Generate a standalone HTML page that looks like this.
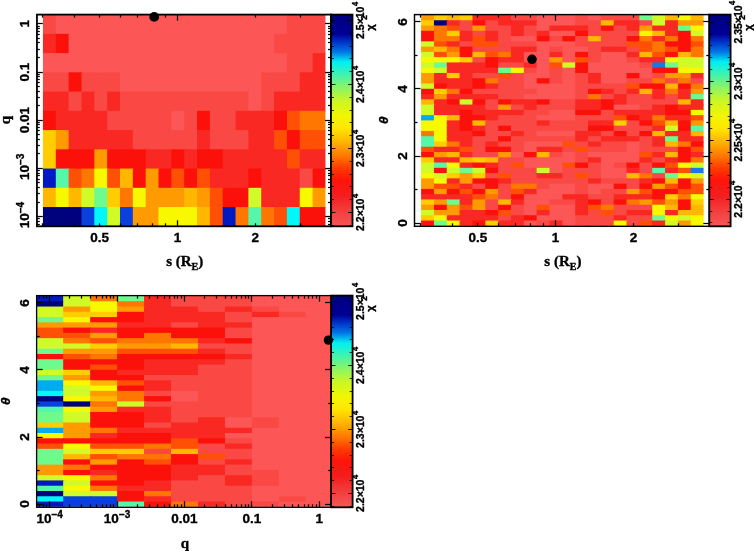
<!DOCTYPE html>
<html><head><meta charset="utf-8"><style>
html,body{margin:0;padding:0;background:#fff;}
svg{display:block;filter:blur(0.45px);}
</style></head><body>
<svg width="754" height="551" viewBox="0 0 754 551">
<rect x="0" y="0" width="754" height="551" fill="#fff"/>
<defs><linearGradient id="cbg" x1="0" y1="0" x2="0" y2="1">
<stop offset="0.0" stop-color="rgb(0, 0, 125)"/>
<stop offset="0.092" stop-color="rgb(0, 0, 150)"/>
<stop offset="0.129" stop-color="rgb(0, 50, 200)"/>
<stop offset="0.177" stop-color="rgb(0, 120, 230)"/>
<stop offset="0.224" stop-color="rgb(0, 240, 242)"/>
<stop offset="0.271" stop-color="rgb(50, 242, 190)"/>
<stop offset="0.328" stop-color="rgb(120, 244, 120)"/>
<stop offset="0.403" stop-color="rgb(200, 246, 40)"/>
<stop offset="0.479" stop-color="rgb(242, 246, 0)"/>
<stop offset="0.536" stop-color="rgb(255, 230, 0)"/>
<stop offset="0.602" stop-color="rgb(255, 180, 0)"/>
<stop offset="0.668" stop-color="rgb(255, 120, 0)"/>
<stop offset="0.724" stop-color="rgb(255, 60, 0)"/>
<stop offset="0.781" stop-color="rgb(255, 20, 10)"/>
<stop offset="0.857" stop-color="rgb(244, 30, 30)"/>
<stop offset="0.923" stop-color="rgb(244, 60, 60)"/>
<stop offset="1.0" stop-color="rgb(246, 86, 86)"/>
</linearGradient></defs>
<rect x="42.95" y="14.60" width="14.04" height="20.45" fill="#fa4944"/>
<rect x="55.79" y="14.60" width="14.04" height="20.45" fill="#fc5656"/>
<rect x="68.63" y="14.60" width="14.04" height="20.45" fill="#fc5656"/>
<rect x="81.47" y="14.60" width="14.04" height="20.45" fill="#fc5656"/>
<rect x="94.31" y="14.60" width="14.04" height="20.45" fill="#fc5656"/>
<rect x="107.15" y="14.60" width="14.04" height="20.45" fill="#fc5656"/>
<rect x="119.99" y="14.60" width="14.04" height="20.45" fill="#fc5656"/>
<rect x="132.83" y="14.60" width="14.04" height="20.45" fill="#fc5656"/>
<rect x="145.67" y="14.60" width="14.04" height="20.45" fill="#fc5656"/>
<rect x="158.51" y="14.60" width="14.04" height="20.45" fill="#fc5656"/>
<rect x="171.35" y="14.60" width="14.04" height="20.45" fill="#fc5656"/>
<rect x="184.19" y="14.60" width="14.04" height="20.45" fill="#fc5656"/>
<rect x="197.03" y="14.60" width="14.04" height="20.45" fill="#fc5656"/>
<rect x="209.87" y="14.60" width="14.04" height="20.45" fill="#fc5656"/>
<rect x="222.71" y="14.60" width="14.04" height="20.45" fill="#fc5656"/>
<rect x="235.55" y="14.60" width="14.04" height="20.45" fill="#fc5656"/>
<rect x="248.39" y="14.60" width="14.04" height="20.45" fill="#fc5656"/>
<rect x="261.23" y="14.60" width="14.04" height="20.45" fill="#fc5656"/>
<rect x="274.07" y="14.60" width="14.04" height="20.45" fill="#fc5656"/>
<rect x="286.91" y="14.60" width="14.04" height="20.45" fill="#fa4944"/>
<rect x="299.75" y="14.60" width="14.04" height="20.45" fill="#fa4944"/>
<rect x="312.59" y="14.60" width="12.84" height="20.45" fill="#fa4944"/>
<rect x="42.95" y="33.85" width="14.04" height="20.45" fill="#fa2822"/>
<rect x="55.79" y="33.85" width="14.04" height="20.45" fill="#fc100a"/>
<rect x="68.63" y="33.85" width="14.04" height="20.45" fill="#fc5656"/>
<rect x="81.47" y="33.85" width="14.04" height="20.45" fill="#fc5656"/>
<rect x="94.31" y="33.85" width="14.04" height="20.45" fill="#fc5656"/>
<rect x="107.15" y="33.85" width="14.04" height="20.45" fill="#fc5656"/>
<rect x="119.99" y="33.85" width="14.04" height="20.45" fill="#fc5656"/>
<rect x="132.83" y="33.85" width="14.04" height="20.45" fill="#fc5656"/>
<rect x="145.67" y="33.85" width="14.04" height="20.45" fill="#fc5656"/>
<rect x="158.51" y="33.85" width="14.04" height="20.45" fill="#fc5656"/>
<rect x="171.35" y="33.85" width="14.04" height="20.45" fill="#fc5656"/>
<rect x="184.19" y="33.85" width="14.04" height="20.45" fill="#fc5656"/>
<rect x="197.03" y="33.85" width="14.04" height="20.45" fill="#fc5656"/>
<rect x="209.87" y="33.85" width="14.04" height="20.45" fill="#fc5656"/>
<rect x="222.71" y="33.85" width="14.04" height="20.45" fill="#fc5656"/>
<rect x="235.55" y="33.85" width="14.04" height="20.45" fill="#fc5656"/>
<rect x="248.39" y="33.85" width="14.04" height="20.45" fill="#fc5656"/>
<rect x="261.23" y="33.85" width="14.04" height="20.45" fill="#fc5656"/>
<rect x="274.07" y="33.85" width="14.04" height="20.45" fill="#fa4944"/>
<rect x="286.91" y="33.85" width="14.04" height="20.45" fill="#fa4944"/>
<rect x="299.75" y="33.85" width="14.04" height="20.45" fill="#fa4944"/>
<rect x="312.59" y="33.85" width="12.84" height="20.45" fill="#fa4944"/>
<rect x="42.95" y="53.09" width="14.04" height="20.45" fill="#fc5656"/>
<rect x="55.79" y="53.09" width="14.04" height="20.45" fill="#fc5656"/>
<rect x="68.63" y="53.09" width="14.04" height="20.45" fill="#fc5656"/>
<rect x="81.47" y="53.09" width="14.04" height="20.45" fill="#fc5656"/>
<rect x="94.31" y="53.09" width="14.04" height="20.45" fill="#fc5656"/>
<rect x="107.15" y="53.09" width="14.04" height="20.45" fill="#fc5656"/>
<rect x="119.99" y="53.09" width="14.04" height="20.45" fill="#fc5656"/>
<rect x="132.83" y="53.09" width="14.04" height="20.45" fill="#fc5656"/>
<rect x="145.67" y="53.09" width="14.04" height="20.45" fill="#fc5656"/>
<rect x="158.51" y="53.09" width="14.04" height="20.45" fill="#fc5656"/>
<rect x="171.35" y="53.09" width="14.04" height="20.45" fill="#fc5656"/>
<rect x="184.19" y="53.09" width="14.04" height="20.45" fill="#fc5656"/>
<rect x="197.03" y="53.09" width="14.04" height="20.45" fill="#fc5656"/>
<rect x="209.87" y="53.09" width="14.04" height="20.45" fill="#fc5656"/>
<rect x="222.71" y="53.09" width="14.04" height="20.45" fill="#fc5656"/>
<rect x="235.55" y="53.09" width="14.04" height="20.45" fill="#fc5656"/>
<rect x="248.39" y="53.09" width="14.04" height="20.45" fill="#fc5656"/>
<rect x="261.23" y="53.09" width="14.04" height="20.45" fill="#fc5656"/>
<rect x="274.07" y="53.09" width="14.04" height="20.45" fill="#fc5656"/>
<rect x="286.91" y="53.09" width="14.04" height="20.45" fill="#fa4944"/>
<rect x="299.75" y="53.09" width="14.04" height="20.45" fill="#fa4944"/>
<rect x="312.59" y="53.09" width="12.84" height="20.45" fill="#fa2822"/>
<rect x="42.95" y="72.34" width="14.04" height="20.45" fill="#fa4944"/>
<rect x="55.79" y="72.34" width="14.04" height="20.45" fill="#fa4944"/>
<rect x="68.63" y="72.34" width="14.04" height="20.45" fill="#fc100a"/>
<rect x="81.47" y="72.34" width="14.04" height="20.45" fill="#fa4944"/>
<rect x="94.31" y="72.34" width="14.04" height="20.45" fill="#fa4944"/>
<rect x="107.15" y="72.34" width="14.04" height="20.45" fill="#fa4944"/>
<rect x="119.99" y="72.34" width="14.04" height="20.45" fill="#fc5656"/>
<rect x="132.83" y="72.34" width="14.04" height="20.45" fill="#fc5656"/>
<rect x="145.67" y="72.34" width="14.04" height="20.45" fill="#fc5656"/>
<rect x="158.51" y="72.34" width="14.04" height="20.45" fill="#fc5656"/>
<rect x="171.35" y="72.34" width="14.04" height="20.45" fill="#fc5656"/>
<rect x="184.19" y="72.34" width="14.04" height="20.45" fill="#fc5656"/>
<rect x="197.03" y="72.34" width="14.04" height="20.45" fill="#fc5656"/>
<rect x="209.87" y="72.34" width="14.04" height="20.45" fill="#fc5656"/>
<rect x="222.71" y="72.34" width="14.04" height="20.45" fill="#fc5656"/>
<rect x="235.55" y="72.34" width="14.04" height="20.45" fill="#fc5656"/>
<rect x="248.39" y="72.34" width="14.04" height="20.45" fill="#fc5656"/>
<rect x="261.23" y="72.34" width="14.04" height="20.45" fill="#fa4944"/>
<rect x="274.07" y="72.34" width="14.04" height="20.45" fill="#fa4944"/>
<rect x="286.91" y="72.34" width="14.04" height="20.45" fill="#fa4944"/>
<rect x="299.75" y="72.34" width="14.04" height="20.45" fill="#fa2822"/>
<rect x="312.59" y="72.34" width="12.84" height="20.45" fill="#fa2822"/>
<rect x="42.95" y="91.58" width="14.04" height="20.45" fill="#fa2822"/>
<rect x="55.79" y="91.58" width="14.04" height="20.45" fill="#fa2822"/>
<rect x="68.63" y="91.58" width="14.04" height="20.45" fill="#fa4944"/>
<rect x="81.47" y="91.58" width="14.04" height="20.45" fill="#fa2822"/>
<rect x="94.31" y="91.58" width="14.04" height="20.45" fill="#fa4944"/>
<rect x="107.15" y="91.58" width="14.04" height="20.45" fill="#fa2822"/>
<rect x="119.99" y="91.58" width="14.04" height="20.45" fill="#fa4944"/>
<rect x="132.83" y="91.58" width="14.04" height="20.45" fill="#fa4944"/>
<rect x="145.67" y="91.58" width="14.04" height="20.45" fill="#fa4944"/>
<rect x="158.51" y="91.58" width="14.04" height="20.45" fill="#fa4944"/>
<rect x="171.35" y="91.58" width="14.04" height="20.45" fill="#fa4944"/>
<rect x="184.19" y="91.58" width="14.04" height="20.45" fill="#fa4944"/>
<rect x="197.03" y="91.58" width="14.04" height="20.45" fill="#fa4944"/>
<rect x="209.87" y="91.58" width="14.04" height="20.45" fill="#fa4944"/>
<rect x="222.71" y="91.58" width="14.04" height="20.45" fill="#fa4944"/>
<rect x="235.55" y="91.58" width="14.04" height="20.45" fill="#fa4944"/>
<rect x="248.39" y="91.58" width="14.04" height="20.45" fill="#fc5656"/>
<rect x="261.23" y="91.58" width="14.04" height="20.45" fill="#fa4944"/>
<rect x="274.07" y="91.58" width="14.04" height="20.45" fill="#fa2822"/>
<rect x="286.91" y="91.58" width="14.04" height="20.45" fill="#fa2822"/>
<rect x="299.75" y="91.58" width="14.04" height="20.45" fill="#fa2822"/>
<rect x="312.59" y="91.58" width="12.84" height="20.45" fill="#fa2822"/>
<rect x="42.95" y="110.83" width="14.04" height="20.45" fill="#fc100a"/>
<rect x="55.79" y="110.83" width="14.04" height="20.45" fill="#fa2822"/>
<rect x="68.63" y="110.83" width="14.04" height="20.45" fill="#fa2822"/>
<rect x="81.47" y="110.83" width="14.04" height="20.45" fill="#fa2822"/>
<rect x="94.31" y="110.83" width="14.04" height="20.45" fill="#fa2822"/>
<rect x="107.15" y="110.83" width="14.04" height="20.45" fill="#fa4944"/>
<rect x="119.99" y="110.83" width="14.04" height="20.45" fill="#fa4944"/>
<rect x="132.83" y="110.83" width="14.04" height="20.45" fill="#fa4944"/>
<rect x="145.67" y="110.83" width="14.04" height="20.45" fill="#fa4944"/>
<rect x="158.51" y="110.83" width="14.04" height="20.45" fill="#fa4944"/>
<rect x="171.35" y="110.83" width="14.04" height="20.45" fill="#fc5656"/>
<rect x="184.19" y="110.83" width="14.04" height="20.45" fill="#fa4944"/>
<rect x="197.03" y="110.83" width="14.04" height="20.45" fill="#fc100a"/>
<rect x="209.87" y="110.83" width="14.04" height="20.45" fill="#fa4944"/>
<rect x="222.71" y="110.83" width="14.04" height="20.45" fill="#fa4944"/>
<rect x="235.55" y="110.83" width="14.04" height="20.45" fill="#fa2822"/>
<rect x="248.39" y="110.83" width="14.04" height="20.45" fill="#fa2822"/>
<rect x="261.23" y="110.83" width="14.04" height="20.45" fill="#fa2822"/>
<rect x="274.07" y="110.83" width="14.04" height="20.45" fill="#fc100a"/>
<rect x="286.91" y="110.83" width="14.04" height="20.45" fill="#ff5005"/>
<rect x="299.75" y="110.83" width="14.04" height="20.45" fill="#ff7600"/>
<rect x="312.59" y="110.83" width="12.84" height="20.45" fill="#ff7600"/>
<rect x="42.95" y="130.07" width="14.04" height="20.45" fill="#ffcd00"/>
<rect x="55.79" y="130.07" width="14.04" height="20.45" fill="#ff9b00"/>
<rect x="68.63" y="130.07" width="14.04" height="20.45" fill="#fa2822"/>
<rect x="81.47" y="130.07" width="14.04" height="20.45" fill="#fa2822"/>
<rect x="94.31" y="130.07" width="14.04" height="20.45" fill="#fa2822"/>
<rect x="107.15" y="130.07" width="14.04" height="20.45" fill="#fa2822"/>
<rect x="119.99" y="130.07" width="14.04" height="20.45" fill="#fa2822"/>
<rect x="132.83" y="130.07" width="14.04" height="20.45" fill="#fa4944"/>
<rect x="145.67" y="130.07" width="14.04" height="20.45" fill="#fa4944"/>
<rect x="158.51" y="130.07" width="14.04" height="20.45" fill="#fa4944"/>
<rect x="171.35" y="130.07" width="14.04" height="20.45" fill="#fa4944"/>
<rect x="184.19" y="130.07" width="14.04" height="20.45" fill="#fa4944"/>
<rect x="197.03" y="130.07" width="14.04" height="20.45" fill="#fa2822"/>
<rect x="209.87" y="130.07" width="14.04" height="20.45" fill="#fa4944"/>
<rect x="222.71" y="130.07" width="14.04" height="20.45" fill="#fa4944"/>
<rect x="235.55" y="130.07" width="14.04" height="20.45" fill="#fa4944"/>
<rect x="248.39" y="130.07" width="14.04" height="20.45" fill="#fa2822"/>
<rect x="261.23" y="130.07" width="14.04" height="20.45" fill="#fa2822"/>
<rect x="274.07" y="130.07" width="14.04" height="20.45" fill="#ff5005"/>
<rect x="286.91" y="130.07" width="14.04" height="20.45" fill="#fc100a"/>
<rect x="299.75" y="130.07" width="14.04" height="20.45" fill="#ff5005"/>
<rect x="312.59" y="130.07" width="12.84" height="20.45" fill="#ff5005"/>
<rect x="42.95" y="149.32" width="14.04" height="20.45" fill="#ffcd00"/>
<rect x="55.79" y="149.32" width="14.04" height="20.45" fill="#fc100a"/>
<rect x="68.63" y="149.32" width="14.04" height="20.45" fill="#fc100a"/>
<rect x="81.47" y="149.32" width="14.04" height="20.45" fill="#fc100a"/>
<rect x="94.31" y="149.32" width="14.04" height="20.45" fill="#ff9b00"/>
<rect x="107.15" y="149.32" width="14.04" height="20.45" fill="#fc100a"/>
<rect x="119.99" y="149.32" width="14.04" height="20.45" fill="#fc100a"/>
<rect x="132.83" y="149.32" width="14.04" height="20.45" fill="#fc100a"/>
<rect x="145.67" y="149.32" width="14.04" height="20.45" fill="#fa2822"/>
<rect x="158.51" y="149.32" width="14.04" height="20.45" fill="#fa2822"/>
<rect x="171.35" y="149.32" width="14.04" height="20.45" fill="#fc100a"/>
<rect x="184.19" y="149.32" width="14.04" height="20.45" fill="#fa2822"/>
<rect x="197.03" y="149.32" width="14.04" height="20.45" fill="#fc100a"/>
<rect x="209.87" y="149.32" width="14.04" height="20.45" fill="#fc100a"/>
<rect x="222.71" y="149.32" width="14.04" height="20.45" fill="#fa2822"/>
<rect x="235.55" y="149.32" width="14.04" height="20.45" fill="#fa2822"/>
<rect x="248.39" y="149.32" width="14.04" height="20.45" fill="#fa2822"/>
<rect x="261.23" y="149.32" width="14.04" height="20.45" fill="#fa2822"/>
<rect x="274.07" y="149.32" width="14.04" height="20.45" fill="#fa2822"/>
<rect x="286.91" y="149.32" width="14.04" height="20.45" fill="#ff5005"/>
<rect x="299.75" y="149.32" width="14.04" height="20.45" fill="#fa2822"/>
<rect x="312.59" y="149.32" width="12.84" height="20.45" fill="#fa2822"/>
<rect x="42.95" y="168.56" width="14.04" height="20.45" fill="#0019c3"/>
<rect x="55.79" y="168.56" width="14.04" height="20.45" fill="#55f8aa"/>
<rect x="68.63" y="168.56" width="14.04" height="20.45" fill="#ff5005"/>
<rect x="81.47" y="168.56" width="14.04" height="20.45" fill="#ff7600"/>
<rect x="94.31" y="168.56" width="14.04" height="20.45" fill="#f8f800"/>
<rect x="107.15" y="168.56" width="14.04" height="20.45" fill="#ff5005"/>
<rect x="119.99" y="168.56" width="14.04" height="20.45" fill="#ffb700"/>
<rect x="132.83" y="168.56" width="14.04" height="20.45" fill="#fc100a"/>
<rect x="145.67" y="168.56" width="14.04" height="20.45" fill="#ff9b00"/>
<rect x="158.51" y="168.56" width="14.04" height="20.45" fill="#fc100a"/>
<rect x="171.35" y="168.56" width="14.04" height="20.45" fill="#ff5005"/>
<rect x="184.19" y="168.56" width="14.04" height="20.45" fill="#fc100a"/>
<rect x="197.03" y="168.56" width="14.04" height="20.45" fill="#ff5005"/>
<rect x="209.87" y="168.56" width="14.04" height="20.45" fill="#fa2822"/>
<rect x="222.71" y="168.56" width="14.04" height="20.45" fill="#fa2822"/>
<rect x="235.55" y="168.56" width="14.04" height="20.45" fill="#fa2822"/>
<rect x="248.39" y="168.56" width="14.04" height="20.45" fill="#fc100a"/>
<rect x="261.23" y="168.56" width="14.04" height="20.45" fill="#fa2822"/>
<rect x="274.07" y="168.56" width="14.04" height="20.45" fill="#fa2822"/>
<rect x="286.91" y="168.56" width="14.04" height="20.45" fill="#fa2822"/>
<rect x="299.75" y="168.56" width="14.04" height="20.45" fill="#fa4944"/>
<rect x="312.59" y="168.56" width="12.84" height="20.45" fill="#fc100a"/>
<rect x="42.95" y="187.81" width="14.04" height="20.45" fill="#ffb700"/>
<rect x="55.79" y="187.81" width="14.04" height="20.45" fill="#f8f800"/>
<rect x="68.63" y="187.81" width="14.04" height="20.45" fill="#ffb700"/>
<rect x="81.47" y="187.81" width="14.04" height="20.45" fill="#d0fa28"/>
<rect x="94.31" y="187.81" width="14.04" height="20.45" fill="#6efa8c"/>
<rect x="107.15" y="187.81" width="14.04" height="20.45" fill="#ffcd00"/>
<rect x="119.99" y="187.81" width="14.04" height="20.45" fill="#ff7600"/>
<rect x="132.83" y="187.81" width="14.04" height="20.45" fill="#f8f800"/>
<rect x="145.67" y="187.81" width="14.04" height="20.45" fill="#ff9b00"/>
<rect x="158.51" y="187.81" width="14.04" height="20.45" fill="#ff9b00"/>
<rect x="171.35" y="187.81" width="14.04" height="20.45" fill="#ff9b00"/>
<rect x="184.19" y="187.81" width="14.04" height="20.45" fill="#ffb700"/>
<rect x="197.03" y="187.81" width="14.04" height="20.45" fill="#ff9b00"/>
<rect x="209.87" y="187.81" width="14.04" height="20.45" fill="#ff5005"/>
<rect x="222.71" y="187.81" width="14.04" height="20.45" fill="#fc100a"/>
<rect x="235.55" y="187.81" width="14.04" height="20.45" fill="#fc100a"/>
<rect x="248.39" y="187.81" width="14.04" height="20.45" fill="#d0fa28"/>
<rect x="261.23" y="187.81" width="14.04" height="20.45" fill="#fa2822"/>
<rect x="274.07" y="187.81" width="14.04" height="20.45" fill="#fa2822"/>
<rect x="286.91" y="187.81" width="14.04" height="20.45" fill="#fa2822"/>
<rect x="299.75" y="187.81" width="14.04" height="20.45" fill="#f8f800"/>
<rect x="312.59" y="187.81" width="12.84" height="20.45" fill="#ff9b00"/>
<rect x="42.95" y="207.05" width="14.04" height="19.25" fill="#00027d"/>
<rect x="55.79" y="207.05" width="14.04" height="19.25" fill="#00027d"/>
<rect x="68.63" y="207.05" width="14.04" height="19.25" fill="#00027d"/>
<rect x="81.47" y="207.05" width="14.04" height="19.25" fill="#0a41de"/>
<rect x="94.31" y="207.05" width="14.04" height="19.25" fill="#00f8fa"/>
<rect x="107.15" y="207.05" width="14.04" height="19.25" fill="#d0fa28"/>
<rect x="119.99" y="207.05" width="14.04" height="19.25" fill="#0a41de"/>
<rect x="132.83" y="207.05" width="14.04" height="19.25" fill="#ff9b00"/>
<rect x="145.67" y="207.05" width="14.04" height="19.25" fill="#ff9b00"/>
<rect x="158.51" y="207.05" width="14.04" height="19.25" fill="#f8f800"/>
<rect x="171.35" y="207.05" width="14.04" height="19.25" fill="#f8f800"/>
<rect x="184.19" y="207.05" width="14.04" height="19.25" fill="#f8f800"/>
<rect x="197.03" y="207.05" width="14.04" height="19.25" fill="#ffb700"/>
<rect x="209.87" y="207.05" width="14.04" height="19.25" fill="#ff5005"/>
<rect x="222.71" y="207.05" width="14.04" height="19.25" fill="#0019c3"/>
<rect x="235.55" y="207.05" width="14.04" height="19.25" fill="#ff7600"/>
<rect x="248.39" y="207.05" width="14.04" height="19.25" fill="#55f8aa"/>
<rect x="261.23" y="207.05" width="14.04" height="19.25" fill="#ff7600"/>
<rect x="274.07" y="207.05" width="14.04" height="19.25" fill="#ff5005"/>
<rect x="286.91" y="207.05" width="14.04" height="19.25" fill="#00f8fa"/>
<rect x="299.75" y="207.05" width="14.04" height="19.25" fill="#fc100a"/>
<rect x="312.59" y="207.05" width="12.84" height="19.25" fill="#fc100a"/>
<line x1="36.80" y1="224.50" x2="39.80" y2="224.50" stroke="#000" stroke-width="1.25"/>
<line x1="331.00" y1="224.50" x2="328.00" y2="224.50" stroke="#000" stroke-width="1.25"/>
<line x1="36.80" y1="221.50" x2="39.80" y2="221.50" stroke="#000" stroke-width="1.25"/>
<line x1="331.00" y1="221.50" x2="328.00" y2="221.50" stroke="#000" stroke-width="1.25"/>
<line x1="36.80" y1="218.50" x2="39.80" y2="218.50" stroke="#000" stroke-width="1.25"/>
<line x1="331.00" y1="218.50" x2="328.00" y2="218.50" stroke="#000" stroke-width="1.25"/>
<line x1="36.80" y1="216.50" x2="42.80" y2="216.50" stroke="#000" stroke-width="1.25"/>
<line x1="331.00" y1="216.50" x2="325.00" y2="216.50" stroke="#000" stroke-width="1.25"/>
<line x1="36.80" y1="202.50" x2="39.80" y2="202.50" stroke="#000" stroke-width="1.25"/>
<line x1="331.00" y1="202.50" x2="328.00" y2="202.50" stroke="#000" stroke-width="1.25"/>
<line x1="36.80" y1="193.50" x2="39.80" y2="193.50" stroke="#000" stroke-width="1.25"/>
<line x1="331.00" y1="193.50" x2="328.00" y2="193.50" stroke="#000" stroke-width="1.25"/>
<line x1="36.80" y1="187.50" x2="39.80" y2="187.50" stroke="#000" stroke-width="1.25"/>
<line x1="331.00" y1="187.50" x2="328.00" y2="187.50" stroke="#000" stroke-width="1.25"/>
<line x1="36.80" y1="182.50" x2="39.80" y2="182.50" stroke="#000" stroke-width="1.25"/>
<line x1="331.00" y1="182.50" x2="328.00" y2="182.50" stroke="#000" stroke-width="1.25"/>
<line x1="36.80" y1="179.50" x2="39.80" y2="179.50" stroke="#000" stroke-width="1.25"/>
<line x1="331.00" y1="179.50" x2="328.00" y2="179.50" stroke="#000" stroke-width="1.25"/>
<line x1="36.80" y1="175.50" x2="39.80" y2="175.50" stroke="#000" stroke-width="1.25"/>
<line x1="331.00" y1="175.50" x2="328.00" y2="175.50" stroke="#000" stroke-width="1.25"/>
<line x1="36.80" y1="173.50" x2="39.80" y2="173.50" stroke="#000" stroke-width="1.25"/>
<line x1="331.00" y1="173.50" x2="328.00" y2="173.50" stroke="#000" stroke-width="1.25"/>
<line x1="36.80" y1="170.50" x2="39.80" y2="170.50" stroke="#000" stroke-width="1.25"/>
<line x1="331.00" y1="170.50" x2="328.00" y2="170.50" stroke="#000" stroke-width="1.25"/>
<line x1="36.80" y1="168.50" x2="42.80" y2="168.50" stroke="#000" stroke-width="1.25"/>
<line x1="331.00" y1="168.50" x2="325.00" y2="168.50" stroke="#000" stroke-width="1.25"/>
<line x1="36.80" y1="153.50" x2="39.80" y2="153.50" stroke="#000" stroke-width="1.25"/>
<line x1="331.00" y1="153.50" x2="328.00" y2="153.50" stroke="#000" stroke-width="1.25"/>
<line x1="36.80" y1="145.50" x2="39.80" y2="145.50" stroke="#000" stroke-width="1.25"/>
<line x1="331.00" y1="145.50" x2="328.00" y2="145.50" stroke="#000" stroke-width="1.25"/>
<line x1="36.80" y1="139.50" x2="39.80" y2="139.50" stroke="#000" stroke-width="1.25"/>
<line x1="331.00" y1="139.50" x2="328.00" y2="139.50" stroke="#000" stroke-width="1.25"/>
<line x1="36.80" y1="134.50" x2="39.80" y2="134.50" stroke="#000" stroke-width="1.25"/>
<line x1="331.00" y1="134.50" x2="328.00" y2="134.50" stroke="#000" stroke-width="1.25"/>
<line x1="36.80" y1="130.50" x2="39.80" y2="130.50" stroke="#000" stroke-width="1.25"/>
<line x1="331.00" y1="130.50" x2="328.00" y2="130.50" stroke="#000" stroke-width="1.25"/>
<line x1="36.80" y1="127.50" x2="39.80" y2="127.50" stroke="#000" stroke-width="1.25"/>
<line x1="331.00" y1="127.50" x2="328.00" y2="127.50" stroke="#000" stroke-width="1.25"/>
<line x1="36.80" y1="124.50" x2="39.80" y2="124.50" stroke="#000" stroke-width="1.25"/>
<line x1="331.00" y1="124.50" x2="328.00" y2="124.50" stroke="#000" stroke-width="1.25"/>
<line x1="36.80" y1="122.50" x2="39.80" y2="122.50" stroke="#000" stroke-width="1.25"/>
<line x1="331.00" y1="122.50" x2="328.00" y2="122.50" stroke="#000" stroke-width="1.25"/>
<line x1="36.80" y1="120.50" x2="42.80" y2="120.50" stroke="#000" stroke-width="1.25"/>
<line x1="331.00" y1="120.50" x2="325.00" y2="120.50" stroke="#000" stroke-width="1.25"/>
<line x1="36.80" y1="105.50" x2="39.80" y2="105.50" stroke="#000" stroke-width="1.25"/>
<line x1="331.00" y1="105.50" x2="328.00" y2="105.50" stroke="#000" stroke-width="1.25"/>
<line x1="36.80" y1="97.50" x2="39.80" y2="97.50" stroke="#000" stroke-width="1.25"/>
<line x1="331.00" y1="97.50" x2="328.00" y2="97.50" stroke="#000" stroke-width="1.25"/>
<line x1="36.80" y1="91.50" x2="39.80" y2="91.50" stroke="#000" stroke-width="1.25"/>
<line x1="331.00" y1="91.50" x2="328.00" y2="91.50" stroke="#000" stroke-width="1.25"/>
<line x1="36.80" y1="86.50" x2="39.80" y2="86.50" stroke="#000" stroke-width="1.25"/>
<line x1="331.00" y1="86.50" x2="328.00" y2="86.50" stroke="#000" stroke-width="1.25"/>
<line x1="36.80" y1="82.50" x2="39.80" y2="82.50" stroke="#000" stroke-width="1.25"/>
<line x1="331.00" y1="82.50" x2="328.00" y2="82.50" stroke="#000" stroke-width="1.25"/>
<line x1="36.80" y1="79.50" x2="39.80" y2="79.50" stroke="#000" stroke-width="1.25"/>
<line x1="331.00" y1="79.50" x2="328.00" y2="79.50" stroke="#000" stroke-width="1.25"/>
<line x1="36.80" y1="76.50" x2="39.80" y2="76.50" stroke="#000" stroke-width="1.25"/>
<line x1="331.00" y1="76.50" x2="328.00" y2="76.50" stroke="#000" stroke-width="1.25"/>
<line x1="36.80" y1="74.50" x2="39.80" y2="74.50" stroke="#000" stroke-width="1.25"/>
<line x1="331.00" y1="74.50" x2="328.00" y2="74.50" stroke="#000" stroke-width="1.25"/>
<line x1="36.80" y1="72.50" x2="42.80" y2="72.50" stroke="#000" stroke-width="1.25"/>
<line x1="331.00" y1="72.50" x2="325.00" y2="72.50" stroke="#000" stroke-width="1.25"/>
<line x1="36.80" y1="57.50" x2="39.80" y2="57.50" stroke="#000" stroke-width="1.25"/>
<line x1="331.00" y1="57.50" x2="328.00" y2="57.50" stroke="#000" stroke-width="1.25"/>
<line x1="36.80" y1="49.50" x2="39.80" y2="49.50" stroke="#000" stroke-width="1.25"/>
<line x1="331.00" y1="49.50" x2="328.00" y2="49.50" stroke="#000" stroke-width="1.25"/>
<line x1="36.80" y1="42.50" x2="39.80" y2="42.50" stroke="#000" stroke-width="1.25"/>
<line x1="331.00" y1="42.50" x2="328.00" y2="42.50" stroke="#000" stroke-width="1.25"/>
<line x1="36.80" y1="38.50" x2="39.80" y2="38.50" stroke="#000" stroke-width="1.25"/>
<line x1="331.00" y1="38.50" x2="328.00" y2="38.50" stroke="#000" stroke-width="1.25"/>
<line x1="36.80" y1="34.50" x2="39.80" y2="34.50" stroke="#000" stroke-width="1.25"/>
<line x1="331.00" y1="34.50" x2="328.00" y2="34.50" stroke="#000" stroke-width="1.25"/>
<line x1="36.80" y1="31.50" x2="39.80" y2="31.50" stroke="#000" stroke-width="1.25"/>
<line x1="331.00" y1="31.50" x2="328.00" y2="31.50" stroke="#000" stroke-width="1.25"/>
<line x1="36.80" y1="28.50" x2="39.80" y2="28.50" stroke="#000" stroke-width="1.25"/>
<line x1="331.00" y1="28.50" x2="328.00" y2="28.50" stroke="#000" stroke-width="1.25"/>
<line x1="36.80" y1="26.50" x2="39.80" y2="26.50" stroke="#000" stroke-width="1.25"/>
<line x1="331.00" y1="26.50" x2="328.00" y2="26.50" stroke="#000" stroke-width="1.25"/>
<line x1="36.80" y1="23.50" x2="42.80" y2="23.50" stroke="#000" stroke-width="1.25"/>
<line x1="331.00" y1="23.50" x2="325.00" y2="23.50" stroke="#000" stroke-width="1.25"/>
<line x1="42.50" y1="226.30" x2="42.50" y2="223.30" stroke="#000" stroke-width="1.25"/>
<line x1="42.50" y1="14.60" x2="42.50" y2="17.60" stroke="#000" stroke-width="1.25"/>
<line x1="74.50" y1="226.30" x2="74.50" y2="223.30" stroke="#000" stroke-width="1.25"/>
<line x1="74.50" y1="14.60" x2="74.50" y2="17.60" stroke="#000" stroke-width="1.25"/>
<line x1="99.50" y1="226.30" x2="99.50" y2="223.30" stroke="#000" stroke-width="1.25"/>
<line x1="99.50" y1="14.60" x2="99.50" y2="17.60" stroke="#000" stroke-width="1.25"/>
<line x1="120.50" y1="226.30" x2="120.50" y2="223.30" stroke="#000" stroke-width="1.25"/>
<line x1="120.50" y1="14.60" x2="120.50" y2="17.60" stroke="#000" stroke-width="1.25"/>
<line x1="137.50" y1="226.30" x2="137.50" y2="223.30" stroke="#000" stroke-width="1.25"/>
<line x1="137.50" y1="14.60" x2="137.50" y2="17.60" stroke="#000" stroke-width="1.25"/>
<line x1="152.50" y1="226.30" x2="152.50" y2="223.30" stroke="#000" stroke-width="1.25"/>
<line x1="152.50" y1="14.60" x2="152.50" y2="17.60" stroke="#000" stroke-width="1.25"/>
<line x1="165.50" y1="226.30" x2="165.50" y2="223.30" stroke="#000" stroke-width="1.25"/>
<line x1="165.50" y1="14.60" x2="165.50" y2="17.60" stroke="#000" stroke-width="1.25"/>
<line x1="177.50" y1="226.30" x2="177.50" y2="220.30" stroke="#000" stroke-width="1.25"/>
<line x1="177.50" y1="14.60" x2="177.50" y2="20.60" stroke="#000" stroke-width="1.25"/>
<line x1="255.50" y1="226.30" x2="255.50" y2="223.30" stroke="#000" stroke-width="1.25"/>
<line x1="255.50" y1="14.60" x2="255.50" y2="17.60" stroke="#000" stroke-width="1.25"/>
<line x1="300.50" y1="226.30" x2="300.50" y2="223.30" stroke="#000" stroke-width="1.25"/>
<line x1="300.50" y1="14.60" x2="300.50" y2="17.60" stroke="#000" stroke-width="1.25"/>
<rect x="36.95" y="14.6" width="294.05" height="211.70" fill="none" stroke="#000" stroke-width="1.8"/>
<rect x="331.00" y="14.60" width="21.50" height="211.70" fill="url(#cbg)"/>
<line x1="331.00" y1="20.50" x2="334.00" y2="20.50" stroke="#000" stroke-width="0.8"/>
<line x1="352.50" y1="20.50" x2="349.50" y2="20.50" stroke="#000" stroke-width="0.8"/>
<line x1="331.00" y1="33.50" x2="334.00" y2="33.50" stroke="#000" stroke-width="0.8"/>
<line x1="352.50" y1="33.50" x2="349.50" y2="33.50" stroke="#000" stroke-width="0.8"/>
<line x1="331.00" y1="46.50" x2="334.00" y2="46.50" stroke="#000" stroke-width="0.8"/>
<line x1="352.50" y1="46.50" x2="349.50" y2="46.50" stroke="#000" stroke-width="0.8"/>
<line x1="331.00" y1="58.50" x2="334.00" y2="58.50" stroke="#000" stroke-width="0.8"/>
<line x1="352.50" y1="58.50" x2="349.50" y2="58.50" stroke="#000" stroke-width="0.8"/>
<line x1="331.00" y1="71.50" x2="334.00" y2="71.50" stroke="#000" stroke-width="0.8"/>
<line x1="352.50" y1="71.50" x2="349.50" y2="71.50" stroke="#000" stroke-width="0.8"/>
<line x1="331.00" y1="84.50" x2="334.00" y2="84.50" stroke="#000" stroke-width="0.8"/>
<line x1="352.50" y1="84.50" x2="349.50" y2="84.50" stroke="#000" stroke-width="0.8"/>
<line x1="331.00" y1="97.50" x2="334.00" y2="97.50" stroke="#000" stroke-width="0.8"/>
<line x1="352.50" y1="97.50" x2="349.50" y2="97.50" stroke="#000" stroke-width="0.8"/>
<line x1="331.00" y1="110.50" x2="334.00" y2="110.50" stroke="#000" stroke-width="0.8"/>
<line x1="352.50" y1="110.50" x2="349.50" y2="110.50" stroke="#000" stroke-width="0.8"/>
<line x1="331.00" y1="122.50" x2="334.00" y2="122.50" stroke="#000" stroke-width="0.8"/>
<line x1="352.50" y1="122.50" x2="349.50" y2="122.50" stroke="#000" stroke-width="0.8"/>
<line x1="331.00" y1="135.50" x2="334.00" y2="135.50" stroke="#000" stroke-width="0.8"/>
<line x1="352.50" y1="135.50" x2="349.50" y2="135.50" stroke="#000" stroke-width="0.8"/>
<line x1="331.00" y1="148.50" x2="334.00" y2="148.50" stroke="#000" stroke-width="0.8"/>
<line x1="352.50" y1="148.50" x2="349.50" y2="148.50" stroke="#000" stroke-width="0.8"/>
<line x1="331.00" y1="161.50" x2="334.00" y2="161.50" stroke="#000" stroke-width="0.8"/>
<line x1="352.50" y1="161.50" x2="349.50" y2="161.50" stroke="#000" stroke-width="0.8"/>
<line x1="331.00" y1="174.50" x2="334.00" y2="174.50" stroke="#000" stroke-width="0.8"/>
<line x1="352.50" y1="174.50" x2="349.50" y2="174.50" stroke="#000" stroke-width="0.8"/>
<line x1="331.00" y1="186.50" x2="334.00" y2="186.50" stroke="#000" stroke-width="0.8"/>
<line x1="352.50" y1="186.50" x2="349.50" y2="186.50" stroke="#000" stroke-width="0.8"/>
<line x1="331.00" y1="199.50" x2="334.00" y2="199.50" stroke="#000" stroke-width="0.8"/>
<line x1="352.50" y1="199.50" x2="349.50" y2="199.50" stroke="#000" stroke-width="0.8"/>
<line x1="331.00" y1="212.50" x2="334.00" y2="212.50" stroke="#000" stroke-width="0.8"/>
<line x1="352.50" y1="212.50" x2="349.50" y2="212.50" stroke="#000" stroke-width="0.8"/>
<line x1="331.00" y1="225.50" x2="334.00" y2="225.50" stroke="#000" stroke-width="0.8"/>
<line x1="352.50" y1="225.50" x2="349.50" y2="225.50" stroke="#000" stroke-width="0.8"/>
<line x1="331.00" y1="20.50" x2="335.50" y2="20.50" stroke="#000" stroke-width="0.8"/>
<line x1="352.50" y1="20.50" x2="348.00" y2="20.50" stroke="#000" stroke-width="0.8"/>
<line x1="331.00" y1="84.50" x2="335.50" y2="84.50" stroke="#000" stroke-width="0.8"/>
<line x1="352.50" y1="84.50" x2="348.00" y2="84.50" stroke="#000" stroke-width="0.8"/>
<line x1="331.00" y1="148.50" x2="335.50" y2="148.50" stroke="#000" stroke-width="0.8"/>
<line x1="352.50" y1="148.50" x2="348.00" y2="148.50" stroke="#000" stroke-width="0.8"/>
<line x1="331.00" y1="212.50" x2="335.50" y2="212.50" stroke="#000" stroke-width="0.8"/>
<line x1="352.50" y1="212.50" x2="348.00" y2="212.50" stroke="#000" stroke-width="0.8"/>
<rect x="331.00" y="14.60" width="21.50" height="211.70" fill="none" stroke="#000" stroke-width="1.8"/>
<text transform="translate(29.20,23.80) rotate(-90)" font-family="Liberation Sans" font-weight="bold" font-size="13.5" text-anchor="middle" stroke="#000" stroke-width="0.35">1</text>
<text transform="translate(29.20,72.00) rotate(-90)" font-family="Liberation Sans" font-weight="bold" font-size="13.5" text-anchor="middle" stroke="#000" stroke-width="0.35">0.1</text>
<text transform="translate(29.20,120.20) rotate(-90)" font-family="Liberation Sans" font-weight="bold" font-size="13.5" text-anchor="middle" stroke="#000" stroke-width="0.35">0.01</text>
<text transform="translate(29.20,166.90) rotate(-90)" font-family="Liberation Sans" font-weight="bold" font-size="13.5" text-anchor="middle" stroke="#000" stroke-width="0.35">10<tspan dy="-5" font-size="10">−3</tspan></text>
<text transform="translate(29.20,215.10) rotate(-90)" font-family="Liberation Sans" font-weight="bold" font-size="13.5" text-anchor="middle" stroke="#000" stroke-width="0.35">10<tspan dy="-5" font-size="10">−4</tspan></text>
<text transform="translate(9.60,120.00) rotate(-90)" font-family="Liberation Serif" font-weight="bold" font-size="15" text-anchor="middle" stroke="#000" stroke-width="0.35">q</text>
<text transform="translate(99.58,241.70)" font-family="Liberation Sans" font-weight="bold" font-size="13.5" text-anchor="middle" stroke="#000" stroke-width="0.35">0.5</text>
<text transform="translate(177.40,241.70)" font-family="Liberation Sans" font-weight="bold" font-size="13.5" text-anchor="middle" stroke="#000" stroke-width="0.35">1</text>
<text transform="translate(255.22,241.70)" font-family="Liberation Sans" font-weight="bold" font-size="13.5" text-anchor="middle" stroke="#000" stroke-width="0.35">2</text>
<text transform="translate(184.70,266.30)" font-family="Liberation Serif" font-weight="bold" font-size="15" text-anchor="middle" stroke="#000" stroke-width="0.35">s (R<tspan dy="4" font-size="10">E</tspan><tspan dy="-4">)</tspan></text>
<text transform="translate(364.20,212.40) rotate(-90) scale(0.92,1)" font-family="Liberation Sans" font-weight="bold" font-size="11.4" text-anchor="middle" stroke="#000" stroke-width="0.35">2.2×10<tspan dx="0.5" dy="-6.5" font-size="8.2">4</tspan></text>
<text transform="translate(364.20,148.40) rotate(-90) scale(0.92,1)" font-family="Liberation Sans" font-weight="bold" font-size="11.4" text-anchor="middle" stroke="#000" stroke-width="0.35">2.3×10<tspan dx="0.5" dy="-6.5" font-size="8.2">4</tspan></text>
<text transform="translate(364.20,84.40) rotate(-90) scale(0.92,1)" font-family="Liberation Sans" font-weight="bold" font-size="11.4" text-anchor="middle" stroke="#000" stroke-width="0.35">2.4×10<tspan dx="0.5" dy="-6.5" font-size="8.2">4</tspan></text>
<text transform="translate(364.20,20.40) rotate(-90) scale(0.92,1)" font-family="Liberation Sans" font-weight="bold" font-size="11.4" text-anchor="middle" stroke="#000" stroke-width="0.35">2.5×10<tspan dx="0.5" dy="-6.5" font-size="8.2">4</tspan></text>
<text transform="translate(373.60,23.00) rotate(-90)" font-family="Liberation Sans" font-weight="bold" font-size="11.4" text-anchor="middle" stroke="#000" stroke-width="0.35">χ<tspan dx="4.5" dy="-7" font-size="8.2">2</tspan></text>
<circle cx="154.2" cy="16.9" r="4.9" fill="#000"/>
<rect x="421.10" y="15.00" width="14.04" height="6.47" fill="#ff9b00"/>
<rect x="433.94" y="15.00" width="14.04" height="6.47" fill="#ffcd00"/>
<rect x="446.78" y="15.00" width="14.04" height="6.47" fill="#ffb700"/>
<rect x="459.62" y="15.00" width="14.04" height="6.47" fill="#ffcd00"/>
<rect x="472.46" y="15.00" width="14.04" height="6.47" fill="#fa2822"/>
<rect x="485.30" y="15.00" width="14.04" height="6.47" fill="#fa2822"/>
<rect x="498.14" y="15.00" width="14.04" height="6.47" fill="#fa2822"/>
<rect x="510.98" y="15.00" width="14.04" height="6.47" fill="#fa4944"/>
<rect x="523.82" y="15.00" width="14.04" height="6.47" fill="#fa4944"/>
<rect x="536.66" y="15.00" width="14.04" height="6.47" fill="#fc5656"/>
<rect x="549.50" y="15.00" width="14.04" height="6.47" fill="#fc5656"/>
<rect x="562.34" y="15.00" width="14.04" height="6.47" fill="#fc5656"/>
<rect x="575.18" y="15.00" width="14.04" height="6.47" fill="#fa4944"/>
<rect x="588.02" y="15.00" width="14.04" height="6.47" fill="#fc5656"/>
<rect x="600.86" y="15.00" width="14.04" height="6.47" fill="#fa4944"/>
<rect x="613.70" y="15.00" width="14.04" height="6.47" fill="#fa4944"/>
<rect x="626.54" y="15.00" width="14.04" height="6.47" fill="#fa4944"/>
<rect x="639.38" y="15.00" width="14.04" height="6.47" fill="#6efa8c"/>
<rect x="652.22" y="15.00" width="14.04" height="6.47" fill="#d0fa28"/>
<rect x="665.06" y="15.00" width="14.04" height="6.47" fill="#ffb700"/>
<rect x="677.90" y="15.00" width="14.04" height="6.47" fill="#f8f800"/>
<rect x="690.74" y="15.00" width="12.84" height="6.47" fill="#ffb700"/>
<rect x="421.10" y="20.27" width="14.04" height="6.47" fill="#ffcd00"/>
<rect x="433.94" y="20.27" width="14.04" height="6.47" fill="#00027d"/>
<rect x="446.78" y="20.27" width="14.04" height="6.47" fill="#fa2822"/>
<rect x="459.62" y="20.27" width="14.04" height="6.47" fill="#fa4944"/>
<rect x="472.46" y="20.27" width="14.04" height="6.47" fill="#fc100a"/>
<rect x="485.30" y="20.27" width="14.04" height="6.47" fill="#fa4944"/>
<rect x="498.14" y="20.27" width="14.04" height="6.47" fill="#fa2822"/>
<rect x="510.98" y="20.27" width="14.04" height="6.47" fill="#fa2822"/>
<rect x="523.82" y="20.27" width="14.04" height="6.47" fill="#fa2822"/>
<rect x="536.66" y="20.27" width="14.04" height="6.47" fill="#fc5656"/>
<rect x="549.50" y="20.27" width="14.04" height="6.47" fill="#fc5656"/>
<rect x="562.34" y="20.27" width="14.04" height="6.47" fill="#fc5656"/>
<rect x="575.18" y="20.27" width="14.04" height="6.47" fill="#fa4944"/>
<rect x="588.02" y="20.27" width="14.04" height="6.47" fill="#fa4944"/>
<rect x="600.86" y="20.27" width="14.04" height="6.47" fill="#ffb700"/>
<rect x="613.70" y="20.27" width="14.04" height="6.47" fill="#fa2822"/>
<rect x="626.54" y="20.27" width="14.04" height="6.47" fill="#fa2822"/>
<rect x="639.38" y="20.27" width="14.04" height="6.47" fill="#fa4944"/>
<rect x="652.22" y="20.27" width="14.04" height="6.47" fill="#d0fa28"/>
<rect x="665.06" y="20.27" width="14.04" height="6.47" fill="#fa2822"/>
<rect x="677.90" y="20.27" width="14.04" height="6.47" fill="#ff9b00"/>
<rect x="690.74" y="20.27" width="12.84" height="6.47" fill="#ff9b00"/>
<rect x="421.10" y="25.54" width="14.04" height="6.47" fill="#ff9b00"/>
<rect x="433.94" y="25.54" width="14.04" height="6.47" fill="#ff7600"/>
<rect x="446.78" y="25.54" width="14.04" height="6.47" fill="#ff5005"/>
<rect x="459.62" y="25.54" width="14.04" height="6.47" fill="#fa4944"/>
<rect x="472.46" y="25.54" width="14.04" height="6.47" fill="#ff9b00"/>
<rect x="485.30" y="25.54" width="14.04" height="6.47" fill="#fa4944"/>
<rect x="498.14" y="25.54" width="14.04" height="6.47" fill="#fa4944"/>
<rect x="510.98" y="25.54" width="14.04" height="6.47" fill="#fa2822"/>
<rect x="523.82" y="25.54" width="14.04" height="6.47" fill="#fa4944"/>
<rect x="536.66" y="25.54" width="14.04" height="6.47" fill="#fc5656"/>
<rect x="549.50" y="25.54" width="14.04" height="6.47" fill="#fa2822"/>
<rect x="562.34" y="25.54" width="14.04" height="6.47" fill="#fa2822"/>
<rect x="575.18" y="25.54" width="14.04" height="6.47" fill="#fa2822"/>
<rect x="588.02" y="25.54" width="14.04" height="6.47" fill="#fa4944"/>
<rect x="600.86" y="25.54" width="14.04" height="6.47" fill="#fc100a"/>
<rect x="613.70" y="25.54" width="14.04" height="6.47" fill="#fa4944"/>
<rect x="626.54" y="25.54" width="14.04" height="6.47" fill="#fa2822"/>
<rect x="639.38" y="25.54" width="14.04" height="6.47" fill="#ff9b00"/>
<rect x="652.22" y="25.54" width="14.04" height="6.47" fill="#fa2822"/>
<rect x="665.06" y="25.54" width="14.04" height="6.47" fill="#fa2822"/>
<rect x="677.90" y="25.54" width="14.04" height="6.47" fill="#6efa8c"/>
<rect x="690.74" y="25.54" width="12.84" height="6.47" fill="#f8f800"/>
<rect x="421.10" y="30.81" width="14.04" height="6.47" fill="#fc100a"/>
<rect x="433.94" y="30.81" width="14.04" height="6.47" fill="#ff7600"/>
<rect x="446.78" y="30.81" width="14.04" height="6.47" fill="#ffcd00"/>
<rect x="459.62" y="30.81" width="14.04" height="6.47" fill="#fa2822"/>
<rect x="472.46" y="30.81" width="14.04" height="6.47" fill="#fa4944"/>
<rect x="485.30" y="30.81" width="14.04" height="6.47" fill="#fa2822"/>
<rect x="498.14" y="30.81" width="14.04" height="6.47" fill="#fa4944"/>
<rect x="510.98" y="30.81" width="14.04" height="6.47" fill="#fa2822"/>
<rect x="523.82" y="30.81" width="14.04" height="6.47" fill="#fa4944"/>
<rect x="536.66" y="30.81" width="14.04" height="6.47" fill="#fa2822"/>
<rect x="549.50" y="30.81" width="14.04" height="6.47" fill="#fc5656"/>
<rect x="562.34" y="30.81" width="14.04" height="6.47" fill="#fc5656"/>
<rect x="575.18" y="30.81" width="14.04" height="6.47" fill="#fc100a"/>
<rect x="588.02" y="30.81" width="14.04" height="6.47" fill="#fa4944"/>
<rect x="600.86" y="30.81" width="14.04" height="6.47" fill="#fa4944"/>
<rect x="613.70" y="30.81" width="14.04" height="6.47" fill="#fa4944"/>
<rect x="626.54" y="30.81" width="14.04" height="6.47" fill="#fa4944"/>
<rect x="639.38" y="30.81" width="14.04" height="6.47" fill="#f8f800"/>
<rect x="652.22" y="30.81" width="14.04" height="6.47" fill="#ffb700"/>
<rect x="665.06" y="30.81" width="14.04" height="6.47" fill="#fa2822"/>
<rect x="677.90" y="30.81" width="14.04" height="6.47" fill="#fc100a"/>
<rect x="690.74" y="30.81" width="12.84" height="6.47" fill="#d0fa28"/>
<rect x="421.10" y="36.08" width="14.04" height="6.47" fill="#fc100a"/>
<rect x="433.94" y="36.08" width="14.04" height="6.47" fill="#ff7600"/>
<rect x="446.78" y="36.08" width="14.04" height="6.47" fill="#ff7600"/>
<rect x="459.62" y="36.08" width="14.04" height="6.47" fill="#fa2822"/>
<rect x="472.46" y="36.08" width="14.04" height="6.47" fill="#ff5005"/>
<rect x="485.30" y="36.08" width="14.04" height="6.47" fill="#fa2822"/>
<rect x="498.14" y="36.08" width="14.04" height="6.47" fill="#fa4944"/>
<rect x="510.98" y="36.08" width="14.04" height="6.47" fill="#fc5656"/>
<rect x="523.82" y="36.08" width="14.04" height="6.47" fill="#fc5656"/>
<rect x="536.66" y="36.08" width="14.04" height="6.47" fill="#fc100a"/>
<rect x="549.50" y="36.08" width="14.04" height="6.47" fill="#fa4944"/>
<rect x="562.34" y="36.08" width="14.04" height="6.47" fill="#fc100a"/>
<rect x="575.18" y="36.08" width="14.04" height="6.47" fill="#fa4944"/>
<rect x="588.02" y="36.08" width="14.04" height="6.47" fill="#ffb700"/>
<rect x="600.86" y="36.08" width="14.04" height="6.47" fill="#fa4944"/>
<rect x="613.70" y="36.08" width="14.04" height="6.47" fill="#fa4944"/>
<rect x="626.54" y="36.08" width="14.04" height="6.47" fill="#fc100a"/>
<rect x="639.38" y="36.08" width="14.04" height="6.47" fill="#ff7600"/>
<rect x="652.22" y="36.08" width="14.04" height="6.47" fill="#fa2822"/>
<rect x="665.06" y="36.08" width="14.04" height="6.47" fill="#ff7600"/>
<rect x="677.90" y="36.08" width="14.04" height="6.47" fill="#fc100a"/>
<rect x="690.74" y="36.08" width="12.84" height="6.47" fill="#ff7600"/>
<rect x="421.10" y="41.35" width="14.04" height="6.47" fill="#d0fa28"/>
<rect x="433.94" y="41.35" width="14.04" height="6.47" fill="#ff5005"/>
<rect x="446.78" y="41.35" width="14.04" height="6.47" fill="#fa2822"/>
<rect x="459.62" y="41.35" width="14.04" height="6.47" fill="#fa4944"/>
<rect x="472.46" y="41.35" width="14.04" height="6.47" fill="#ff5005"/>
<rect x="485.30" y="41.35" width="14.04" height="6.47" fill="#ff5005"/>
<rect x="498.14" y="41.35" width="14.04" height="6.47" fill="#fa4944"/>
<rect x="510.98" y="41.35" width="14.04" height="6.47" fill="#fa4944"/>
<rect x="523.82" y="41.35" width="14.04" height="6.47" fill="#fa4944"/>
<rect x="536.66" y="41.35" width="14.04" height="6.47" fill="#fc5656"/>
<rect x="549.50" y="41.35" width="14.04" height="6.47" fill="#fc5656"/>
<rect x="562.34" y="41.35" width="14.04" height="6.47" fill="#fc5656"/>
<rect x="575.18" y="41.35" width="14.04" height="6.47" fill="#fa4944"/>
<rect x="588.02" y="41.35" width="14.04" height="6.47" fill="#fa4944"/>
<rect x="600.86" y="41.35" width="14.04" height="6.47" fill="#fa4944"/>
<rect x="613.70" y="41.35" width="14.04" height="6.47" fill="#fa4944"/>
<rect x="626.54" y="41.35" width="14.04" height="6.47" fill="#ff5005"/>
<rect x="639.38" y="41.35" width="14.04" height="6.47" fill="#ff5005"/>
<rect x="652.22" y="41.35" width="14.04" height="6.47" fill="#ff7600"/>
<rect x="665.06" y="41.35" width="14.04" height="6.47" fill="#fc100a"/>
<rect x="677.90" y="41.35" width="14.04" height="6.47" fill="#fc100a"/>
<rect x="690.74" y="41.35" width="12.84" height="6.47" fill="#ff5005"/>
<rect x="421.10" y="46.62" width="14.04" height="6.47" fill="#ff9b00"/>
<rect x="433.94" y="46.62" width="14.04" height="6.47" fill="#ffb700"/>
<rect x="446.78" y="46.62" width="14.04" height="6.47" fill="#ff7600"/>
<rect x="459.62" y="46.62" width="14.04" height="6.47" fill="#fc100a"/>
<rect x="472.46" y="46.62" width="14.04" height="6.47" fill="#fa4944"/>
<rect x="485.30" y="46.62" width="14.04" height="6.47" fill="#fa4944"/>
<rect x="498.14" y="46.62" width="14.04" height="6.47" fill="#fa4944"/>
<rect x="510.98" y="46.62" width="14.04" height="6.47" fill="#fa2822"/>
<rect x="523.82" y="46.62" width="14.04" height="6.47" fill="#fa2822"/>
<rect x="536.66" y="46.62" width="14.04" height="6.47" fill="#fc5656"/>
<rect x="549.50" y="46.62" width="14.04" height="6.47" fill="#fa4944"/>
<rect x="562.34" y="46.62" width="14.04" height="6.47" fill="#fc5656"/>
<rect x="575.18" y="46.62" width="14.04" height="6.47" fill="#fc5656"/>
<rect x="588.02" y="46.62" width="14.04" height="6.47" fill="#fa4944"/>
<rect x="600.86" y="46.62" width="14.04" height="6.47" fill="#fa2822"/>
<rect x="613.70" y="46.62" width="14.04" height="6.47" fill="#fa2822"/>
<rect x="626.54" y="46.62" width="14.04" height="6.47" fill="#fa4944"/>
<rect x="639.38" y="46.62" width="14.04" height="6.47" fill="#ff5005"/>
<rect x="652.22" y="46.62" width="14.04" height="6.47" fill="#ff7600"/>
<rect x="665.06" y="46.62" width="14.04" height="6.47" fill="#ff5005"/>
<rect x="677.90" y="46.62" width="14.04" height="6.47" fill="#fc100a"/>
<rect x="690.74" y="46.62" width="12.84" height="6.47" fill="#ff7600"/>
<rect x="421.10" y="51.89" width="14.04" height="6.47" fill="#d0fa28"/>
<rect x="433.94" y="51.89" width="14.04" height="6.47" fill="#ff5005"/>
<rect x="446.78" y="51.89" width="14.04" height="6.47" fill="#ff9b00"/>
<rect x="459.62" y="51.89" width="14.04" height="6.47" fill="#fc100a"/>
<rect x="472.46" y="51.89" width="14.04" height="6.47" fill="#ffb700"/>
<rect x="485.30" y="51.89" width="14.04" height="6.47" fill="#ff5005"/>
<rect x="498.14" y="51.89" width="14.04" height="6.47" fill="#ff7600"/>
<rect x="510.98" y="51.89" width="14.04" height="6.47" fill="#fa2822"/>
<rect x="523.82" y="51.89" width="14.04" height="6.47" fill="#fc5656"/>
<rect x="536.66" y="51.89" width="14.04" height="6.47" fill="#fc5656"/>
<rect x="549.50" y="51.89" width="14.04" height="6.47" fill="#fa2822"/>
<rect x="562.34" y="51.89" width="14.04" height="6.47" fill="#fc5656"/>
<rect x="575.18" y="51.89" width="14.04" height="6.47" fill="#fc100a"/>
<rect x="588.02" y="51.89" width="14.04" height="6.47" fill="#fa4944"/>
<rect x="600.86" y="51.89" width="14.04" height="6.47" fill="#fc5656"/>
<rect x="613.70" y="51.89" width="14.04" height="6.47" fill="#fc5656"/>
<rect x="626.54" y="51.89" width="14.04" height="6.47" fill="#fa2822"/>
<rect x="639.38" y="51.89" width="14.04" height="6.47" fill="#ffb700"/>
<rect x="652.22" y="51.89" width="14.04" height="6.47" fill="#ff5005"/>
<rect x="665.06" y="51.89" width="14.04" height="6.47" fill="#fc100a"/>
<rect x="677.90" y="51.89" width="14.04" height="6.47" fill="#ffb700"/>
<rect x="690.74" y="51.89" width="12.84" height="6.47" fill="#ff7600"/>
<rect x="421.10" y="57.16" width="14.04" height="6.47" fill="#f8f800"/>
<rect x="433.94" y="57.16" width="14.04" height="6.47" fill="#f8f800"/>
<rect x="446.78" y="57.16" width="14.04" height="6.47" fill="#f8f800"/>
<rect x="459.62" y="57.16" width="14.04" height="6.47" fill="#ffcd00"/>
<rect x="472.46" y="57.16" width="14.04" height="6.47" fill="#fa4944"/>
<rect x="485.30" y="57.16" width="14.04" height="6.47" fill="#fc100a"/>
<rect x="498.14" y="57.16" width="14.04" height="6.47" fill="#fa2822"/>
<rect x="510.98" y="57.16" width="14.04" height="6.47" fill="#fa2822"/>
<rect x="523.82" y="57.16" width="14.04" height="6.47" fill="#fc5656"/>
<rect x="536.66" y="57.16" width="14.04" height="6.47" fill="#fc5656"/>
<rect x="549.50" y="57.16" width="14.04" height="6.47" fill="#ff9b00"/>
<rect x="562.34" y="57.16" width="14.04" height="6.47" fill="#fc5656"/>
<rect x="575.18" y="57.16" width="14.04" height="6.47" fill="#ff5005"/>
<rect x="588.02" y="57.16" width="14.04" height="6.47" fill="#fa4944"/>
<rect x="600.86" y="57.16" width="14.04" height="6.47" fill="#fc5656"/>
<rect x="613.70" y="57.16" width="14.04" height="6.47" fill="#fc5656"/>
<rect x="626.54" y="57.16" width="14.04" height="6.47" fill="#fa4944"/>
<rect x="639.38" y="57.16" width="14.04" height="6.47" fill="#fa2822"/>
<rect x="652.22" y="57.16" width="14.04" height="6.47" fill="#fa2822"/>
<rect x="665.06" y="57.16" width="14.04" height="6.47" fill="#f8f800"/>
<rect x="677.90" y="57.16" width="14.04" height="6.47" fill="#d0fa28"/>
<rect x="690.74" y="57.16" width="12.84" height="6.47" fill="#d0fa28"/>
<rect x="421.10" y="62.43" width="14.04" height="6.47" fill="#d0fa28"/>
<rect x="433.94" y="62.43" width="14.04" height="6.47" fill="#6efa8c"/>
<rect x="446.78" y="62.43" width="14.04" height="6.47" fill="#fa2822"/>
<rect x="459.62" y="62.43" width="14.04" height="6.47" fill="#fa2822"/>
<rect x="472.46" y="62.43" width="14.04" height="6.47" fill="#fa2822"/>
<rect x="485.30" y="62.43" width="14.04" height="6.47" fill="#fc100a"/>
<rect x="498.14" y="62.43" width="14.04" height="6.47" fill="#fa4944"/>
<rect x="510.98" y="62.43" width="14.04" height="6.47" fill="#fa4944"/>
<rect x="523.82" y="62.43" width="14.04" height="6.47" fill="#fa2822"/>
<rect x="536.66" y="62.43" width="14.04" height="6.47" fill="#fc5656"/>
<rect x="549.50" y="62.43" width="14.04" height="6.47" fill="#ff5005"/>
<rect x="562.34" y="62.43" width="14.04" height="6.47" fill="#d0fa28"/>
<rect x="575.18" y="62.43" width="14.04" height="6.47" fill="#fc100a"/>
<rect x="588.02" y="62.43" width="14.04" height="6.47" fill="#fc5656"/>
<rect x="600.86" y="62.43" width="14.04" height="6.47" fill="#fc5656"/>
<rect x="613.70" y="62.43" width="14.04" height="6.47" fill="#fc5656"/>
<rect x="626.54" y="62.43" width="14.04" height="6.47" fill="#fc5656"/>
<rect x="639.38" y="62.43" width="14.04" height="6.47" fill="#fa4944"/>
<rect x="652.22" y="62.43" width="14.04" height="6.47" fill="#1978e4"/>
<rect x="665.06" y="62.43" width="14.04" height="6.47" fill="#6efa8c"/>
<rect x="677.90" y="62.43" width="14.04" height="6.47" fill="#d0fa28"/>
<rect x="690.74" y="62.43" width="12.84" height="6.47" fill="#d0fa28"/>
<rect x="421.10" y="67.70" width="14.04" height="6.47" fill="#f8f800"/>
<rect x="433.94" y="67.70" width="14.04" height="6.47" fill="#d0fa28"/>
<rect x="446.78" y="67.70" width="14.04" height="6.47" fill="#fa2822"/>
<rect x="459.62" y="67.70" width="14.04" height="6.47" fill="#fa2822"/>
<rect x="472.46" y="67.70" width="14.04" height="6.47" fill="#fa2822"/>
<rect x="485.30" y="67.70" width="14.04" height="6.47" fill="#fa2822"/>
<rect x="498.14" y="67.70" width="14.04" height="6.47" fill="#6efa8c"/>
<rect x="510.98" y="67.70" width="14.04" height="6.47" fill="#f8f800"/>
<rect x="523.82" y="67.70" width="14.04" height="6.47" fill="#fa4944"/>
<rect x="536.66" y="67.70" width="14.04" height="6.47" fill="#fc5656"/>
<rect x="549.50" y="67.70" width="14.04" height="6.47" fill="#fa4944"/>
<rect x="562.34" y="67.70" width="14.04" height="6.47" fill="#fc5656"/>
<rect x="575.18" y="67.70" width="14.04" height="6.47" fill="#fc100a"/>
<rect x="588.02" y="67.70" width="14.04" height="6.47" fill="#fc5656"/>
<rect x="600.86" y="67.70" width="14.04" height="6.47" fill="#fc5656"/>
<rect x="613.70" y="67.70" width="14.04" height="6.47" fill="#fc5656"/>
<rect x="626.54" y="67.70" width="14.04" height="6.47" fill="#fc5656"/>
<rect x="639.38" y="67.70" width="14.04" height="6.47" fill="#fc5656"/>
<rect x="652.22" y="67.70" width="14.04" height="6.47" fill="#fc100a"/>
<rect x="665.06" y="67.70" width="14.04" height="6.47" fill="#fc100a"/>
<rect x="677.90" y="67.70" width="14.04" height="6.47" fill="#f8f800"/>
<rect x="690.74" y="67.70" width="12.84" height="6.47" fill="#f8f800"/>
<rect x="421.10" y="72.97" width="14.04" height="6.47" fill="#ff9b00"/>
<rect x="433.94" y="72.97" width="14.04" height="6.47" fill="#fa2822"/>
<rect x="446.78" y="72.97" width="14.04" height="6.47" fill="#ffcd00"/>
<rect x="459.62" y="72.97" width="14.04" height="6.47" fill="#fa2822"/>
<rect x="472.46" y="72.97" width="14.04" height="6.47" fill="#fa4944"/>
<rect x="485.30" y="72.97" width="14.04" height="6.47" fill="#fa4944"/>
<rect x="498.14" y="72.97" width="14.04" height="6.47" fill="#ff5005"/>
<rect x="510.98" y="72.97" width="14.04" height="6.47" fill="#fa4944"/>
<rect x="523.82" y="72.97" width="14.04" height="6.47" fill="#fc5656"/>
<rect x="536.66" y="72.97" width="14.04" height="6.47" fill="#fc5656"/>
<rect x="549.50" y="72.97" width="14.04" height="6.47" fill="#fa4944"/>
<rect x="562.34" y="72.97" width="14.04" height="6.47" fill="#fc5656"/>
<rect x="575.18" y="72.97" width="14.04" height="6.47" fill="#fa4944"/>
<rect x="588.02" y="72.97" width="14.04" height="6.47" fill="#fa2822"/>
<rect x="600.86" y="72.97" width="14.04" height="6.47" fill="#fc5656"/>
<rect x="613.70" y="72.97" width="14.04" height="6.47" fill="#fc5656"/>
<rect x="626.54" y="72.97" width="14.04" height="6.47" fill="#fc100a"/>
<rect x="639.38" y="72.97" width="14.04" height="6.47" fill="#fc5656"/>
<rect x="652.22" y="72.97" width="14.04" height="6.47" fill="#fa4944"/>
<rect x="665.06" y="72.97" width="14.04" height="6.47" fill="#ff9b00"/>
<rect x="677.90" y="72.97" width="14.04" height="6.47" fill="#ff9b00"/>
<rect x="690.74" y="72.97" width="12.84" height="6.47" fill="#fa2822"/>
<rect x="421.10" y="78.24" width="14.04" height="6.47" fill="#ff9b00"/>
<rect x="433.94" y="78.24" width="14.04" height="6.47" fill="#fa2822"/>
<rect x="446.78" y="78.24" width="14.04" height="6.47" fill="#fa2822"/>
<rect x="459.62" y="78.24" width="14.04" height="6.47" fill="#fa2822"/>
<rect x="472.46" y="78.24" width="14.04" height="6.47" fill="#fc100a"/>
<rect x="485.30" y="78.24" width="14.04" height="6.47" fill="#ff7600"/>
<rect x="498.14" y="78.24" width="14.04" height="6.47" fill="#fa4944"/>
<rect x="510.98" y="78.24" width="14.04" height="6.47" fill="#fa4944"/>
<rect x="523.82" y="78.24" width="14.04" height="6.47" fill="#fc5656"/>
<rect x="536.66" y="78.24" width="14.04" height="6.47" fill="#fc100a"/>
<rect x="549.50" y="78.24" width="14.04" height="6.47" fill="#fa4944"/>
<rect x="562.34" y="78.24" width="14.04" height="6.47" fill="#fc5656"/>
<rect x="575.18" y="78.24" width="14.04" height="6.47" fill="#fa4944"/>
<rect x="588.02" y="78.24" width="14.04" height="6.47" fill="#fa2822"/>
<rect x="600.86" y="78.24" width="14.04" height="6.47" fill="#fc5656"/>
<rect x="613.70" y="78.24" width="14.04" height="6.47" fill="#fc5656"/>
<rect x="626.54" y="78.24" width="14.04" height="6.47" fill="#fa4944"/>
<rect x="639.38" y="78.24" width="14.04" height="6.47" fill="#fa4944"/>
<rect x="652.22" y="78.24" width="14.04" height="6.47" fill="#ff7600"/>
<rect x="665.06" y="78.24" width="14.04" height="6.47" fill="#fa4944"/>
<rect x="677.90" y="78.24" width="14.04" height="6.47" fill="#ff7600"/>
<rect x="690.74" y="78.24" width="12.84" height="6.47" fill="#fa4944"/>
<rect x="421.10" y="83.51" width="14.04" height="6.47" fill="#d0fa28"/>
<rect x="433.94" y="83.51" width="14.04" height="6.47" fill="#fc100a"/>
<rect x="446.78" y="83.51" width="14.04" height="6.47" fill="#fa2822"/>
<rect x="459.62" y="83.51" width="14.04" height="6.47" fill="#fa2822"/>
<rect x="472.46" y="83.51" width="14.04" height="6.47" fill="#fc100a"/>
<rect x="485.30" y="83.51" width="14.04" height="6.47" fill="#fa2822"/>
<rect x="498.14" y="83.51" width="14.04" height="6.47" fill="#fa4944"/>
<rect x="510.98" y="83.51" width="14.04" height="6.47" fill="#fa4944"/>
<rect x="523.82" y="83.51" width="14.04" height="6.47" fill="#fc5656"/>
<rect x="536.66" y="83.51" width="14.04" height="6.47" fill="#fc5656"/>
<rect x="549.50" y="83.51" width="14.04" height="6.47" fill="#fc5656"/>
<rect x="562.34" y="83.51" width="14.04" height="6.47" fill="#fc5656"/>
<rect x="575.18" y="83.51" width="14.04" height="6.47" fill="#fa4944"/>
<rect x="588.02" y="83.51" width="14.04" height="6.47" fill="#fa4944"/>
<rect x="600.86" y="83.51" width="14.04" height="6.47" fill="#fa4944"/>
<rect x="613.70" y="83.51" width="14.04" height="6.47" fill="#fa4944"/>
<rect x="626.54" y="83.51" width="14.04" height="6.47" fill="#ff5005"/>
<rect x="639.38" y="83.51" width="14.04" height="6.47" fill="#fc100a"/>
<rect x="652.22" y="83.51" width="14.04" height="6.47" fill="#fc100a"/>
<rect x="665.06" y="83.51" width="14.04" height="6.47" fill="#ffb700"/>
<rect x="677.90" y="83.51" width="14.04" height="6.47" fill="#fc100a"/>
<rect x="690.74" y="83.51" width="12.84" height="6.47" fill="#ff7600"/>
<rect x="421.10" y="88.78" width="14.04" height="6.47" fill="#fc100a"/>
<rect x="433.94" y="88.78" width="14.04" height="6.47" fill="#ffcd00"/>
<rect x="446.78" y="88.78" width="14.04" height="6.47" fill="#ff7600"/>
<rect x="459.62" y="88.78" width="14.04" height="6.47" fill="#fc100a"/>
<rect x="472.46" y="88.78" width="14.04" height="6.47" fill="#fa4944"/>
<rect x="485.30" y="88.78" width="14.04" height="6.47" fill="#fa4944"/>
<rect x="498.14" y="88.78" width="14.04" height="6.47" fill="#fa4944"/>
<rect x="510.98" y="88.78" width="14.04" height="6.47" fill="#fa4944"/>
<rect x="523.82" y="88.78" width="14.04" height="6.47" fill="#fa4944"/>
<rect x="536.66" y="88.78" width="14.04" height="6.47" fill="#fc5656"/>
<rect x="549.50" y="88.78" width="14.04" height="6.47" fill="#fc5656"/>
<rect x="562.34" y="88.78" width="14.04" height="6.47" fill="#fc5656"/>
<rect x="575.18" y="88.78" width="14.04" height="6.47" fill="#fa4944"/>
<rect x="588.02" y="88.78" width="14.04" height="6.47" fill="#fc100a"/>
<rect x="600.86" y="88.78" width="14.04" height="6.47" fill="#fa2822"/>
<rect x="613.70" y="88.78" width="14.04" height="6.47" fill="#fa4944"/>
<rect x="626.54" y="88.78" width="14.04" height="6.47" fill="#fa2822"/>
<rect x="639.38" y="88.78" width="14.04" height="6.47" fill="#ffb700"/>
<rect x="652.22" y="88.78" width="14.04" height="6.47" fill="#fa2822"/>
<rect x="665.06" y="88.78" width="14.04" height="6.47" fill="#ff7600"/>
<rect x="677.90" y="88.78" width="14.04" height="6.47" fill="#fa2822"/>
<rect x="690.74" y="88.78" width="12.84" height="6.47" fill="#ff9b00"/>
<rect x="421.10" y="94.05" width="14.04" height="6.47" fill="#fa2822"/>
<rect x="433.94" y="94.05" width="14.04" height="6.47" fill="#ff9b00"/>
<rect x="446.78" y="94.05" width="14.04" height="6.47" fill="#fa2822"/>
<rect x="459.62" y="94.05" width="14.04" height="6.47" fill="#fa2822"/>
<rect x="472.46" y="94.05" width="14.04" height="6.47" fill="#fa2822"/>
<rect x="485.30" y="94.05" width="14.04" height="6.47" fill="#fa2822"/>
<rect x="498.14" y="94.05" width="14.04" height="6.47" fill="#fa4944"/>
<rect x="510.98" y="94.05" width="14.04" height="6.47" fill="#fa4944"/>
<rect x="523.82" y="94.05" width="14.04" height="6.47" fill="#fc5656"/>
<rect x="536.66" y="94.05" width="14.04" height="6.47" fill="#fc5656"/>
<rect x="549.50" y="94.05" width="14.04" height="6.47" fill="#fc5656"/>
<rect x="562.34" y="94.05" width="14.04" height="6.47" fill="#fc5656"/>
<rect x="575.18" y="94.05" width="14.04" height="6.47" fill="#fa4944"/>
<rect x="588.02" y="94.05" width="14.04" height="6.47" fill="#ff7600"/>
<rect x="600.86" y="94.05" width="14.04" height="6.47" fill="#fa4944"/>
<rect x="613.70" y="94.05" width="14.04" height="6.47" fill="#fa2822"/>
<rect x="626.54" y="94.05" width="14.04" height="6.47" fill="#fa4944"/>
<rect x="639.38" y="94.05" width="14.04" height="6.47" fill="#fa4944"/>
<rect x="652.22" y="94.05" width="14.04" height="6.47" fill="#fa2822"/>
<rect x="665.06" y="94.05" width="14.04" height="6.47" fill="#fa4944"/>
<rect x="677.90" y="94.05" width="14.04" height="6.47" fill="#fa2822"/>
<rect x="690.74" y="94.05" width="12.84" height="6.47" fill="#6efa8c"/>
<rect x="421.10" y="99.32" width="14.04" height="6.47" fill="#ffb700"/>
<rect x="433.94" y="99.32" width="14.04" height="6.47" fill="#fa2822"/>
<rect x="446.78" y="99.32" width="14.04" height="6.47" fill="#fc100a"/>
<rect x="459.62" y="99.32" width="14.04" height="6.47" fill="#d0fa28"/>
<rect x="472.46" y="99.32" width="14.04" height="6.47" fill="#fc100a"/>
<rect x="485.30" y="99.32" width="14.04" height="6.47" fill="#fa4944"/>
<rect x="498.14" y="99.32" width="14.04" height="6.47" fill="#fc100a"/>
<rect x="510.98" y="99.32" width="14.04" height="6.47" fill="#fa2822"/>
<rect x="523.82" y="99.32" width="14.04" height="6.47" fill="#fa2822"/>
<rect x="536.66" y="99.32" width="14.04" height="6.47" fill="#fc100a"/>
<rect x="549.50" y="99.32" width="14.04" height="6.47" fill="#fa4944"/>
<rect x="562.34" y="99.32" width="14.04" height="6.47" fill="#fa4944"/>
<rect x="575.18" y="99.32" width="14.04" height="6.47" fill="#fa2822"/>
<rect x="588.02" y="99.32" width="14.04" height="6.47" fill="#fa2822"/>
<rect x="600.86" y="99.32" width="14.04" height="6.47" fill="#fc100a"/>
<rect x="613.70" y="99.32" width="14.04" height="6.47" fill="#fa2822"/>
<rect x="626.54" y="99.32" width="14.04" height="6.47" fill="#fa4944"/>
<rect x="639.38" y="99.32" width="14.04" height="6.47" fill="#fa4944"/>
<rect x="652.22" y="99.32" width="14.04" height="6.47" fill="#fa4944"/>
<rect x="665.06" y="99.32" width="14.04" height="6.47" fill="#fa4944"/>
<rect x="677.90" y="99.32" width="14.04" height="6.47" fill="#ffb700"/>
<rect x="690.74" y="99.32" width="12.84" height="6.47" fill="#fa2822"/>
<rect x="421.10" y="104.59" width="14.04" height="6.47" fill="#d0fa28"/>
<rect x="433.94" y="104.59" width="14.04" height="6.47" fill="#fa2822"/>
<rect x="446.78" y="104.59" width="14.04" height="6.47" fill="#fa2822"/>
<rect x="459.62" y="104.59" width="14.04" height="6.47" fill="#fa2822"/>
<rect x="472.46" y="104.59" width="14.04" height="6.47" fill="#fa2822"/>
<rect x="485.30" y="104.59" width="14.04" height="6.47" fill="#fa4944"/>
<rect x="498.14" y="104.59" width="14.04" height="6.47" fill="#ff9b00"/>
<rect x="510.98" y="104.59" width="14.04" height="6.47" fill="#fa4944"/>
<rect x="523.82" y="104.59" width="14.04" height="6.47" fill="#fa2822"/>
<rect x="536.66" y="104.59" width="14.04" height="6.47" fill="#fa4944"/>
<rect x="549.50" y="104.59" width="14.04" height="6.47" fill="#fa4944"/>
<rect x="562.34" y="104.59" width="14.04" height="6.47" fill="#fa4944"/>
<rect x="575.18" y="104.59" width="14.04" height="6.47" fill="#fa2822"/>
<rect x="588.02" y="104.59" width="14.04" height="6.47" fill="#fa2822"/>
<rect x="600.86" y="104.59" width="14.04" height="6.47" fill="#fc100a"/>
<rect x="613.70" y="104.59" width="14.04" height="6.47" fill="#fc5656"/>
<rect x="626.54" y="104.59" width="14.04" height="6.47" fill="#fc5656"/>
<rect x="639.38" y="104.59" width="14.04" height="6.47" fill="#fa4944"/>
<rect x="652.22" y="104.59" width="14.04" height="6.47" fill="#fa2822"/>
<rect x="665.06" y="104.59" width="14.04" height="6.47" fill="#fc100a"/>
<rect x="677.90" y="104.59" width="14.04" height="6.47" fill="#fa2822"/>
<rect x="690.74" y="104.59" width="12.84" height="6.47" fill="#fa2822"/>
<rect x="421.10" y="109.86" width="14.04" height="6.47" fill="#d0fa28"/>
<rect x="433.94" y="109.86" width="14.04" height="6.47" fill="#fa2822"/>
<rect x="446.78" y="109.86" width="14.04" height="6.47" fill="#fa2822"/>
<rect x="459.62" y="109.86" width="14.04" height="6.47" fill="#fc100a"/>
<rect x="472.46" y="109.86" width="14.04" height="6.47" fill="#fa2822"/>
<rect x="485.30" y="109.86" width="14.04" height="6.47" fill="#fa2822"/>
<rect x="498.14" y="109.86" width="14.04" height="6.47" fill="#fa2822"/>
<rect x="510.98" y="109.86" width="14.04" height="6.47" fill="#fa2822"/>
<rect x="523.82" y="109.86" width="14.04" height="6.47" fill="#fa4944"/>
<rect x="536.66" y="109.86" width="14.04" height="6.47" fill="#fa4944"/>
<rect x="549.50" y="109.86" width="14.04" height="6.47" fill="#fc5656"/>
<rect x="562.34" y="109.86" width="14.04" height="6.47" fill="#fc5656"/>
<rect x="575.18" y="109.86" width="14.04" height="6.47" fill="#fc100a"/>
<rect x="588.02" y="109.86" width="14.04" height="6.47" fill="#fc100a"/>
<rect x="600.86" y="109.86" width="14.04" height="6.47" fill="#fa4944"/>
<rect x="613.70" y="109.86" width="14.04" height="6.47" fill="#fa2822"/>
<rect x="626.54" y="109.86" width="14.04" height="6.47" fill="#fa2822"/>
<rect x="639.38" y="109.86" width="14.04" height="6.47" fill="#fa2822"/>
<rect x="652.22" y="109.86" width="14.04" height="6.47" fill="#fa2822"/>
<rect x="665.06" y="109.86" width="14.04" height="6.47" fill="#fc100a"/>
<rect x="677.90" y="109.86" width="14.04" height="6.47" fill="#fc100a"/>
<rect x="690.74" y="109.86" width="12.84" height="6.47" fill="#f8f800"/>
<rect x="421.10" y="115.13" width="14.04" height="6.47" fill="#00acf0"/>
<rect x="433.94" y="115.13" width="14.04" height="6.47" fill="#f8f800"/>
<rect x="446.78" y="115.13" width="14.04" height="6.47" fill="#ffb700"/>
<rect x="459.62" y="115.13" width="14.04" height="6.47" fill="#fc100a"/>
<rect x="472.46" y="115.13" width="14.04" height="6.47" fill="#fc100a"/>
<rect x="485.30" y="115.13" width="14.04" height="6.47" fill="#fa2822"/>
<rect x="498.14" y="115.13" width="14.04" height="6.47" fill="#fa4944"/>
<rect x="510.98" y="115.13" width="14.04" height="6.47" fill="#fa4944"/>
<rect x="523.82" y="115.13" width="14.04" height="6.47" fill="#fa4944"/>
<rect x="536.66" y="115.13" width="14.04" height="6.47" fill="#fc5656"/>
<rect x="549.50" y="115.13" width="14.04" height="6.47" fill="#fc5656"/>
<rect x="562.34" y="115.13" width="14.04" height="6.47" fill="#fc5656"/>
<rect x="575.18" y="115.13" width="14.04" height="6.47" fill="#fa4944"/>
<rect x="588.02" y="115.13" width="14.04" height="6.47" fill="#fa4944"/>
<rect x="600.86" y="115.13" width="14.04" height="6.47" fill="#fa4944"/>
<rect x="613.70" y="115.13" width="14.04" height="6.47" fill="#ff5005"/>
<rect x="626.54" y="115.13" width="14.04" height="6.47" fill="#fc100a"/>
<rect x="639.38" y="115.13" width="14.04" height="6.47" fill="#fa2822"/>
<rect x="652.22" y="115.13" width="14.04" height="6.47" fill="#ff7600"/>
<rect x="665.06" y="115.13" width="14.04" height="6.47" fill="#fa2822"/>
<rect x="677.90" y="115.13" width="14.04" height="6.47" fill="#fa2822"/>
<rect x="690.74" y="115.13" width="12.84" height="6.47" fill="#ff5005"/>
<rect x="421.10" y="120.40" width="14.04" height="6.47" fill="#f8f800"/>
<rect x="433.94" y="120.40" width="14.04" height="6.47" fill="#f8f800"/>
<rect x="446.78" y="120.40" width="14.04" height="6.47" fill="#fa2822"/>
<rect x="459.62" y="120.40" width="14.04" height="6.47" fill="#fc100a"/>
<rect x="472.46" y="120.40" width="14.04" height="6.47" fill="#ffb700"/>
<rect x="485.30" y="120.40" width="14.04" height="6.47" fill="#fa4944"/>
<rect x="498.14" y="120.40" width="14.04" height="6.47" fill="#fa4944"/>
<rect x="510.98" y="120.40" width="14.04" height="6.47" fill="#fa4944"/>
<rect x="523.82" y="120.40" width="14.04" height="6.47" fill="#fa4944"/>
<rect x="536.66" y="120.40" width="14.04" height="6.47" fill="#fa2822"/>
<rect x="549.50" y="120.40" width="14.04" height="6.47" fill="#fa4944"/>
<rect x="562.34" y="120.40" width="14.04" height="6.47" fill="#fa4944"/>
<rect x="575.18" y="120.40" width="14.04" height="6.47" fill="#fa4944"/>
<rect x="588.02" y="120.40" width="14.04" height="6.47" fill="#fa2822"/>
<rect x="600.86" y="120.40" width="14.04" height="6.47" fill="#fa2822"/>
<rect x="613.70" y="120.40" width="14.04" height="6.47" fill="#ffcd00"/>
<rect x="626.54" y="120.40" width="14.04" height="6.47" fill="#fa4944"/>
<rect x="639.38" y="120.40" width="14.04" height="6.47" fill="#fc100a"/>
<rect x="652.22" y="120.40" width="14.04" height="6.47" fill="#ff5005"/>
<rect x="665.06" y="120.40" width="14.04" height="6.47" fill="#ffb700"/>
<rect x="677.90" y="120.40" width="14.04" height="6.47" fill="#fc100a"/>
<rect x="690.74" y="120.40" width="12.84" height="6.47" fill="#ff9b00"/>
<rect x="421.10" y="125.67" width="14.04" height="6.47" fill="#f8f800"/>
<rect x="433.94" y="125.67" width="14.04" height="6.47" fill="#f8f800"/>
<rect x="446.78" y="125.67" width="14.04" height="6.47" fill="#fa2822"/>
<rect x="459.62" y="125.67" width="14.04" height="6.47" fill="#fc100a"/>
<rect x="472.46" y="125.67" width="14.04" height="6.47" fill="#fa2822"/>
<rect x="485.30" y="125.67" width="14.04" height="6.47" fill="#fa4944"/>
<rect x="498.14" y="125.67" width="14.04" height="6.47" fill="#fc100a"/>
<rect x="510.98" y="125.67" width="14.04" height="6.47" fill="#fa4944"/>
<rect x="523.82" y="125.67" width="14.04" height="6.47" fill="#fa4944"/>
<rect x="536.66" y="125.67" width="14.04" height="6.47" fill="#fa4944"/>
<rect x="549.50" y="125.67" width="14.04" height="6.47" fill="#fa4944"/>
<rect x="562.34" y="125.67" width="14.04" height="6.47" fill="#fa4944"/>
<rect x="575.18" y="125.67" width="14.04" height="6.47" fill="#fa4944"/>
<rect x="588.02" y="125.67" width="14.04" height="6.47" fill="#fc100a"/>
<rect x="600.86" y="125.67" width="14.04" height="6.47" fill="#fc100a"/>
<rect x="613.70" y="125.67" width="14.04" height="6.47" fill="#fa4944"/>
<rect x="626.54" y="125.67" width="14.04" height="6.47" fill="#fa4944"/>
<rect x="639.38" y="125.67" width="14.04" height="6.47" fill="#fa4944"/>
<rect x="652.22" y="125.67" width="14.04" height="6.47" fill="#fa2822"/>
<rect x="665.06" y="125.67" width="14.04" height="6.47" fill="#d0fa28"/>
<rect x="677.90" y="125.67" width="14.04" height="6.47" fill="#fc100a"/>
<rect x="690.74" y="125.67" width="12.84" height="6.47" fill="#55f8aa"/>
<rect x="421.10" y="130.94" width="14.04" height="6.47" fill="#ff7600"/>
<rect x="433.94" y="130.94" width="14.04" height="6.47" fill="#f8f800"/>
<rect x="446.78" y="130.94" width="14.04" height="6.47" fill="#fa2822"/>
<rect x="459.62" y="130.94" width="14.04" height="6.47" fill="#fa2822"/>
<rect x="472.46" y="130.94" width="14.04" height="6.47" fill="#fc100a"/>
<rect x="485.30" y="130.94" width="14.04" height="6.47" fill="#fa4944"/>
<rect x="498.14" y="130.94" width="14.04" height="6.47" fill="#fa4944"/>
<rect x="510.98" y="130.94" width="14.04" height="6.47" fill="#fa2822"/>
<rect x="523.82" y="130.94" width="14.04" height="6.47" fill="#fa4944"/>
<rect x="536.66" y="130.94" width="14.04" height="6.47" fill="#fc5656"/>
<rect x="549.50" y="130.94" width="14.04" height="6.47" fill="#fc5656"/>
<rect x="562.34" y="130.94" width="14.04" height="6.47" fill="#fc5656"/>
<rect x="575.18" y="130.94" width="14.04" height="6.47" fill="#fa2822"/>
<rect x="588.02" y="130.94" width="14.04" height="6.47" fill="#fa2822"/>
<rect x="600.86" y="130.94" width="14.04" height="6.47" fill="#fa4944"/>
<rect x="613.70" y="130.94" width="14.04" height="6.47" fill="#fc100a"/>
<rect x="626.54" y="130.94" width="14.04" height="6.47" fill="#fa4944"/>
<rect x="639.38" y="130.94" width="14.04" height="6.47" fill="#fc100a"/>
<rect x="652.22" y="130.94" width="14.04" height="6.47" fill="#ffb700"/>
<rect x="665.06" y="130.94" width="14.04" height="6.47" fill="#fa2822"/>
<rect x="677.90" y="130.94" width="14.04" height="6.47" fill="#fa2822"/>
<rect x="690.74" y="130.94" width="12.84" height="6.47" fill="#ffb700"/>
<rect x="421.10" y="136.21" width="14.04" height="6.47" fill="#55f8aa"/>
<rect x="433.94" y="136.21" width="14.04" height="6.47" fill="#f8f800"/>
<rect x="446.78" y="136.21" width="14.04" height="6.47" fill="#fa2822"/>
<rect x="459.62" y="136.21" width="14.04" height="6.47" fill="#fa2822"/>
<rect x="472.46" y="136.21" width="14.04" height="6.47" fill="#fa4944"/>
<rect x="485.30" y="136.21" width="14.04" height="6.47" fill="#fa4944"/>
<rect x="498.14" y="136.21" width="14.04" height="6.47" fill="#fc100a"/>
<rect x="510.98" y="136.21" width="14.04" height="6.47" fill="#fa4944"/>
<rect x="523.82" y="136.21" width="14.04" height="6.47" fill="#fa4944"/>
<rect x="536.66" y="136.21" width="14.04" height="6.47" fill="#fa4944"/>
<rect x="549.50" y="136.21" width="14.04" height="6.47" fill="#fa4944"/>
<rect x="562.34" y="136.21" width="14.04" height="6.47" fill="#fa4944"/>
<rect x="575.18" y="136.21" width="14.04" height="6.47" fill="#fa2822"/>
<rect x="588.02" y="136.21" width="14.04" height="6.47" fill="#fa4944"/>
<rect x="600.86" y="136.21" width="14.04" height="6.47" fill="#fa2822"/>
<rect x="613.70" y="136.21" width="14.04" height="6.47" fill="#fa2822"/>
<rect x="626.54" y="136.21" width="14.04" height="6.47" fill="#fa2822"/>
<rect x="639.38" y="136.21" width="14.04" height="6.47" fill="#fa4944"/>
<rect x="652.22" y="136.21" width="14.04" height="6.47" fill="#fa2822"/>
<rect x="665.06" y="136.21" width="14.04" height="6.47" fill="#6efa8c"/>
<rect x="677.90" y="136.21" width="14.04" height="6.47" fill="#fa2822"/>
<rect x="690.74" y="136.21" width="12.84" height="6.47" fill="#fa2822"/>
<rect x="421.10" y="141.48" width="14.04" height="6.47" fill="#55f8aa"/>
<rect x="433.94" y="141.48" width="14.04" height="6.47" fill="#ffcd00"/>
<rect x="446.78" y="141.48" width="14.04" height="6.47" fill="#ff7600"/>
<rect x="459.62" y="141.48" width="14.04" height="6.47" fill="#fa2822"/>
<rect x="472.46" y="141.48" width="14.04" height="6.47" fill="#fa4944"/>
<rect x="485.30" y="141.48" width="14.04" height="6.47" fill="#fa2822"/>
<rect x="498.14" y="141.48" width="14.04" height="6.47" fill="#fa4944"/>
<rect x="510.98" y="141.48" width="14.04" height="6.47" fill="#fa4944"/>
<rect x="523.82" y="141.48" width="14.04" height="6.47" fill="#fc5656"/>
<rect x="536.66" y="141.48" width="14.04" height="6.47" fill="#fc5656"/>
<rect x="549.50" y="141.48" width="14.04" height="6.47" fill="#fc5656"/>
<rect x="562.34" y="141.48" width="14.04" height="6.47" fill="#ff5005"/>
<rect x="575.18" y="141.48" width="14.04" height="6.47" fill="#fa4944"/>
<rect x="588.02" y="141.48" width="14.04" height="6.47" fill="#fa2822"/>
<rect x="600.86" y="141.48" width="14.04" height="6.47" fill="#fa4944"/>
<rect x="613.70" y="141.48" width="14.04" height="6.47" fill="#fa4944"/>
<rect x="626.54" y="141.48" width="14.04" height="6.47" fill="#fc5656"/>
<rect x="639.38" y="141.48" width="14.04" height="6.47" fill="#fa4944"/>
<rect x="652.22" y="141.48" width="14.04" height="6.47" fill="#fa2822"/>
<rect x="665.06" y="141.48" width="14.04" height="6.47" fill="#ffb700"/>
<rect x="677.90" y="141.48" width="14.04" height="6.47" fill="#ff7600"/>
<rect x="690.74" y="141.48" width="12.84" height="6.47" fill="#fc100a"/>
<rect x="421.10" y="146.75" width="14.04" height="6.47" fill="#ff5005"/>
<rect x="433.94" y="146.75" width="14.04" height="6.47" fill="#fa2822"/>
<rect x="446.78" y="146.75" width="14.04" height="6.47" fill="#fa2822"/>
<rect x="459.62" y="146.75" width="14.04" height="6.47" fill="#ff5005"/>
<rect x="472.46" y="146.75" width="14.04" height="6.47" fill="#fa4944"/>
<rect x="485.30" y="146.75" width="14.04" height="6.47" fill="#fc100a"/>
<rect x="498.14" y="146.75" width="14.04" height="6.47" fill="#fc100a"/>
<rect x="510.98" y="146.75" width="14.04" height="6.47" fill="#fa4944"/>
<rect x="523.82" y="146.75" width="14.04" height="6.47" fill="#fc5656"/>
<rect x="536.66" y="146.75" width="14.04" height="6.47" fill="#fa2822"/>
<rect x="549.50" y="146.75" width="14.04" height="6.47" fill="#fa2822"/>
<rect x="562.34" y="146.75" width="14.04" height="6.47" fill="#fa4944"/>
<rect x="575.18" y="146.75" width="14.04" height="6.47" fill="#ff5005"/>
<rect x="588.02" y="146.75" width="14.04" height="6.47" fill="#fa4944"/>
<rect x="600.86" y="146.75" width="14.04" height="6.47" fill="#fa4944"/>
<rect x="613.70" y="146.75" width="14.04" height="6.47" fill="#fa4944"/>
<rect x="626.54" y="146.75" width="14.04" height="6.47" fill="#fc5656"/>
<rect x="639.38" y="146.75" width="14.04" height="6.47" fill="#fa4944"/>
<rect x="652.22" y="146.75" width="14.04" height="6.47" fill="#fa4944"/>
<rect x="665.06" y="146.75" width="14.04" height="6.47" fill="#fa4944"/>
<rect x="677.90" y="146.75" width="14.04" height="6.47" fill="#fc100a"/>
<rect x="690.74" y="146.75" width="12.84" height="6.47" fill="#ff5005"/>
<rect x="421.10" y="152.02" width="14.04" height="6.47" fill="#fc100a"/>
<rect x="433.94" y="152.02" width="14.04" height="6.47" fill="#ff9b00"/>
<rect x="446.78" y="152.02" width="14.04" height="6.47" fill="#ffb700"/>
<rect x="459.62" y="152.02" width="14.04" height="6.47" fill="#fa2822"/>
<rect x="472.46" y="152.02" width="14.04" height="6.47" fill="#fa4944"/>
<rect x="485.30" y="152.02" width="14.04" height="6.47" fill="#fa4944"/>
<rect x="498.14" y="152.02" width="14.04" height="6.47" fill="#ff9b00"/>
<rect x="510.98" y="152.02" width="14.04" height="6.47" fill="#fc5656"/>
<rect x="523.82" y="152.02" width="14.04" height="6.47" fill="#fc100a"/>
<rect x="536.66" y="152.02" width="14.04" height="6.47" fill="#ffb700"/>
<rect x="549.50" y="152.02" width="14.04" height="6.47" fill="#fa4944"/>
<rect x="562.34" y="152.02" width="14.04" height="6.47" fill="#fc5656"/>
<rect x="575.18" y="152.02" width="14.04" height="6.47" fill="#fa4944"/>
<rect x="588.02" y="152.02" width="14.04" height="6.47" fill="#fc5656"/>
<rect x="600.86" y="152.02" width="14.04" height="6.47" fill="#fc5656"/>
<rect x="613.70" y="152.02" width="14.04" height="6.47" fill="#fc5656"/>
<rect x="626.54" y="152.02" width="14.04" height="6.47" fill="#fc5656"/>
<rect x="639.38" y="152.02" width="14.04" height="6.47" fill="#ff5005"/>
<rect x="652.22" y="152.02" width="14.04" height="6.47" fill="#fa2822"/>
<rect x="665.06" y="152.02" width="14.04" height="6.47" fill="#ffb700"/>
<rect x="677.90" y="152.02" width="14.04" height="6.47" fill="#fc100a"/>
<rect x="690.74" y="152.02" width="12.84" height="6.47" fill="#fa2822"/>
<rect x="421.10" y="157.29" width="14.04" height="6.47" fill="#ffcd00"/>
<rect x="433.94" y="157.29" width="14.04" height="6.47" fill="#fa2822"/>
<rect x="446.78" y="157.29" width="14.04" height="6.47" fill="#fa2822"/>
<rect x="459.62" y="157.29" width="14.04" height="6.47" fill="#ffb700"/>
<rect x="472.46" y="157.29" width="14.04" height="6.47" fill="#ffcd00"/>
<rect x="485.30" y="157.29" width="14.04" height="6.47" fill="#ffb700"/>
<rect x="498.14" y="157.29" width="14.04" height="6.47" fill="#fa4944"/>
<rect x="510.98" y="157.29" width="14.04" height="6.47" fill="#fa4944"/>
<rect x="523.82" y="157.29" width="14.04" height="6.47" fill="#fc5656"/>
<rect x="536.66" y="157.29" width="14.04" height="6.47" fill="#fc5656"/>
<rect x="549.50" y="157.29" width="14.04" height="6.47" fill="#fc5656"/>
<rect x="562.34" y="157.29" width="14.04" height="6.47" fill="#fc5656"/>
<rect x="575.18" y="157.29" width="14.04" height="6.47" fill="#fa4944"/>
<rect x="588.02" y="157.29" width="14.04" height="6.47" fill="#fa2822"/>
<rect x="600.86" y="157.29" width="14.04" height="6.47" fill="#fc5656"/>
<rect x="613.70" y="157.29" width="14.04" height="6.47" fill="#fc5656"/>
<rect x="626.54" y="157.29" width="14.04" height="6.47" fill="#fc5656"/>
<rect x="639.38" y="157.29" width="14.04" height="6.47" fill="#fa2822"/>
<rect x="652.22" y="157.29" width="14.04" height="6.47" fill="#fa4944"/>
<rect x="665.06" y="157.29" width="14.04" height="6.47" fill="#fa2822"/>
<rect x="677.90" y="157.29" width="14.04" height="6.47" fill="#fc100a"/>
<rect x="690.74" y="157.29" width="12.84" height="6.47" fill="#ff7600"/>
<rect x="421.10" y="162.56" width="14.04" height="6.47" fill="#d0fa28"/>
<rect x="433.94" y="162.56" width="14.04" height="6.47" fill="#55f8aa"/>
<rect x="446.78" y="162.56" width="14.04" height="6.47" fill="#f8f800"/>
<rect x="459.62" y="162.56" width="14.04" height="6.47" fill="#fa2822"/>
<rect x="472.46" y="162.56" width="14.04" height="6.47" fill="#fc100a"/>
<rect x="485.30" y="162.56" width="14.04" height="6.47" fill="#fa2822"/>
<rect x="498.14" y="162.56" width="14.04" height="6.47" fill="#fa4944"/>
<rect x="510.98" y="162.56" width="14.04" height="6.47" fill="#ff5005"/>
<rect x="523.82" y="162.56" width="14.04" height="6.47" fill="#fc5656"/>
<rect x="536.66" y="162.56" width="14.04" height="6.47" fill="#fc5656"/>
<rect x="549.50" y="162.56" width="14.04" height="6.47" fill="#fc5656"/>
<rect x="562.34" y="162.56" width="14.04" height="6.47" fill="#ff5005"/>
<rect x="575.18" y="162.56" width="14.04" height="6.47" fill="#fc100a"/>
<rect x="588.02" y="162.56" width="14.04" height="6.47" fill="#fa4944"/>
<rect x="600.86" y="162.56" width="14.04" height="6.47" fill="#fc5656"/>
<rect x="613.70" y="162.56" width="14.04" height="6.47" fill="#fa4944"/>
<rect x="626.54" y="162.56" width="14.04" height="6.47" fill="#fc100a"/>
<rect x="639.38" y="162.56" width="14.04" height="6.47" fill="#fa4944"/>
<rect x="652.22" y="162.56" width="14.04" height="6.47" fill="#fc100a"/>
<rect x="665.06" y="162.56" width="14.04" height="6.47" fill="#ff5005"/>
<rect x="677.90" y="162.56" width="14.04" height="6.47" fill="#f8f800"/>
<rect x="690.74" y="162.56" width="12.84" height="6.47" fill="#d0fa28"/>
<rect x="421.10" y="167.83" width="14.04" height="6.47" fill="#d0fa28"/>
<rect x="433.94" y="167.83" width="14.04" height="6.47" fill="#fc100a"/>
<rect x="446.78" y="167.83" width="14.04" height="6.47" fill="#d0fa28"/>
<rect x="459.62" y="167.83" width="14.04" height="6.47" fill="#6efa8c"/>
<rect x="472.46" y="167.83" width="14.04" height="6.47" fill="#d0fa28"/>
<rect x="485.30" y="167.83" width="14.04" height="6.47" fill="#fc100a"/>
<rect x="498.14" y="167.83" width="14.04" height="6.47" fill="#fa4944"/>
<rect x="510.98" y="167.83" width="14.04" height="6.47" fill="#fa4944"/>
<rect x="523.82" y="167.83" width="14.04" height="6.47" fill="#fa4944"/>
<rect x="536.66" y="167.83" width="14.04" height="6.47" fill="#d0fa28"/>
<rect x="549.50" y="167.83" width="14.04" height="6.47" fill="#fc5656"/>
<rect x="562.34" y="167.83" width="14.04" height="6.47" fill="#fa4944"/>
<rect x="575.18" y="167.83" width="14.04" height="6.47" fill="#fa4944"/>
<rect x="588.02" y="167.83" width="14.04" height="6.47" fill="#fa4944"/>
<rect x="600.86" y="167.83" width="14.04" height="6.47" fill="#fc5656"/>
<rect x="613.70" y="167.83" width="14.04" height="6.47" fill="#fc5656"/>
<rect x="626.54" y="167.83" width="14.04" height="6.47" fill="#fa2822"/>
<rect x="639.38" y="167.83" width="14.04" height="6.47" fill="#fa4944"/>
<rect x="652.22" y="167.83" width="14.04" height="6.47" fill="#55f8aa"/>
<rect x="665.06" y="167.83" width="14.04" height="6.47" fill="#fa2822"/>
<rect x="677.90" y="167.83" width="14.04" height="6.47" fill="#ff5005"/>
<rect x="690.74" y="167.83" width="12.84" height="6.47" fill="#1978e4"/>
<rect x="421.10" y="173.10" width="14.04" height="6.47" fill="#f8f800"/>
<rect x="433.94" y="173.10" width="14.04" height="6.47" fill="#d0fa28"/>
<rect x="446.78" y="173.10" width="14.04" height="6.47" fill="#ffcd00"/>
<rect x="459.62" y="173.10" width="14.04" height="6.47" fill="#ff9b00"/>
<rect x="472.46" y="173.10" width="14.04" height="6.47" fill="#ffcd00"/>
<rect x="485.30" y="173.10" width="14.04" height="6.47" fill="#fa4944"/>
<rect x="498.14" y="173.10" width="14.04" height="6.47" fill="#ff5005"/>
<rect x="510.98" y="173.10" width="14.04" height="6.47" fill="#fa4944"/>
<rect x="523.82" y="173.10" width="14.04" height="6.47" fill="#fa4944"/>
<rect x="536.66" y="173.10" width="14.04" height="6.47" fill="#fa2822"/>
<rect x="549.50" y="173.10" width="14.04" height="6.47" fill="#fa2822"/>
<rect x="562.34" y="173.10" width="14.04" height="6.47" fill="#fa4944"/>
<rect x="575.18" y="173.10" width="14.04" height="6.47" fill="#ff5005"/>
<rect x="588.02" y="173.10" width="14.04" height="6.47" fill="#fa4944"/>
<rect x="600.86" y="173.10" width="14.04" height="6.47" fill="#fc5656"/>
<rect x="613.70" y="173.10" width="14.04" height="6.47" fill="#fc5656"/>
<rect x="626.54" y="173.10" width="14.04" height="6.47" fill="#ffb700"/>
<rect x="639.38" y="173.10" width="14.04" height="6.47" fill="#ff7600"/>
<rect x="652.22" y="173.10" width="14.04" height="6.47" fill="#fa4944"/>
<rect x="665.06" y="173.10" width="14.04" height="6.47" fill="#6efa8c"/>
<rect x="677.90" y="173.10" width="14.04" height="6.47" fill="#f8f800"/>
<rect x="690.74" y="173.10" width="12.84" height="6.47" fill="#d0fa28"/>
<rect x="421.10" y="178.37" width="14.04" height="6.47" fill="#ff9b00"/>
<rect x="433.94" y="178.37" width="14.04" height="6.47" fill="#f8f800"/>
<rect x="446.78" y="178.37" width="14.04" height="6.47" fill="#fa2822"/>
<rect x="459.62" y="178.37" width="14.04" height="6.47" fill="#ff9b00"/>
<rect x="472.46" y="178.37" width="14.04" height="6.47" fill="#fc100a"/>
<rect x="485.30" y="178.37" width="14.04" height="6.47" fill="#fc100a"/>
<rect x="498.14" y="178.37" width="14.04" height="6.47" fill="#fa2822"/>
<rect x="510.98" y="178.37" width="14.04" height="6.47" fill="#fa4944"/>
<rect x="523.82" y="178.37" width="14.04" height="6.47" fill="#fa4944"/>
<rect x="536.66" y="178.37" width="14.04" height="6.47" fill="#fa4944"/>
<rect x="549.50" y="178.37" width="14.04" height="6.47" fill="#fa4944"/>
<rect x="562.34" y="178.37" width="14.04" height="6.47" fill="#fa4944"/>
<rect x="575.18" y="178.37" width="14.04" height="6.47" fill="#fa4944"/>
<rect x="588.02" y="178.37" width="14.04" height="6.47" fill="#fa2822"/>
<rect x="600.86" y="178.37" width="14.04" height="6.47" fill="#fa4944"/>
<rect x="613.70" y="178.37" width="14.04" height="6.47" fill="#fa4944"/>
<rect x="626.54" y="178.37" width="14.04" height="6.47" fill="#fa4944"/>
<rect x="639.38" y="178.37" width="14.04" height="6.47" fill="#fa2822"/>
<rect x="652.22" y="178.37" width="14.04" height="6.47" fill="#fc100a"/>
<rect x="665.06" y="178.37" width="14.04" height="6.47" fill="#ffb700"/>
<rect x="677.90" y="178.37" width="14.04" height="6.47" fill="#fc100a"/>
<rect x="690.74" y="178.37" width="12.84" height="6.47" fill="#ff9b00"/>
<rect x="421.10" y="183.64" width="14.04" height="6.47" fill="#ff9b00"/>
<rect x="433.94" y="183.64" width="14.04" height="6.47" fill="#ff5005"/>
<rect x="446.78" y="183.64" width="14.04" height="6.47" fill="#ff5005"/>
<rect x="459.62" y="183.64" width="14.04" height="6.47" fill="#fa2822"/>
<rect x="472.46" y="183.64" width="14.04" height="6.47" fill="#fa4944"/>
<rect x="485.30" y="183.64" width="14.04" height="6.47" fill="#fc100a"/>
<rect x="498.14" y="183.64" width="14.04" height="6.47" fill="#fa4944"/>
<rect x="510.98" y="183.64" width="14.04" height="6.47" fill="#ff7600"/>
<rect x="523.82" y="183.64" width="14.04" height="6.47" fill="#ff7600"/>
<rect x="536.66" y="183.64" width="14.04" height="6.47" fill="#fa4944"/>
<rect x="549.50" y="183.64" width="14.04" height="6.47" fill="#fc5656"/>
<rect x="562.34" y="183.64" width="14.04" height="6.47" fill="#fc5656"/>
<rect x="575.18" y="183.64" width="14.04" height="6.47" fill="#fa4944"/>
<rect x="588.02" y="183.64" width="14.04" height="6.47" fill="#fc5656"/>
<rect x="600.86" y="183.64" width="14.04" height="6.47" fill="#fc5656"/>
<rect x="613.70" y="183.64" width="14.04" height="6.47" fill="#fc100a"/>
<rect x="626.54" y="183.64" width="14.04" height="6.47" fill="#fa4944"/>
<rect x="639.38" y="183.64" width="14.04" height="6.47" fill="#fc100a"/>
<rect x="652.22" y="183.64" width="14.04" height="6.47" fill="#ff9b00"/>
<rect x="665.06" y="183.64" width="14.04" height="6.47" fill="#ff5005"/>
<rect x="677.90" y="183.64" width="14.04" height="6.47" fill="#fc100a"/>
<rect x="690.74" y="183.64" width="12.84" height="6.47" fill="#ff5005"/>
<rect x="421.10" y="188.91" width="14.04" height="6.47" fill="#fc100a"/>
<rect x="433.94" y="188.91" width="14.04" height="6.47" fill="#ff9b00"/>
<rect x="446.78" y="188.91" width="14.04" height="6.47" fill="#fc100a"/>
<rect x="459.62" y="188.91" width="14.04" height="6.47" fill="#ff5005"/>
<rect x="472.46" y="188.91" width="14.04" height="6.47" fill="#fc100a"/>
<rect x="485.30" y="188.91" width="14.04" height="6.47" fill="#ff9b00"/>
<rect x="498.14" y="188.91" width="14.04" height="6.47" fill="#fa4944"/>
<rect x="510.98" y="188.91" width="14.04" height="6.47" fill="#ff5005"/>
<rect x="523.82" y="188.91" width="14.04" height="6.47" fill="#fa2822"/>
<rect x="536.66" y="188.91" width="14.04" height="6.47" fill="#fc5656"/>
<rect x="549.50" y="188.91" width="14.04" height="6.47" fill="#fc5656"/>
<rect x="562.34" y="188.91" width="14.04" height="6.47" fill="#fc5656"/>
<rect x="575.18" y="188.91" width="14.04" height="6.47" fill="#fa4944"/>
<rect x="588.02" y="188.91" width="14.04" height="6.47" fill="#fc5656"/>
<rect x="600.86" y="188.91" width="14.04" height="6.47" fill="#fa4944"/>
<rect x="613.70" y="188.91" width="14.04" height="6.47" fill="#fa4944"/>
<rect x="626.54" y="188.91" width="14.04" height="6.47" fill="#ff9b00"/>
<rect x="639.38" y="188.91" width="14.04" height="6.47" fill="#ff5005"/>
<rect x="652.22" y="188.91" width="14.04" height="6.47" fill="#fc100a"/>
<rect x="665.06" y="188.91" width="14.04" height="6.47" fill="#fc100a"/>
<rect x="677.90" y="188.91" width="14.04" height="6.47" fill="#ff5005"/>
<rect x="690.74" y="188.91" width="12.84" height="6.47" fill="#ff5005"/>
<rect x="421.10" y="194.18" width="14.04" height="6.47" fill="#fa2822"/>
<rect x="433.94" y="194.18" width="14.04" height="6.47" fill="#fa2822"/>
<rect x="446.78" y="194.18" width="14.04" height="6.47" fill="#fa2822"/>
<rect x="459.62" y="194.18" width="14.04" height="6.47" fill="#fa2822"/>
<rect x="472.46" y="194.18" width="14.04" height="6.47" fill="#ff5005"/>
<rect x="485.30" y="194.18" width="14.04" height="6.47" fill="#ff7600"/>
<rect x="498.14" y="194.18" width="14.04" height="6.47" fill="#fa4944"/>
<rect x="510.98" y="194.18" width="14.04" height="6.47" fill="#fc100a"/>
<rect x="523.82" y="194.18" width="14.04" height="6.47" fill="#fc5656"/>
<rect x="536.66" y="194.18" width="14.04" height="6.47" fill="#fc5656"/>
<rect x="549.50" y="194.18" width="14.04" height="6.47" fill="#fc5656"/>
<rect x="562.34" y="194.18" width="14.04" height="6.47" fill="#fa2822"/>
<rect x="575.18" y="194.18" width="14.04" height="6.47" fill="#fa2822"/>
<rect x="588.02" y="194.18" width="14.04" height="6.47" fill="#fa4944"/>
<rect x="600.86" y="194.18" width="14.04" height="6.47" fill="#fa4944"/>
<rect x="613.70" y="194.18" width="14.04" height="6.47" fill="#fa2822"/>
<rect x="626.54" y="194.18" width="14.04" height="6.47" fill="#fa2822"/>
<rect x="639.38" y="194.18" width="14.04" height="6.47" fill="#fa2822"/>
<rect x="652.22" y="194.18" width="14.04" height="6.47" fill="#fc100a"/>
<rect x="665.06" y="194.18" width="14.04" height="6.47" fill="#ffcd00"/>
<rect x="677.90" y="194.18" width="14.04" height="6.47" fill="#ff7600"/>
<rect x="690.74" y="194.18" width="12.84" height="6.47" fill="#f8f800"/>
<rect x="421.10" y="199.45" width="14.04" height="6.47" fill="#ffcd00"/>
<rect x="433.94" y="199.45" width="14.04" height="6.47" fill="#ff9b00"/>
<rect x="446.78" y="199.45" width="14.04" height="6.47" fill="#6efa8c"/>
<rect x="459.62" y="199.45" width="14.04" height="6.47" fill="#fa2822"/>
<rect x="472.46" y="199.45" width="14.04" height="6.47" fill="#ff9b00"/>
<rect x="485.30" y="199.45" width="14.04" height="6.47" fill="#fa4944"/>
<rect x="498.14" y="199.45" width="14.04" height="6.47" fill="#ffb700"/>
<rect x="510.98" y="199.45" width="14.04" height="6.47" fill="#fa2822"/>
<rect x="523.82" y="199.45" width="14.04" height="6.47" fill="#fc5656"/>
<rect x="536.66" y="199.45" width="14.04" height="6.47" fill="#fc5656"/>
<rect x="549.50" y="199.45" width="14.04" height="6.47" fill="#fa4944"/>
<rect x="562.34" y="199.45" width="14.04" height="6.47" fill="#fa4944"/>
<rect x="575.18" y="199.45" width="14.04" height="6.47" fill="#fa2822"/>
<rect x="588.02" y="199.45" width="14.04" height="6.47" fill="#fc100a"/>
<rect x="600.86" y="199.45" width="14.04" height="6.47" fill="#fa4944"/>
<rect x="613.70" y="199.45" width="14.04" height="6.47" fill="#fc100a"/>
<rect x="626.54" y="199.45" width="14.04" height="6.47" fill="#ff7600"/>
<rect x="639.38" y="199.45" width="14.04" height="6.47" fill="#ff9b00"/>
<rect x="652.22" y="199.45" width="14.04" height="6.47" fill="#ff5005"/>
<rect x="665.06" y="199.45" width="14.04" height="6.47" fill="#ff9b00"/>
<rect x="677.90" y="199.45" width="14.04" height="6.47" fill="#fc100a"/>
<rect x="690.74" y="199.45" width="12.84" height="6.47" fill="#ffcd00"/>
<rect x="421.10" y="204.72" width="14.04" height="6.47" fill="#ff9b00"/>
<rect x="433.94" y="204.72" width="14.04" height="6.47" fill="#fc100a"/>
<rect x="446.78" y="204.72" width="14.04" height="6.47" fill="#ff9b00"/>
<rect x="459.62" y="204.72" width="14.04" height="6.47" fill="#ff5005"/>
<rect x="472.46" y="204.72" width="14.04" height="6.47" fill="#ff9b00"/>
<rect x="485.30" y="204.72" width="14.04" height="6.47" fill="#fa4944"/>
<rect x="498.14" y="204.72" width="14.04" height="6.47" fill="#fc100a"/>
<rect x="510.98" y="204.72" width="14.04" height="6.47" fill="#fa4944"/>
<rect x="523.82" y="204.72" width="14.04" height="6.47" fill="#fc5656"/>
<rect x="536.66" y="204.72" width="14.04" height="6.47" fill="#ff5005"/>
<rect x="549.50" y="204.72" width="14.04" height="6.47" fill="#fc5656"/>
<rect x="562.34" y="204.72" width="14.04" height="6.47" fill="#fc5656"/>
<rect x="575.18" y="204.72" width="14.04" height="6.47" fill="#fa2822"/>
<rect x="588.02" y="204.72" width="14.04" height="6.47" fill="#ff5005"/>
<rect x="600.86" y="204.72" width="14.04" height="6.47" fill="#ff7600"/>
<rect x="613.70" y="204.72" width="14.04" height="6.47" fill="#fa4944"/>
<rect x="626.54" y="204.72" width="14.04" height="6.47" fill="#fa4944"/>
<rect x="639.38" y="204.72" width="14.04" height="6.47" fill="#fa4944"/>
<rect x="652.22" y="204.72" width="14.04" height="6.47" fill="#f8f800"/>
<rect x="665.06" y="204.72" width="14.04" height="6.47" fill="#ffb700"/>
<rect x="677.90" y="204.72" width="14.04" height="6.47" fill="#fc100a"/>
<rect x="690.74" y="204.72" width="12.84" height="6.47" fill="#ffb700"/>
<rect x="421.10" y="209.99" width="14.04" height="6.47" fill="#d0fa28"/>
<rect x="433.94" y="209.99" width="14.04" height="6.47" fill="#ff9b00"/>
<rect x="446.78" y="209.99" width="14.04" height="6.47" fill="#ff9b00"/>
<rect x="459.62" y="209.99" width="14.04" height="6.47" fill="#fa2822"/>
<rect x="472.46" y="209.99" width="14.04" height="6.47" fill="#fa2822"/>
<rect x="485.30" y="209.99" width="14.04" height="6.47" fill="#fc100a"/>
<rect x="498.14" y="209.99" width="14.04" height="6.47" fill="#ff5005"/>
<rect x="510.98" y="209.99" width="14.04" height="6.47" fill="#fa4944"/>
<rect x="523.82" y="209.99" width="14.04" height="6.47" fill="#fc5656"/>
<rect x="536.66" y="209.99" width="14.04" height="6.47" fill="#fa2822"/>
<rect x="549.50" y="209.99" width="14.04" height="6.47" fill="#fc5656"/>
<rect x="562.34" y="209.99" width="14.04" height="6.47" fill="#fc5656"/>
<rect x="575.18" y="209.99" width="14.04" height="6.47" fill="#fa2822"/>
<rect x="588.02" y="209.99" width="14.04" height="6.47" fill="#fa4944"/>
<rect x="600.86" y="209.99" width="14.04" height="6.47" fill="#ff5005"/>
<rect x="613.70" y="209.99" width="14.04" height="6.47" fill="#fa4944"/>
<rect x="626.54" y="209.99" width="14.04" height="6.47" fill="#fa2822"/>
<rect x="639.38" y="209.99" width="14.04" height="6.47" fill="#fa2822"/>
<rect x="652.22" y="209.99" width="14.04" height="6.47" fill="#f8f800"/>
<rect x="665.06" y="209.99" width="14.04" height="6.47" fill="#fa2822"/>
<rect x="677.90" y="209.99" width="14.04" height="6.47" fill="#ffb700"/>
<rect x="690.74" y="209.99" width="12.84" height="6.47" fill="#ffb700"/>
<rect x="421.10" y="215.26" width="14.04" height="6.47" fill="#ffcd00"/>
<rect x="433.94" y="215.26" width="14.04" height="6.47" fill="#f8f800"/>
<rect x="446.78" y="215.26" width="14.04" height="6.47" fill="#fa2822"/>
<rect x="459.62" y="215.26" width="14.04" height="6.47" fill="#fa2822"/>
<rect x="472.46" y="215.26" width="14.04" height="6.47" fill="#fa2822"/>
<rect x="485.30" y="215.26" width="14.04" height="6.47" fill="#fa2822"/>
<rect x="498.14" y="215.26" width="14.04" height="6.47" fill="#fa4944"/>
<rect x="510.98" y="215.26" width="14.04" height="6.47" fill="#fa2822"/>
<rect x="523.82" y="215.26" width="14.04" height="6.47" fill="#fc100a"/>
<rect x="536.66" y="215.26" width="14.04" height="6.47" fill="#fc5656"/>
<rect x="549.50" y="215.26" width="14.04" height="6.47" fill="#fc5656"/>
<rect x="562.34" y="215.26" width="14.04" height="6.47" fill="#fc5656"/>
<rect x="575.18" y="215.26" width="14.04" height="6.47" fill="#fa4944"/>
<rect x="588.02" y="215.26" width="14.04" height="6.47" fill="#fa4944"/>
<rect x="600.86" y="215.26" width="14.04" height="6.47" fill="#fa4944"/>
<rect x="613.70" y="215.26" width="14.04" height="6.47" fill="#fa2822"/>
<rect x="626.54" y="215.26" width="14.04" height="6.47" fill="#fa4944"/>
<rect x="639.38" y="215.26" width="14.04" height="6.47" fill="#fa4944"/>
<rect x="652.22" y="215.26" width="14.04" height="6.47" fill="#6efa8c"/>
<rect x="665.06" y="215.26" width="14.04" height="6.47" fill="#f8f800"/>
<rect x="677.90" y="215.26" width="14.04" height="6.47" fill="#d0fa28"/>
<rect x="690.74" y="215.26" width="12.84" height="6.47" fill="#f8f800"/>
<rect x="421.10" y="220.53" width="14.04" height="5.27" fill="#fc100a"/>
<rect x="433.94" y="220.53" width="14.04" height="5.27" fill="#6efa8c"/>
<rect x="446.78" y="220.53" width="14.04" height="5.27" fill="#f8f800"/>
<rect x="459.62" y="220.53" width="14.04" height="5.27" fill="#fa2822"/>
<rect x="472.46" y="220.53" width="14.04" height="5.27" fill="#fc100a"/>
<rect x="485.30" y="220.53" width="14.04" height="5.27" fill="#ffcd00"/>
<rect x="498.14" y="220.53" width="14.04" height="5.27" fill="#fa2822"/>
<rect x="510.98" y="220.53" width="14.04" height="5.27" fill="#fa2822"/>
<rect x="523.82" y="220.53" width="14.04" height="5.27" fill="#fc5656"/>
<rect x="536.66" y="220.53" width="14.04" height="5.27" fill="#fa4944"/>
<rect x="549.50" y="220.53" width="14.04" height="5.27" fill="#fa2822"/>
<rect x="562.34" y="220.53" width="14.04" height="5.27" fill="#fc5656"/>
<rect x="575.18" y="220.53" width="14.04" height="5.27" fill="#fa4944"/>
<rect x="588.02" y="220.53" width="14.04" height="5.27" fill="#fa4944"/>
<rect x="600.86" y="220.53" width="14.04" height="5.27" fill="#fa4944"/>
<rect x="613.70" y="220.53" width="14.04" height="5.27" fill="#f8f800"/>
<rect x="626.54" y="220.53" width="14.04" height="5.27" fill="#fa4944"/>
<rect x="639.38" y="220.53" width="14.04" height="5.27" fill="#ff5005"/>
<rect x="652.22" y="220.53" width="14.04" height="5.27" fill="#fa2822"/>
<rect x="665.06" y="220.53" width="14.04" height="5.27" fill="#d0fa28"/>
<rect x="677.90" y="220.53" width="14.04" height="5.27" fill="#ff9b00"/>
<rect x="690.74" y="220.53" width="12.84" height="5.27" fill="#f8f800"/>
<line x1="414.50" y1="223.50" x2="420.50" y2="223.50" stroke="#000" stroke-width="1.25"/>
<line x1="709.30" y1="223.50" x2="703.30" y2="223.50" stroke="#000" stroke-width="1.25"/>
<line x1="414.50" y1="189.50" x2="417.50" y2="189.50" stroke="#000" stroke-width="1.25"/>
<line x1="709.30" y1="189.50" x2="706.30" y2="189.50" stroke="#000" stroke-width="1.25"/>
<line x1="414.50" y1="156.50" x2="420.50" y2="156.50" stroke="#000" stroke-width="1.25"/>
<line x1="709.30" y1="156.50" x2="703.30" y2="156.50" stroke="#000" stroke-width="1.25"/>
<line x1="414.50" y1="122.50" x2="417.50" y2="122.50" stroke="#000" stroke-width="1.25"/>
<line x1="709.30" y1="122.50" x2="706.30" y2="122.50" stroke="#000" stroke-width="1.25"/>
<line x1="414.50" y1="88.50" x2="420.50" y2="88.50" stroke="#000" stroke-width="1.25"/>
<line x1="709.30" y1="88.50" x2="703.30" y2="88.50" stroke="#000" stroke-width="1.25"/>
<line x1="414.50" y1="55.50" x2="417.50" y2="55.50" stroke="#000" stroke-width="1.25"/>
<line x1="709.30" y1="55.50" x2="706.30" y2="55.50" stroke="#000" stroke-width="1.25"/>
<line x1="414.50" y1="21.50" x2="420.50" y2="21.50" stroke="#000" stroke-width="1.25"/>
<line x1="709.30" y1="21.50" x2="703.30" y2="21.50" stroke="#000" stroke-width="1.25"/>
<line x1="420.50" y1="226.30" x2="420.50" y2="223.30" stroke="#000" stroke-width="1.25"/>
<line x1="420.50" y1="14.60" x2="420.50" y2="17.60" stroke="#000" stroke-width="1.25"/>
<line x1="452.50" y1="226.30" x2="452.50" y2="223.30" stroke="#000" stroke-width="1.25"/>
<line x1="452.50" y1="14.60" x2="452.50" y2="17.60" stroke="#000" stroke-width="1.25"/>
<line x1="477.50" y1="226.30" x2="477.50" y2="223.30" stroke="#000" stroke-width="1.25"/>
<line x1="477.50" y1="14.60" x2="477.50" y2="17.60" stroke="#000" stroke-width="1.25"/>
<line x1="498.50" y1="226.30" x2="498.50" y2="223.30" stroke="#000" stroke-width="1.25"/>
<line x1="498.50" y1="14.60" x2="498.50" y2="17.60" stroke="#000" stroke-width="1.25"/>
<line x1="515.50" y1="226.30" x2="515.50" y2="223.30" stroke="#000" stroke-width="1.25"/>
<line x1="515.50" y1="14.60" x2="515.50" y2="17.60" stroke="#000" stroke-width="1.25"/>
<line x1="530.50" y1="226.30" x2="530.50" y2="223.30" stroke="#000" stroke-width="1.25"/>
<line x1="530.50" y1="14.60" x2="530.50" y2="17.60" stroke="#000" stroke-width="1.25"/>
<line x1="543.50" y1="226.30" x2="543.50" y2="223.30" stroke="#000" stroke-width="1.25"/>
<line x1="543.50" y1="14.60" x2="543.50" y2="17.60" stroke="#000" stroke-width="1.25"/>
<line x1="555.50" y1="226.30" x2="555.50" y2="220.30" stroke="#000" stroke-width="1.25"/>
<line x1="555.50" y1="14.60" x2="555.50" y2="20.60" stroke="#000" stroke-width="1.25"/>
<line x1="633.50" y1="226.30" x2="633.50" y2="223.30" stroke="#000" stroke-width="1.25"/>
<line x1="633.50" y1="14.60" x2="633.50" y2="17.60" stroke="#000" stroke-width="1.25"/>
<line x1="678.50" y1="226.30" x2="678.50" y2="223.30" stroke="#000" stroke-width="1.25"/>
<line x1="678.50" y1="14.60" x2="678.50" y2="17.60" stroke="#000" stroke-width="1.25"/>
<rect x="414.5" y="14.6" width="294.80" height="211.70" fill="none" stroke="#000" stroke-width="1.45"/>
<rect x="709.30" y="14.60" width="21.30" height="211.70" fill="url(#cbg)"/>
<line x1="709.30" y1="22.50" x2="712.30" y2="22.50" stroke="#000" stroke-width="0.8"/>
<line x1="730.60" y1="22.50" x2="727.60" y2="22.50" stroke="#000" stroke-width="0.8"/>
<line x1="709.30" y1="34.50" x2="712.30" y2="34.50" stroke="#000" stroke-width="0.8"/>
<line x1="730.60" y1="34.50" x2="727.60" y2="34.50" stroke="#000" stroke-width="0.8"/>
<line x1="709.30" y1="45.50" x2="712.30" y2="45.50" stroke="#000" stroke-width="0.8"/>
<line x1="730.60" y1="45.50" x2="727.60" y2="45.50" stroke="#000" stroke-width="0.8"/>
<line x1="709.30" y1="57.50" x2="712.30" y2="57.50" stroke="#000" stroke-width="0.8"/>
<line x1="730.60" y1="57.50" x2="727.60" y2="57.50" stroke="#000" stroke-width="0.8"/>
<line x1="709.30" y1="69.50" x2="712.30" y2="69.50" stroke="#000" stroke-width="0.8"/>
<line x1="730.60" y1="69.50" x2="727.60" y2="69.50" stroke="#000" stroke-width="0.8"/>
<line x1="709.30" y1="81.50" x2="712.30" y2="81.50" stroke="#000" stroke-width="0.8"/>
<line x1="730.60" y1="81.50" x2="727.60" y2="81.50" stroke="#000" stroke-width="0.8"/>
<line x1="709.30" y1="93.50" x2="712.30" y2="93.50" stroke="#000" stroke-width="0.8"/>
<line x1="730.60" y1="93.50" x2="727.60" y2="93.50" stroke="#000" stroke-width="0.8"/>
<line x1="709.30" y1="104.50" x2="712.30" y2="104.50" stroke="#000" stroke-width="0.8"/>
<line x1="730.60" y1="104.50" x2="727.60" y2="104.50" stroke="#000" stroke-width="0.8"/>
<line x1="709.30" y1="116.50" x2="712.30" y2="116.50" stroke="#000" stroke-width="0.8"/>
<line x1="730.60" y1="116.50" x2="727.60" y2="116.50" stroke="#000" stroke-width="0.8"/>
<line x1="709.30" y1="128.50" x2="712.30" y2="128.50" stroke="#000" stroke-width="0.8"/>
<line x1="730.60" y1="128.50" x2="727.60" y2="128.50" stroke="#000" stroke-width="0.8"/>
<line x1="709.30" y1="140.50" x2="712.30" y2="140.50" stroke="#000" stroke-width="0.8"/>
<line x1="730.60" y1="140.50" x2="727.60" y2="140.50" stroke="#000" stroke-width="0.8"/>
<line x1="709.30" y1="152.50" x2="712.30" y2="152.50" stroke="#000" stroke-width="0.8"/>
<line x1="730.60" y1="152.50" x2="727.60" y2="152.50" stroke="#000" stroke-width="0.8"/>
<line x1="709.30" y1="163.50" x2="712.30" y2="163.50" stroke="#000" stroke-width="0.8"/>
<line x1="730.60" y1="163.50" x2="727.60" y2="163.50" stroke="#000" stroke-width="0.8"/>
<line x1="709.30" y1="175.50" x2="712.30" y2="175.50" stroke="#000" stroke-width="0.8"/>
<line x1="730.60" y1="175.50" x2="727.60" y2="175.50" stroke="#000" stroke-width="0.8"/>
<line x1="709.30" y1="187.50" x2="712.30" y2="187.50" stroke="#000" stroke-width="0.8"/>
<line x1="730.60" y1="187.50" x2="727.60" y2="187.50" stroke="#000" stroke-width="0.8"/>
<line x1="709.30" y1="199.50" x2="712.30" y2="199.50" stroke="#000" stroke-width="0.8"/>
<line x1="730.60" y1="199.50" x2="727.60" y2="199.50" stroke="#000" stroke-width="0.8"/>
<line x1="709.30" y1="211.50" x2="712.30" y2="211.50" stroke="#000" stroke-width="0.8"/>
<line x1="730.60" y1="211.50" x2="727.60" y2="211.50" stroke="#000" stroke-width="0.8"/>
<line x1="709.30" y1="222.50" x2="712.30" y2="222.50" stroke="#000" stroke-width="0.8"/>
<line x1="730.60" y1="222.50" x2="727.60" y2="222.50" stroke="#000" stroke-width="0.8"/>
<line x1="709.30" y1="22.50" x2="713.80" y2="22.50" stroke="#000" stroke-width="0.8"/>
<line x1="730.60" y1="22.50" x2="726.10" y2="22.50" stroke="#000" stroke-width="0.8"/>
<line x1="709.30" y1="81.50" x2="713.80" y2="81.50" stroke="#000" stroke-width="0.8"/>
<line x1="730.60" y1="81.50" x2="726.10" y2="81.50" stroke="#000" stroke-width="0.8"/>
<line x1="709.30" y1="140.50" x2="713.80" y2="140.50" stroke="#000" stroke-width="0.8"/>
<line x1="730.60" y1="140.50" x2="726.10" y2="140.50" stroke="#000" stroke-width="0.8"/>
<line x1="709.30" y1="199.50" x2="713.80" y2="199.50" stroke="#000" stroke-width="0.8"/>
<line x1="730.60" y1="199.50" x2="726.10" y2="199.50" stroke="#000" stroke-width="0.8"/>
<rect x="709.30" y="14.60" width="21.30" height="211.70" fill="none" stroke="#000" stroke-width="1.8"/>
<text transform="translate(407.20,223.10) rotate(-90)" font-family="Liberation Sans" font-weight="bold" font-size="13.5" text-anchor="middle" stroke="#000" stroke-width="0.35">0</text>
<text transform="translate(407.20,156.04) rotate(-90)" font-family="Liberation Sans" font-weight="bold" font-size="13.5" text-anchor="middle" stroke="#000" stroke-width="0.35">2</text>
<text transform="translate(407.20,88.98) rotate(-90)" font-family="Liberation Sans" font-weight="bold" font-size="13.5" text-anchor="middle" stroke="#000" stroke-width="0.35">4</text>
<text transform="translate(407.20,21.92) rotate(-90)" font-family="Liberation Sans" font-weight="bold" font-size="13.5" text-anchor="middle" stroke="#000" stroke-width="0.35">6</text>
<text transform="translate(387.60,120.30) rotate(-90)" font-family="Liberation Sans" font-weight="bold" font-size="13.5" text-anchor="middle" stroke="#000" stroke-width="0.35"><tspan font-style="italic">θ</tspan></text>
<text transform="translate(477.78,241.70)" font-family="Liberation Sans" font-weight="bold" font-size="13.5" text-anchor="middle" stroke="#000" stroke-width="0.35">0.5</text>
<text transform="translate(555.60,241.70)" font-family="Liberation Sans" font-weight="bold" font-size="13.5" text-anchor="middle" stroke="#000" stroke-width="0.35">1</text>
<text transform="translate(633.42,241.70)" font-family="Liberation Sans" font-weight="bold" font-size="13.5" text-anchor="middle" stroke="#000" stroke-width="0.35">2</text>
<text transform="translate(562.90,266.30)" font-family="Liberation Serif" font-weight="bold" font-size="15" text-anchor="middle" stroke="#000" stroke-width="0.35">s (R<tspan dy="4" font-size="10">E</tspan><tspan dy="-4">)</tspan></text>
<text transform="translate(741.50,199.20) rotate(-90) scale(0.92,1)" font-family="Liberation Sans" font-weight="bold" font-size="11.4" text-anchor="middle" stroke="#000" stroke-width="0.35">2.2×10<tspan dx="0.5" dy="-6.5" font-size="8.2">4</tspan></text>
<text transform="translate(741.50,140.20) rotate(-90) scale(0.92,1)" font-family="Liberation Sans" font-weight="bold" font-size="11.4" text-anchor="middle" stroke="#000" stroke-width="0.35">2.25×10<tspan dx="0.5" dy="-6.5" font-size="8.2">4</tspan></text>
<text transform="translate(741.50,81.20) rotate(-90) scale(0.92,1)" font-family="Liberation Sans" font-weight="bold" font-size="11.4" text-anchor="middle" stroke="#000" stroke-width="0.35">2.3×10<tspan dx="0.5" dy="-6.5" font-size="8.2">4</tspan></text>
<text transform="translate(741.50,22.20) rotate(-90) scale(0.92,1)" font-family="Liberation Sans" font-weight="bold" font-size="11.4" text-anchor="middle" stroke="#000" stroke-width="0.35">2.35×10<tspan dx="0.5" dy="-6.5" font-size="8.2">4</tspan></text>
<text transform="translate(751.90,23.00) rotate(-90)" font-family="Liberation Sans" font-weight="bold" font-size="11.4" text-anchor="middle" stroke="#000" stroke-width="0.35">χ<tspan dx="4.5" dy="-7" font-size="8.2">2</tspan></text>
<circle cx="532" cy="59.3" r="4.8" fill="#000"/>
<rect x="36.20" y="296.00" width="28.16" height="6.47" fill="#0019c3"/>
<rect x="63.16" y="296.00" width="28.16" height="6.47" fill="#d0fa28"/>
<rect x="90.12" y="296.00" width="28.16" height="6.47" fill="#ff7600"/>
<rect x="117.08" y="296.00" width="28.16" height="6.47" fill="#6efa8c"/>
<rect x="144.04" y="296.00" width="28.16" height="6.47" fill="#fa2822"/>
<rect x="171.00" y="296.00" width="28.16" height="6.47" fill="#fa4944"/>
<rect x="197.96" y="296.00" width="28.16" height="6.47" fill="#fa4944"/>
<rect x="224.92" y="296.00" width="28.16" height="6.47" fill="#fa4944"/>
<rect x="251.88" y="296.00" width="28.16" height="6.47" fill="#fc5656"/>
<rect x="278.84" y="296.00" width="28.16" height="6.47" fill="#fc5656"/>
<rect x="305.80" y="296.00" width="25.30" height="6.47" fill="#fc5656"/>
<rect x="36.20" y="301.27" width="28.16" height="6.47" fill="#00027d"/>
<rect x="63.16" y="301.27" width="28.16" height="6.47" fill="#d0fa28"/>
<rect x="90.12" y="301.27" width="28.16" height="6.47" fill="#f8f800"/>
<rect x="117.08" y="301.27" width="28.16" height="6.47" fill="#ff7600"/>
<rect x="144.04" y="301.27" width="28.16" height="6.47" fill="#fa2822"/>
<rect x="171.00" y="301.27" width="28.16" height="6.47" fill="#fa4944"/>
<rect x="197.96" y="301.27" width="28.16" height="6.47" fill="#fa4944"/>
<rect x="224.92" y="301.27" width="28.16" height="6.47" fill="#fa4944"/>
<rect x="251.88" y="301.27" width="28.16" height="6.47" fill="#fc5656"/>
<rect x="278.84" y="301.27" width="28.16" height="6.47" fill="#fc5656"/>
<rect x="305.80" y="301.27" width="25.30" height="6.47" fill="#fc5656"/>
<rect x="36.20" y="306.54" width="28.16" height="6.47" fill="#d0fa28"/>
<rect x="63.16" y="306.54" width="28.16" height="6.47" fill="#ff9b00"/>
<rect x="90.12" y="306.54" width="28.16" height="6.47" fill="#f8f800"/>
<rect x="117.08" y="306.54" width="28.16" height="6.47" fill="#ff9b00"/>
<rect x="144.04" y="306.54" width="28.16" height="6.47" fill="#fa2822"/>
<rect x="171.00" y="306.54" width="28.16" height="6.47" fill="#fa2822"/>
<rect x="197.96" y="306.54" width="28.16" height="6.47" fill="#fa4944"/>
<rect x="224.92" y="306.54" width="28.16" height="6.47" fill="#fa2822"/>
<rect x="251.88" y="306.54" width="28.16" height="6.47" fill="#fa4944"/>
<rect x="278.84" y="306.54" width="28.16" height="6.47" fill="#fc5656"/>
<rect x="305.80" y="306.54" width="25.30" height="6.47" fill="#fc5656"/>
<rect x="36.20" y="311.81" width="28.16" height="6.47" fill="#d0fa28"/>
<rect x="63.16" y="311.81" width="28.16" height="6.47" fill="#ffcd00"/>
<rect x="90.12" y="311.81" width="28.16" height="6.47" fill="#ffcd00"/>
<rect x="117.08" y="311.81" width="28.16" height="6.47" fill="#fc100a"/>
<rect x="144.04" y="311.81" width="28.16" height="6.47" fill="#fa2822"/>
<rect x="171.00" y="311.81" width="28.16" height="6.47" fill="#fa2822"/>
<rect x="197.96" y="311.81" width="28.16" height="6.47" fill="#fa2822"/>
<rect x="224.92" y="311.81" width="28.16" height="6.47" fill="#fa4944"/>
<rect x="251.88" y="311.81" width="28.16" height="6.47" fill="#fa2822"/>
<rect x="278.84" y="311.81" width="28.16" height="6.47" fill="#fa4944"/>
<rect x="305.80" y="311.81" width="25.30" height="6.47" fill="#fc5656"/>
<rect x="36.20" y="317.08" width="28.16" height="6.47" fill="#6efa8c"/>
<rect x="63.16" y="317.08" width="28.16" height="6.47" fill="#f8f800"/>
<rect x="90.12" y="317.08" width="28.16" height="6.47" fill="#fc100a"/>
<rect x="117.08" y="317.08" width="28.16" height="6.47" fill="#fc100a"/>
<rect x="144.04" y="317.08" width="28.16" height="6.47" fill="#fa2822"/>
<rect x="171.00" y="317.08" width="28.16" height="6.47" fill="#fa2822"/>
<rect x="197.96" y="317.08" width="28.16" height="6.47" fill="#fa2822"/>
<rect x="224.92" y="317.08" width="28.16" height="6.47" fill="#fa4944"/>
<rect x="251.88" y="317.08" width="28.16" height="6.47" fill="#fc5656"/>
<rect x="278.84" y="317.08" width="28.16" height="6.47" fill="#fc5656"/>
<rect x="305.80" y="317.08" width="25.30" height="6.47" fill="#fc5656"/>
<rect x="36.20" y="322.35" width="28.16" height="6.47" fill="#ff9b00"/>
<rect x="63.16" y="322.35" width="28.16" height="6.47" fill="#ff9b00"/>
<rect x="90.12" y="322.35" width="28.16" height="6.47" fill="#ff9b00"/>
<rect x="117.08" y="322.35" width="28.16" height="6.47" fill="#fa2822"/>
<rect x="144.04" y="322.35" width="28.16" height="6.47" fill="#fa2822"/>
<rect x="171.00" y="322.35" width="28.16" height="6.47" fill="#fa4944"/>
<rect x="197.96" y="322.35" width="28.16" height="6.47" fill="#fa2822"/>
<rect x="224.92" y="322.35" width="28.16" height="6.47" fill="#fa2822"/>
<rect x="251.88" y="322.35" width="28.16" height="6.47" fill="#fc5656"/>
<rect x="278.84" y="322.35" width="28.16" height="6.47" fill="#fc5656"/>
<rect x="305.80" y="322.35" width="25.30" height="6.47" fill="#fc5656"/>
<rect x="36.20" y="327.62" width="28.16" height="6.47" fill="#ff5005"/>
<rect x="63.16" y="327.62" width="28.16" height="6.47" fill="#fc100a"/>
<rect x="90.12" y="327.62" width="28.16" height="6.47" fill="#fa2822"/>
<rect x="117.08" y="327.62" width="28.16" height="6.47" fill="#fc100a"/>
<rect x="144.04" y="327.62" width="28.16" height="6.47" fill="#fc100a"/>
<rect x="171.00" y="327.62" width="28.16" height="6.47" fill="#fc100a"/>
<rect x="197.96" y="327.62" width="28.16" height="6.47" fill="#fc100a"/>
<rect x="224.92" y="327.62" width="28.16" height="6.47" fill="#fa4944"/>
<rect x="251.88" y="327.62" width="28.16" height="6.47" fill="#fc5656"/>
<rect x="278.84" y="327.62" width="28.16" height="6.47" fill="#fc5656"/>
<rect x="305.80" y="327.62" width="25.30" height="6.47" fill="#fc5656"/>
<rect x="36.20" y="332.89" width="28.16" height="6.47" fill="#ff5005"/>
<rect x="63.16" y="332.89" width="28.16" height="6.47" fill="#ff5005"/>
<rect x="90.12" y="332.89" width="28.16" height="6.47" fill="#ff9b00"/>
<rect x="117.08" y="332.89" width="28.16" height="6.47" fill="#fc100a"/>
<rect x="144.04" y="332.89" width="28.16" height="6.47" fill="#ff7600"/>
<rect x="171.00" y="332.89" width="28.16" height="6.47" fill="#fc100a"/>
<rect x="197.96" y="332.89" width="28.16" height="6.47" fill="#fc100a"/>
<rect x="224.92" y="332.89" width="28.16" height="6.47" fill="#fa4944"/>
<rect x="251.88" y="332.89" width="28.16" height="6.47" fill="#fc5656"/>
<rect x="278.84" y="332.89" width="28.16" height="6.47" fill="#fc5656"/>
<rect x="305.80" y="332.89" width="25.30" height="6.47" fill="#fc5656"/>
<rect x="36.20" y="338.16" width="28.16" height="6.47" fill="#d0fa28"/>
<rect x="63.16" y="338.16" width="28.16" height="6.47" fill="#ff7600"/>
<rect x="90.12" y="338.16" width="28.16" height="6.47" fill="#ff5005"/>
<rect x="117.08" y="338.16" width="28.16" height="6.47" fill="#ff7600"/>
<rect x="144.04" y="338.16" width="28.16" height="6.47" fill="#ff7600"/>
<rect x="171.00" y="338.16" width="28.16" height="6.47" fill="#ff7600"/>
<rect x="197.96" y="338.16" width="28.16" height="6.47" fill="#fa2822"/>
<rect x="224.92" y="338.16" width="28.16" height="6.47" fill="#fc100a"/>
<rect x="251.88" y="338.16" width="28.16" height="6.47" fill="#fc5656"/>
<rect x="278.84" y="338.16" width="28.16" height="6.47" fill="#fc5656"/>
<rect x="305.80" y="338.16" width="25.30" height="6.47" fill="#fc5656"/>
<rect x="36.20" y="343.43" width="28.16" height="6.47" fill="#d0fa28"/>
<rect x="63.16" y="343.43" width="28.16" height="6.47" fill="#d0fa28"/>
<rect x="90.12" y="343.43" width="28.16" height="6.47" fill="#ffcd00"/>
<rect x="117.08" y="343.43" width="28.16" height="6.47" fill="#ff9b00"/>
<rect x="144.04" y="343.43" width="28.16" height="6.47" fill="#ff9b00"/>
<rect x="171.00" y="343.43" width="28.16" height="6.47" fill="#ffb700"/>
<rect x="197.96" y="343.43" width="28.16" height="6.47" fill="#fa4944"/>
<rect x="224.92" y="343.43" width="28.16" height="6.47" fill="#fa4944"/>
<rect x="251.88" y="343.43" width="28.16" height="6.47" fill="#fc5656"/>
<rect x="278.84" y="343.43" width="28.16" height="6.47" fill="#fc5656"/>
<rect x="305.80" y="343.43" width="25.30" height="6.47" fill="#fc5656"/>
<rect x="36.20" y="348.70" width="28.16" height="6.47" fill="#6efa8c"/>
<rect x="63.16" y="348.70" width="28.16" height="6.47" fill="#ff9b00"/>
<rect x="90.12" y="348.70" width="28.16" height="6.47" fill="#ff9b00"/>
<rect x="117.08" y="348.70" width="28.16" height="6.47" fill="#ff5005"/>
<rect x="144.04" y="348.70" width="28.16" height="6.47" fill="#ff5005"/>
<rect x="171.00" y="348.70" width="28.16" height="6.47" fill="#ff5005"/>
<rect x="197.96" y="348.70" width="28.16" height="6.47" fill="#fa2822"/>
<rect x="224.92" y="348.70" width="28.16" height="6.47" fill="#fa4944"/>
<rect x="251.88" y="348.70" width="28.16" height="6.47" fill="#fc5656"/>
<rect x="278.84" y="348.70" width="28.16" height="6.47" fill="#fc5656"/>
<rect x="305.80" y="348.70" width="25.30" height="6.47" fill="#fc5656"/>
<rect x="36.20" y="353.97" width="28.16" height="6.47" fill="#fc100a"/>
<rect x="63.16" y="353.97" width="28.16" height="6.47" fill="#ff5005"/>
<rect x="90.12" y="353.97" width="28.16" height="6.47" fill="#ff7600"/>
<rect x="117.08" y="353.97" width="28.16" height="6.47" fill="#fc100a"/>
<rect x="144.04" y="353.97" width="28.16" height="6.47" fill="#fc100a"/>
<rect x="171.00" y="353.97" width="28.16" height="6.47" fill="#fc100a"/>
<rect x="197.96" y="353.97" width="28.16" height="6.47" fill="#fc100a"/>
<rect x="224.92" y="353.97" width="28.16" height="6.47" fill="#fa2822"/>
<rect x="251.88" y="353.97" width="28.16" height="6.47" fill="#fc5656"/>
<rect x="278.84" y="353.97" width="28.16" height="6.47" fill="#fc5656"/>
<rect x="305.80" y="353.97" width="25.30" height="6.47" fill="#fc5656"/>
<rect x="36.20" y="359.24" width="28.16" height="6.47" fill="#6efa8c"/>
<rect x="63.16" y="359.24" width="28.16" height="6.47" fill="#fc100a"/>
<rect x="90.12" y="359.24" width="28.16" height="6.47" fill="#fc100a"/>
<rect x="117.08" y="359.24" width="28.16" height="6.47" fill="#fc100a"/>
<rect x="144.04" y="359.24" width="28.16" height="6.47" fill="#fa2822"/>
<rect x="171.00" y="359.24" width="28.16" height="6.47" fill="#fa2822"/>
<rect x="197.96" y="359.24" width="28.16" height="6.47" fill="#fa2822"/>
<rect x="224.92" y="359.24" width="28.16" height="6.47" fill="#fa4944"/>
<rect x="251.88" y="359.24" width="28.16" height="6.47" fill="#fc5656"/>
<rect x="278.84" y="359.24" width="28.16" height="6.47" fill="#fc5656"/>
<rect x="305.80" y="359.24" width="25.30" height="6.47" fill="#fc5656"/>
<rect x="36.20" y="364.51" width="28.16" height="6.47" fill="#6efa8c"/>
<rect x="63.16" y="364.51" width="28.16" height="6.47" fill="#fc100a"/>
<rect x="90.12" y="364.51" width="28.16" height="6.47" fill="#ff5005"/>
<rect x="117.08" y="364.51" width="28.16" height="6.47" fill="#fc100a"/>
<rect x="144.04" y="364.51" width="28.16" height="6.47" fill="#fa2822"/>
<rect x="171.00" y="364.51" width="28.16" height="6.47" fill="#fa2822"/>
<rect x="197.96" y="364.51" width="28.16" height="6.47" fill="#fa4944"/>
<rect x="224.92" y="364.51" width="28.16" height="6.47" fill="#fa4944"/>
<rect x="251.88" y="364.51" width="28.16" height="6.47" fill="#fc5656"/>
<rect x="278.84" y="364.51" width="28.16" height="6.47" fill="#fc5656"/>
<rect x="305.80" y="364.51" width="25.30" height="6.47" fill="#fc5656"/>
<rect x="36.20" y="369.78" width="28.16" height="6.47" fill="#d0fa28"/>
<rect x="63.16" y="369.78" width="28.16" height="6.47" fill="#ffcd00"/>
<rect x="90.12" y="369.78" width="28.16" height="6.47" fill="#fc100a"/>
<rect x="117.08" y="369.78" width="28.16" height="6.47" fill="#fa2822"/>
<rect x="144.04" y="369.78" width="28.16" height="6.47" fill="#fa2822"/>
<rect x="171.00" y="369.78" width="28.16" height="6.47" fill="#fa2822"/>
<rect x="197.96" y="369.78" width="28.16" height="6.47" fill="#fa4944"/>
<rect x="224.92" y="369.78" width="28.16" height="6.47" fill="#fa4944"/>
<rect x="251.88" y="369.78" width="28.16" height="6.47" fill="#fc5656"/>
<rect x="278.84" y="369.78" width="28.16" height="6.47" fill="#fc5656"/>
<rect x="305.80" y="369.78" width="25.30" height="6.47" fill="#fc5656"/>
<rect x="36.20" y="375.05" width="28.16" height="6.47" fill="#6efa8c"/>
<rect x="63.16" y="375.05" width="28.16" height="6.47" fill="#ff9b00"/>
<rect x="90.12" y="375.05" width="28.16" height="6.47" fill="#fc100a"/>
<rect x="117.08" y="375.05" width="28.16" height="6.47" fill="#fc100a"/>
<rect x="144.04" y="375.05" width="28.16" height="6.47" fill="#fa4944"/>
<rect x="171.00" y="375.05" width="28.16" height="6.47" fill="#fa4944"/>
<rect x="197.96" y="375.05" width="28.16" height="6.47" fill="#fa4944"/>
<rect x="224.92" y="375.05" width="28.16" height="6.47" fill="#fa4944"/>
<rect x="251.88" y="375.05" width="28.16" height="6.47" fill="#fc5656"/>
<rect x="278.84" y="375.05" width="28.16" height="6.47" fill="#fc5656"/>
<rect x="305.80" y="375.05" width="25.30" height="6.47" fill="#fc5656"/>
<rect x="36.20" y="380.32" width="28.16" height="6.47" fill="#00acf0"/>
<rect x="63.16" y="380.32" width="28.16" height="6.47" fill="#f8f800"/>
<rect x="90.12" y="380.32" width="28.16" height="6.47" fill="#ffb700"/>
<rect x="117.08" y="380.32" width="28.16" height="6.47" fill="#ff5005"/>
<rect x="144.04" y="380.32" width="28.16" height="6.47" fill="#fa2822"/>
<rect x="171.00" y="380.32" width="28.16" height="6.47" fill="#fa4944"/>
<rect x="197.96" y="380.32" width="28.16" height="6.47" fill="#fa4944"/>
<rect x="224.92" y="380.32" width="28.16" height="6.47" fill="#fa4944"/>
<rect x="251.88" y="380.32" width="28.16" height="6.47" fill="#fc5656"/>
<rect x="278.84" y="380.32" width="28.16" height="6.47" fill="#fc5656"/>
<rect x="305.80" y="380.32" width="25.30" height="6.47" fill="#fc5656"/>
<rect x="36.20" y="385.59" width="28.16" height="6.47" fill="#00acf0"/>
<rect x="63.16" y="385.59" width="28.16" height="6.47" fill="#d0fa28"/>
<rect x="90.12" y="385.59" width="28.16" height="6.47" fill="#f8f800"/>
<rect x="117.08" y="385.59" width="28.16" height="6.47" fill="#fc100a"/>
<rect x="144.04" y="385.59" width="28.16" height="6.47" fill="#fa2822"/>
<rect x="171.00" y="385.59" width="28.16" height="6.47" fill="#fa4944"/>
<rect x="197.96" y="385.59" width="28.16" height="6.47" fill="#fa4944"/>
<rect x="224.92" y="385.59" width="28.16" height="6.47" fill="#fa4944"/>
<rect x="251.88" y="385.59" width="28.16" height="6.47" fill="#fc5656"/>
<rect x="278.84" y="385.59" width="28.16" height="6.47" fill="#fc5656"/>
<rect x="305.80" y="385.59" width="25.30" height="6.47" fill="#fc5656"/>
<rect x="36.20" y="390.86" width="28.16" height="6.47" fill="#00f8fa"/>
<rect x="63.16" y="390.86" width="28.16" height="6.47" fill="#d0fa28"/>
<rect x="90.12" y="390.86" width="28.16" height="6.47" fill="#ff9b00"/>
<rect x="117.08" y="390.86" width="28.16" height="6.47" fill="#ff7600"/>
<rect x="144.04" y="390.86" width="28.16" height="6.47" fill="#fa4944"/>
<rect x="171.00" y="390.86" width="28.16" height="6.47" fill="#fc5656"/>
<rect x="197.96" y="390.86" width="28.16" height="6.47" fill="#fa4944"/>
<rect x="224.92" y="390.86" width="28.16" height="6.47" fill="#fa4944"/>
<rect x="251.88" y="390.86" width="28.16" height="6.47" fill="#fc5656"/>
<rect x="278.84" y="390.86" width="28.16" height="6.47" fill="#fc5656"/>
<rect x="305.80" y="390.86" width="25.30" height="6.47" fill="#fc5656"/>
<rect x="36.20" y="396.13" width="28.16" height="6.47" fill="#00027d"/>
<rect x="63.16" y="396.13" width="28.16" height="6.47" fill="#f8f800"/>
<rect x="90.12" y="396.13" width="28.16" height="6.47" fill="#ffb700"/>
<rect x="117.08" y="396.13" width="28.16" height="6.47" fill="#ff7600"/>
<rect x="144.04" y="396.13" width="28.16" height="6.47" fill="#fc100a"/>
<rect x="171.00" y="396.13" width="28.16" height="6.47" fill="#fc5656"/>
<rect x="197.96" y="396.13" width="28.16" height="6.47" fill="#fa4944"/>
<rect x="224.92" y="396.13" width="28.16" height="6.47" fill="#fa4944"/>
<rect x="251.88" y="396.13" width="28.16" height="6.47" fill="#fc5656"/>
<rect x="278.84" y="396.13" width="28.16" height="6.47" fill="#fc5656"/>
<rect x="305.80" y="396.13" width="25.30" height="6.47" fill="#fc5656"/>
<rect x="36.20" y="401.40" width="28.16" height="6.47" fill="#0a41de"/>
<rect x="63.16" y="401.40" width="28.16" height="6.47" fill="#00027d"/>
<rect x="90.12" y="401.40" width="28.16" height="6.47" fill="#ff7600"/>
<rect x="117.08" y="401.40" width="28.16" height="6.47" fill="#d0fa28"/>
<rect x="144.04" y="401.40" width="28.16" height="6.47" fill="#fa4944"/>
<rect x="171.00" y="401.40" width="28.16" height="6.47" fill="#fa4944"/>
<rect x="197.96" y="401.40" width="28.16" height="6.47" fill="#fa4944"/>
<rect x="224.92" y="401.40" width="28.16" height="6.47" fill="#fa4944"/>
<rect x="251.88" y="401.40" width="28.16" height="6.47" fill="#fc5656"/>
<rect x="278.84" y="401.40" width="28.16" height="6.47" fill="#fc5656"/>
<rect x="305.80" y="401.40" width="25.30" height="6.47" fill="#fc5656"/>
<rect x="36.20" y="406.67" width="28.16" height="6.47" fill="#55f8aa"/>
<rect x="63.16" y="406.67" width="28.16" height="6.47" fill="#f8f800"/>
<rect x="90.12" y="406.67" width="28.16" height="6.47" fill="#ff9b00"/>
<rect x="117.08" y="406.67" width="28.16" height="6.47" fill="#fa2822"/>
<rect x="144.04" y="406.67" width="28.16" height="6.47" fill="#fa2822"/>
<rect x="171.00" y="406.67" width="28.16" height="6.47" fill="#fa4944"/>
<rect x="197.96" y="406.67" width="28.16" height="6.47" fill="#fa4944"/>
<rect x="224.92" y="406.67" width="28.16" height="6.47" fill="#fa4944"/>
<rect x="251.88" y="406.67" width="28.16" height="6.47" fill="#fc5656"/>
<rect x="278.84" y="406.67" width="28.16" height="6.47" fill="#fc5656"/>
<rect x="305.80" y="406.67" width="25.30" height="6.47" fill="#fc5656"/>
<rect x="36.20" y="411.94" width="28.16" height="6.47" fill="#6efa8c"/>
<rect x="63.16" y="411.94" width="28.16" height="6.47" fill="#d0fa28"/>
<rect x="90.12" y="411.94" width="28.16" height="6.47" fill="#fc100a"/>
<rect x="117.08" y="411.94" width="28.16" height="6.47" fill="#fc100a"/>
<rect x="144.04" y="411.94" width="28.16" height="6.47" fill="#fa2822"/>
<rect x="171.00" y="411.94" width="28.16" height="6.47" fill="#fa4944"/>
<rect x="197.96" y="411.94" width="28.16" height="6.47" fill="#fa4944"/>
<rect x="224.92" y="411.94" width="28.16" height="6.47" fill="#fa4944"/>
<rect x="251.88" y="411.94" width="28.16" height="6.47" fill="#fc5656"/>
<rect x="278.84" y="411.94" width="28.16" height="6.47" fill="#fc5656"/>
<rect x="305.80" y="411.94" width="25.30" height="6.47" fill="#fc5656"/>
<rect x="36.20" y="417.21" width="28.16" height="6.47" fill="#6efa8c"/>
<rect x="63.16" y="417.21" width="28.16" height="6.47" fill="#d0fa28"/>
<rect x="90.12" y="417.21" width="28.16" height="6.47" fill="#fc100a"/>
<rect x="117.08" y="417.21" width="28.16" height="6.47" fill="#fc100a"/>
<rect x="144.04" y="417.21" width="28.16" height="6.47" fill="#fa2822"/>
<rect x="171.00" y="417.21" width="28.16" height="6.47" fill="#fa4944"/>
<rect x="197.96" y="417.21" width="28.16" height="6.47" fill="#fa2822"/>
<rect x="224.92" y="417.21" width="28.16" height="6.47" fill="#fc5656"/>
<rect x="251.88" y="417.21" width="28.16" height="6.47" fill="#fa4944"/>
<rect x="278.84" y="417.21" width="28.16" height="6.47" fill="#fc5656"/>
<rect x="305.80" y="417.21" width="25.30" height="6.47" fill="#fc5656"/>
<rect x="36.20" y="422.48" width="28.16" height="6.47" fill="#ffcd00"/>
<rect x="63.16" y="422.48" width="28.16" height="6.47" fill="#ff9b00"/>
<rect x="90.12" y="422.48" width="28.16" height="6.47" fill="#fc100a"/>
<rect x="117.08" y="422.48" width="28.16" height="6.47" fill="#fc100a"/>
<rect x="144.04" y="422.48" width="28.16" height="6.47" fill="#fa4944"/>
<rect x="171.00" y="422.48" width="28.16" height="6.47" fill="#fa2822"/>
<rect x="197.96" y="422.48" width="28.16" height="6.47" fill="#fa2822"/>
<rect x="224.92" y="422.48" width="28.16" height="6.47" fill="#fc5656"/>
<rect x="251.88" y="422.48" width="28.16" height="6.47" fill="#fa4944"/>
<rect x="278.84" y="422.48" width="28.16" height="6.47" fill="#fc5656"/>
<rect x="305.80" y="422.48" width="25.30" height="6.47" fill="#fc5656"/>
<rect x="36.20" y="427.75" width="28.16" height="6.47" fill="#00acf0"/>
<rect x="63.16" y="427.75" width="28.16" height="6.47" fill="#ff9b00"/>
<rect x="90.12" y="427.75" width="28.16" height="6.47" fill="#ff7600"/>
<rect x="117.08" y="427.75" width="28.16" height="6.47" fill="#fa2822"/>
<rect x="144.04" y="427.75" width="28.16" height="6.47" fill="#fa2822"/>
<rect x="171.00" y="427.75" width="28.16" height="6.47" fill="#fa2822"/>
<rect x="197.96" y="427.75" width="28.16" height="6.47" fill="#fa2822"/>
<rect x="224.92" y="427.75" width="28.16" height="6.47" fill="#fa2822"/>
<rect x="251.88" y="427.75" width="28.16" height="6.47" fill="#fc5656"/>
<rect x="278.84" y="427.75" width="28.16" height="6.47" fill="#fc5656"/>
<rect x="305.80" y="427.75" width="25.30" height="6.47" fill="#fc5656"/>
<rect x="36.20" y="433.02" width="28.16" height="6.47" fill="#f8f800"/>
<rect x="63.16" y="433.02" width="28.16" height="6.47" fill="#ff9b00"/>
<rect x="90.12" y="433.02" width="28.16" height="6.47" fill="#fa2822"/>
<rect x="117.08" y="433.02" width="28.16" height="6.47" fill="#fc100a"/>
<rect x="144.04" y="433.02" width="28.16" height="6.47" fill="#fc100a"/>
<rect x="171.00" y="433.02" width="28.16" height="6.47" fill="#fa2822"/>
<rect x="197.96" y="433.02" width="28.16" height="6.47" fill="#fa2822"/>
<rect x="224.92" y="433.02" width="28.16" height="6.47" fill="#fc5656"/>
<rect x="251.88" y="433.02" width="28.16" height="6.47" fill="#fc5656"/>
<rect x="278.84" y="433.02" width="28.16" height="6.47" fill="#fc5656"/>
<rect x="305.80" y="433.02" width="25.30" height="6.47" fill="#fc5656"/>
<rect x="36.20" y="438.29" width="28.16" height="6.47" fill="#fc100a"/>
<rect x="63.16" y="438.29" width="28.16" height="6.47" fill="#fc100a"/>
<rect x="90.12" y="438.29" width="28.16" height="6.47" fill="#fc100a"/>
<rect x="117.08" y="438.29" width="28.16" height="6.47" fill="#fc100a"/>
<rect x="144.04" y="438.29" width="28.16" height="6.47" fill="#fc100a"/>
<rect x="171.00" y="438.29" width="28.16" height="6.47" fill="#ff5005"/>
<rect x="197.96" y="438.29" width="28.16" height="6.47" fill="#fc100a"/>
<rect x="224.92" y="438.29" width="28.16" height="6.47" fill="#fa4944"/>
<rect x="251.88" y="438.29" width="28.16" height="6.47" fill="#fc5656"/>
<rect x="278.84" y="438.29" width="28.16" height="6.47" fill="#fc5656"/>
<rect x="305.80" y="438.29" width="25.30" height="6.47" fill="#fc5656"/>
<rect x="36.20" y="443.56" width="28.16" height="6.47" fill="#ff5005"/>
<rect x="63.16" y="443.56" width="28.16" height="6.47" fill="#f8f800"/>
<rect x="90.12" y="443.56" width="28.16" height="6.47" fill="#ff5005"/>
<rect x="117.08" y="443.56" width="28.16" height="6.47" fill="#ff5005"/>
<rect x="144.04" y="443.56" width="28.16" height="6.47" fill="#ff7600"/>
<rect x="171.00" y="443.56" width="28.16" height="6.47" fill="#ff5005"/>
<rect x="197.96" y="443.56" width="28.16" height="6.47" fill="#fa4944"/>
<rect x="224.92" y="443.56" width="28.16" height="6.47" fill="#fa2822"/>
<rect x="251.88" y="443.56" width="28.16" height="6.47" fill="#fc5656"/>
<rect x="278.84" y="443.56" width="28.16" height="6.47" fill="#fc5656"/>
<rect x="305.80" y="443.56" width="25.30" height="6.47" fill="#fc5656"/>
<rect x="36.20" y="448.83" width="28.16" height="6.47" fill="#6efa8c"/>
<rect x="63.16" y="448.83" width="28.16" height="6.47" fill="#d0fa28"/>
<rect x="90.12" y="448.83" width="28.16" height="6.47" fill="#ffcd00"/>
<rect x="117.08" y="448.83" width="28.16" height="6.47" fill="#ffcd00"/>
<rect x="144.04" y="448.83" width="28.16" height="6.47" fill="#fa4944"/>
<rect x="171.00" y="448.83" width="28.16" height="6.47" fill="#ffb700"/>
<rect x="197.96" y="448.83" width="28.16" height="6.47" fill="#fa4944"/>
<rect x="224.92" y="448.83" width="28.16" height="6.47" fill="#fa4944"/>
<rect x="251.88" y="448.83" width="28.16" height="6.47" fill="#fc5656"/>
<rect x="278.84" y="448.83" width="28.16" height="6.47" fill="#fc5656"/>
<rect x="305.80" y="448.83" width="25.30" height="6.47" fill="#fc5656"/>
<rect x="36.20" y="454.10" width="28.16" height="6.47" fill="#6efa8c"/>
<rect x="63.16" y="454.10" width="28.16" height="6.47" fill="#ffb700"/>
<rect x="90.12" y="454.10" width="28.16" height="6.47" fill="#ff5005"/>
<rect x="117.08" y="454.10" width="28.16" height="6.47" fill="#ff7600"/>
<rect x="144.04" y="454.10" width="28.16" height="6.47" fill="#ff7600"/>
<rect x="171.00" y="454.10" width="28.16" height="6.47" fill="#fc100a"/>
<rect x="197.96" y="454.10" width="28.16" height="6.47" fill="#ff5005"/>
<rect x="224.92" y="454.10" width="28.16" height="6.47" fill="#fa4944"/>
<rect x="251.88" y="454.10" width="28.16" height="6.47" fill="#fc5656"/>
<rect x="278.84" y="454.10" width="28.16" height="6.47" fill="#fc5656"/>
<rect x="305.80" y="454.10" width="25.30" height="6.47" fill="#fc5656"/>
<rect x="36.20" y="459.37" width="28.16" height="6.47" fill="#6efa8c"/>
<rect x="63.16" y="459.37" width="28.16" height="6.47" fill="#fc100a"/>
<rect x="90.12" y="459.37" width="28.16" height="6.47" fill="#ff9b00"/>
<rect x="117.08" y="459.37" width="28.16" height="6.47" fill="#fc100a"/>
<rect x="144.04" y="459.37" width="28.16" height="6.47" fill="#ff5005"/>
<rect x="171.00" y="459.37" width="28.16" height="6.47" fill="#fc100a"/>
<rect x="197.96" y="459.37" width="28.16" height="6.47" fill="#fa4944"/>
<rect x="224.92" y="459.37" width="28.16" height="6.47" fill="#fa2822"/>
<rect x="251.88" y="459.37" width="28.16" height="6.47" fill="#fc5656"/>
<rect x="278.84" y="459.37" width="28.16" height="6.47" fill="#fc5656"/>
<rect x="305.80" y="459.37" width="25.30" height="6.47" fill="#fc5656"/>
<rect x="36.20" y="464.64" width="28.16" height="6.47" fill="#ff9b00"/>
<rect x="63.16" y="464.64" width="28.16" height="6.47" fill="#ff7600"/>
<rect x="90.12" y="464.64" width="28.16" height="6.47" fill="#fc100a"/>
<rect x="117.08" y="464.64" width="28.16" height="6.47" fill="#fc100a"/>
<rect x="144.04" y="464.64" width="28.16" height="6.47" fill="#fc100a"/>
<rect x="171.00" y="464.64" width="28.16" height="6.47" fill="#fa2822"/>
<rect x="197.96" y="464.64" width="28.16" height="6.47" fill="#fa2822"/>
<rect x="224.92" y="464.64" width="28.16" height="6.47" fill="#fa4944"/>
<rect x="251.88" y="464.64" width="28.16" height="6.47" fill="#fc5656"/>
<rect x="278.84" y="464.64" width="28.16" height="6.47" fill="#fc5656"/>
<rect x="305.80" y="464.64" width="25.30" height="6.47" fill="#fc5656"/>
<rect x="36.20" y="469.91" width="28.16" height="6.47" fill="#ff9b00"/>
<rect x="63.16" y="469.91" width="28.16" height="6.47" fill="#fc100a"/>
<rect x="90.12" y="469.91" width="28.16" height="6.47" fill="#fa2822"/>
<rect x="117.08" y="469.91" width="28.16" height="6.47" fill="#fc100a"/>
<rect x="144.04" y="469.91" width="28.16" height="6.47" fill="#fc100a"/>
<rect x="171.00" y="469.91" width="28.16" height="6.47" fill="#fa2822"/>
<rect x="197.96" y="469.91" width="28.16" height="6.47" fill="#fa2822"/>
<rect x="224.92" y="469.91" width="28.16" height="6.47" fill="#fa4944"/>
<rect x="251.88" y="469.91" width="28.16" height="6.47" fill="#fa4944"/>
<rect x="278.84" y="469.91" width="28.16" height="6.47" fill="#fc5656"/>
<rect x="305.80" y="469.91" width="25.30" height="6.47" fill="#fc5656"/>
<rect x="36.20" y="475.18" width="28.16" height="6.47" fill="#d0fa28"/>
<rect x="63.16" y="475.18" width="28.16" height="6.47" fill="#f8f800"/>
<rect x="90.12" y="475.18" width="28.16" height="6.47" fill="#ff7600"/>
<rect x="117.08" y="475.18" width="28.16" height="6.47" fill="#fc100a"/>
<rect x="144.04" y="475.18" width="28.16" height="6.47" fill="#fc100a"/>
<rect x="171.00" y="475.18" width="28.16" height="6.47" fill="#fa2822"/>
<rect x="197.96" y="475.18" width="28.16" height="6.47" fill="#fa4944"/>
<rect x="224.92" y="475.18" width="28.16" height="6.47" fill="#fa2822"/>
<rect x="251.88" y="475.18" width="28.16" height="6.47" fill="#fa4944"/>
<rect x="278.84" y="475.18" width="28.16" height="6.47" fill="#fc5656"/>
<rect x="305.80" y="475.18" width="25.30" height="6.47" fill="#fc5656"/>
<rect x="36.20" y="480.45" width="28.16" height="6.47" fill="#0019c3"/>
<rect x="63.16" y="480.45" width="28.16" height="6.47" fill="#d0fa28"/>
<rect x="90.12" y="480.45" width="28.16" height="6.47" fill="#fc100a"/>
<rect x="117.08" y="480.45" width="28.16" height="6.47" fill="#fc100a"/>
<rect x="144.04" y="480.45" width="28.16" height="6.47" fill="#fa2822"/>
<rect x="171.00" y="480.45" width="28.16" height="6.47" fill="#fa4944"/>
<rect x="197.96" y="480.45" width="28.16" height="6.47" fill="#fa4944"/>
<rect x="224.92" y="480.45" width="28.16" height="6.47" fill="#fa2822"/>
<rect x="251.88" y="480.45" width="28.16" height="6.47" fill="#fa4944"/>
<rect x="278.84" y="480.45" width="28.16" height="6.47" fill="#fc5656"/>
<rect x="305.80" y="480.45" width="25.30" height="6.47" fill="#fc5656"/>
<rect x="36.20" y="485.72" width="28.16" height="6.47" fill="#55f8aa"/>
<rect x="63.16" y="485.72" width="28.16" height="6.47" fill="#f8f800"/>
<rect x="90.12" y="485.72" width="28.16" height="6.47" fill="#ff7600"/>
<rect x="117.08" y="485.72" width="28.16" height="6.47" fill="#fa2822"/>
<rect x="144.04" y="485.72" width="28.16" height="6.47" fill="#fa2822"/>
<rect x="171.00" y="485.72" width="28.16" height="6.47" fill="#fa4944"/>
<rect x="197.96" y="485.72" width="28.16" height="6.47" fill="#fa4944"/>
<rect x="224.92" y="485.72" width="28.16" height="6.47" fill="#fa4944"/>
<rect x="251.88" y="485.72" width="28.16" height="6.47" fill="#fc5656"/>
<rect x="278.84" y="485.72" width="28.16" height="6.47" fill="#fc5656"/>
<rect x="305.80" y="485.72" width="25.30" height="6.47" fill="#fc5656"/>
<rect x="36.20" y="490.99" width="28.16" height="6.47" fill="#00027d"/>
<rect x="63.16" y="490.99" width="28.16" height="6.47" fill="#d0fa28"/>
<rect x="90.12" y="490.99" width="28.16" height="6.47" fill="#d0fa28"/>
<rect x="117.08" y="490.99" width="28.16" height="6.47" fill="#fc100a"/>
<rect x="144.04" y="490.99" width="28.16" height="6.47" fill="#ff7600"/>
<rect x="171.00" y="490.99" width="28.16" height="6.47" fill="#fa4944"/>
<rect x="197.96" y="490.99" width="28.16" height="6.47" fill="#fa4944"/>
<rect x="224.92" y="490.99" width="28.16" height="6.47" fill="#fa4944"/>
<rect x="251.88" y="490.99" width="28.16" height="6.47" fill="#fc5656"/>
<rect x="278.84" y="490.99" width="28.16" height="6.47" fill="#fc5656"/>
<rect x="305.80" y="490.99" width="25.30" height="6.47" fill="#fc5656"/>
<rect x="36.20" y="496.26" width="28.16" height="6.47" fill="#00f8fa"/>
<rect x="63.16" y="496.26" width="28.16" height="6.47" fill="#0a41de"/>
<rect x="90.12" y="496.26" width="28.16" height="6.47" fill="#0a41de"/>
<rect x="117.08" y="496.26" width="28.16" height="6.47" fill="#fc100a"/>
<rect x="144.04" y="496.26" width="28.16" height="6.47" fill="#fa2822"/>
<rect x="171.00" y="496.26" width="28.16" height="6.47" fill="#fa4944"/>
<rect x="197.96" y="496.26" width="28.16" height="6.47" fill="#fa4944"/>
<rect x="224.92" y="496.26" width="28.16" height="6.47" fill="#fa4944"/>
<rect x="251.88" y="496.26" width="28.16" height="6.47" fill="#fc5656"/>
<rect x="278.84" y="496.26" width="28.16" height="6.47" fill="#fa4944"/>
<rect x="305.80" y="496.26" width="25.30" height="6.47" fill="#fc5656"/>
<rect x="36.20" y="501.53" width="28.16" height="5.27" fill="#0019c3"/>
<rect x="63.16" y="501.53" width="28.16" height="5.27" fill="#0a41de"/>
<rect x="90.12" y="501.53" width="28.16" height="5.27" fill="#0a41de"/>
<rect x="117.08" y="501.53" width="28.16" height="5.27" fill="#55f8aa"/>
<rect x="144.04" y="501.53" width="28.16" height="5.27" fill="#fc100a"/>
<rect x="171.00" y="501.53" width="28.16" height="5.27" fill="#ff7600"/>
<rect x="197.96" y="501.53" width="28.16" height="5.27" fill="#fa2822"/>
<rect x="224.92" y="501.53" width="28.16" height="5.27" fill="#fa4944"/>
<rect x="251.88" y="501.53" width="28.16" height="5.27" fill="#fa4944"/>
<rect x="278.84" y="501.53" width="28.16" height="5.27" fill="#fc5656"/>
<rect x="305.80" y="501.53" width="25.30" height="5.27" fill="#fc5656"/>
<line x1="36.60" y1="504.50" x2="42.60" y2="504.50" stroke="#000" stroke-width="1.25"/>
<line x1="331.10" y1="504.50" x2="325.10" y2="504.50" stroke="#000" stroke-width="1.25"/>
<line x1="36.60" y1="470.50" x2="39.60" y2="470.50" stroke="#000" stroke-width="1.25"/>
<line x1="331.10" y1="470.50" x2="328.10" y2="470.50" stroke="#000" stroke-width="1.25"/>
<line x1="36.60" y1="437.50" x2="42.60" y2="437.50" stroke="#000" stroke-width="1.25"/>
<line x1="331.10" y1="437.50" x2="325.10" y2="437.50" stroke="#000" stroke-width="1.25"/>
<line x1="36.60" y1="403.50" x2="39.60" y2="403.50" stroke="#000" stroke-width="1.25"/>
<line x1="331.10" y1="403.50" x2="328.10" y2="403.50" stroke="#000" stroke-width="1.25"/>
<line x1="36.60" y1="369.50" x2="42.60" y2="369.50" stroke="#000" stroke-width="1.25"/>
<line x1="331.10" y1="369.50" x2="325.10" y2="369.50" stroke="#000" stroke-width="1.25"/>
<line x1="36.60" y1="336.50" x2="39.60" y2="336.50" stroke="#000" stroke-width="1.25"/>
<line x1="331.10" y1="336.50" x2="328.10" y2="336.50" stroke="#000" stroke-width="1.25"/>
<line x1="36.60" y1="302.50" x2="42.60" y2="302.50" stroke="#000" stroke-width="1.25"/>
<line x1="331.10" y1="302.50" x2="325.10" y2="302.50" stroke="#000" stroke-width="1.25"/>
<line x1="39.50" y1="507.30" x2="39.50" y2="504.30" stroke="#000" stroke-width="1.25"/>
<line x1="39.50" y1="295.60" x2="39.50" y2="298.60" stroke="#000" stroke-width="1.25"/>
<line x1="43.50" y1="507.30" x2="43.50" y2="504.30" stroke="#000" stroke-width="1.25"/>
<line x1="43.50" y1="295.60" x2="43.50" y2="298.60" stroke="#000" stroke-width="1.25"/>
<line x1="46.50" y1="507.30" x2="46.50" y2="504.30" stroke="#000" stroke-width="1.25"/>
<line x1="46.50" y1="295.60" x2="46.50" y2="298.60" stroke="#000" stroke-width="1.25"/>
<line x1="49.50" y1="507.30" x2="49.50" y2="501.30" stroke="#000" stroke-width="1.25"/>
<line x1="49.50" y1="295.60" x2="49.50" y2="301.60" stroke="#000" stroke-width="1.25"/>
<line x1="69.50" y1="507.30" x2="69.50" y2="504.30" stroke="#000" stroke-width="1.25"/>
<line x1="69.50" y1="295.60" x2="69.50" y2="298.60" stroke="#000" stroke-width="1.25"/>
<line x1="81.50" y1="507.30" x2="81.50" y2="504.30" stroke="#000" stroke-width="1.25"/>
<line x1="81.50" y1="295.60" x2="81.50" y2="298.60" stroke="#000" stroke-width="1.25"/>
<line x1="90.50" y1="507.30" x2="90.50" y2="504.30" stroke="#000" stroke-width="1.25"/>
<line x1="90.50" y1="295.60" x2="90.50" y2="298.60" stroke="#000" stroke-width="1.25"/>
<line x1="96.50" y1="507.30" x2="96.50" y2="504.30" stroke="#000" stroke-width="1.25"/>
<line x1="96.50" y1="295.60" x2="96.50" y2="298.60" stroke="#000" stroke-width="1.25"/>
<line x1="102.50" y1="507.30" x2="102.50" y2="504.30" stroke="#000" stroke-width="1.25"/>
<line x1="102.50" y1="295.60" x2="102.50" y2="298.60" stroke="#000" stroke-width="1.25"/>
<line x1="106.50" y1="507.30" x2="106.50" y2="504.30" stroke="#000" stroke-width="1.25"/>
<line x1="106.50" y1="295.60" x2="106.50" y2="298.60" stroke="#000" stroke-width="1.25"/>
<line x1="110.50" y1="507.30" x2="110.50" y2="504.30" stroke="#000" stroke-width="1.25"/>
<line x1="110.50" y1="295.60" x2="110.50" y2="298.60" stroke="#000" stroke-width="1.25"/>
<line x1="113.50" y1="507.30" x2="113.50" y2="504.30" stroke="#000" stroke-width="1.25"/>
<line x1="113.50" y1="295.60" x2="113.50" y2="298.60" stroke="#000" stroke-width="1.25"/>
<line x1="117.50" y1="507.30" x2="117.50" y2="501.30" stroke="#000" stroke-width="1.25"/>
<line x1="117.50" y1="295.60" x2="117.50" y2="301.60" stroke="#000" stroke-width="1.25"/>
<line x1="137.50" y1="507.30" x2="137.50" y2="504.30" stroke="#000" stroke-width="1.25"/>
<line x1="137.50" y1="295.60" x2="137.50" y2="298.60" stroke="#000" stroke-width="1.25"/>
<line x1="149.50" y1="507.30" x2="149.50" y2="504.30" stroke="#000" stroke-width="1.25"/>
<line x1="149.50" y1="295.60" x2="149.50" y2="298.60" stroke="#000" stroke-width="1.25"/>
<line x1="157.50" y1="507.30" x2="157.50" y2="504.30" stroke="#000" stroke-width="1.25"/>
<line x1="157.50" y1="295.60" x2="157.50" y2="298.60" stroke="#000" stroke-width="1.25"/>
<line x1="164.50" y1="507.30" x2="164.50" y2="504.30" stroke="#000" stroke-width="1.25"/>
<line x1="164.50" y1="295.60" x2="164.50" y2="298.60" stroke="#000" stroke-width="1.25"/>
<line x1="169.50" y1="507.30" x2="169.50" y2="504.30" stroke="#000" stroke-width="1.25"/>
<line x1="169.50" y1="295.60" x2="169.50" y2="298.60" stroke="#000" stroke-width="1.25"/>
<line x1="174.50" y1="507.30" x2="174.50" y2="504.30" stroke="#000" stroke-width="1.25"/>
<line x1="174.50" y1="295.60" x2="174.50" y2="298.60" stroke="#000" stroke-width="1.25"/>
<line x1="177.50" y1="507.30" x2="177.50" y2="504.30" stroke="#000" stroke-width="1.25"/>
<line x1="177.50" y1="295.60" x2="177.50" y2="298.60" stroke="#000" stroke-width="1.25"/>
<line x1="181.50" y1="507.30" x2="181.50" y2="504.30" stroke="#000" stroke-width="1.25"/>
<line x1="181.50" y1="295.60" x2="181.50" y2="298.60" stroke="#000" stroke-width="1.25"/>
<line x1="184.50" y1="507.30" x2="184.50" y2="501.30" stroke="#000" stroke-width="1.25"/>
<line x1="184.50" y1="295.60" x2="184.50" y2="301.60" stroke="#000" stroke-width="1.25"/>
<line x1="204.50" y1="507.30" x2="204.50" y2="504.30" stroke="#000" stroke-width="1.25"/>
<line x1="204.50" y1="295.60" x2="204.50" y2="298.60" stroke="#000" stroke-width="1.25"/>
<line x1="216.50" y1="507.30" x2="216.50" y2="504.30" stroke="#000" stroke-width="1.25"/>
<line x1="216.50" y1="295.60" x2="216.50" y2="298.60" stroke="#000" stroke-width="1.25"/>
<line x1="225.50" y1="507.30" x2="225.50" y2="504.30" stroke="#000" stroke-width="1.25"/>
<line x1="225.50" y1="295.60" x2="225.50" y2="298.60" stroke="#000" stroke-width="1.25"/>
<line x1="231.50" y1="507.30" x2="231.50" y2="504.30" stroke="#000" stroke-width="1.25"/>
<line x1="231.50" y1="295.60" x2="231.50" y2="298.60" stroke="#000" stroke-width="1.25"/>
<line x1="236.50" y1="507.30" x2="236.50" y2="504.30" stroke="#000" stroke-width="1.25"/>
<line x1="236.50" y1="295.60" x2="236.50" y2="298.60" stroke="#000" stroke-width="1.25"/>
<line x1="241.50" y1="507.30" x2="241.50" y2="504.30" stroke="#000" stroke-width="1.25"/>
<line x1="241.50" y1="295.60" x2="241.50" y2="298.60" stroke="#000" stroke-width="1.25"/>
<line x1="245.50" y1="507.30" x2="245.50" y2="504.30" stroke="#000" stroke-width="1.25"/>
<line x1="245.50" y1="295.60" x2="245.50" y2="298.60" stroke="#000" stroke-width="1.25"/>
<line x1="248.50" y1="507.30" x2="248.50" y2="504.30" stroke="#000" stroke-width="1.25"/>
<line x1="248.50" y1="295.60" x2="248.50" y2="298.60" stroke="#000" stroke-width="1.25"/>
<line x1="251.50" y1="507.30" x2="251.50" y2="501.30" stroke="#000" stroke-width="1.25"/>
<line x1="251.50" y1="295.60" x2="251.50" y2="301.60" stroke="#000" stroke-width="1.25"/>
<line x1="272.50" y1="507.30" x2="272.50" y2="504.30" stroke="#000" stroke-width="1.25"/>
<line x1="272.50" y1="295.60" x2="272.50" y2="298.60" stroke="#000" stroke-width="1.25"/>
<line x1="284.50" y1="507.30" x2="284.50" y2="504.30" stroke="#000" stroke-width="1.25"/>
<line x1="284.50" y1="295.60" x2="284.50" y2="298.60" stroke="#000" stroke-width="1.25"/>
<line x1="292.50" y1="507.30" x2="292.50" y2="504.30" stroke="#000" stroke-width="1.25"/>
<line x1="292.50" y1="295.60" x2="292.50" y2="298.60" stroke="#000" stroke-width="1.25"/>
<line x1="298.50" y1="507.30" x2="298.50" y2="504.30" stroke="#000" stroke-width="1.25"/>
<line x1="298.50" y1="295.60" x2="298.50" y2="298.60" stroke="#000" stroke-width="1.25"/>
<line x1="304.50" y1="507.30" x2="304.50" y2="504.30" stroke="#000" stroke-width="1.25"/>
<line x1="304.50" y1="295.60" x2="304.50" y2="298.60" stroke="#000" stroke-width="1.25"/>
<line x1="308.50" y1="507.30" x2="308.50" y2="504.30" stroke="#000" stroke-width="1.25"/>
<line x1="308.50" y1="295.60" x2="308.50" y2="298.60" stroke="#000" stroke-width="1.25"/>
<line x1="312.50" y1="507.30" x2="312.50" y2="504.30" stroke="#000" stroke-width="1.25"/>
<line x1="312.50" y1="295.60" x2="312.50" y2="298.60" stroke="#000" stroke-width="1.25"/>
<line x1="316.50" y1="507.30" x2="316.50" y2="504.30" stroke="#000" stroke-width="1.25"/>
<line x1="316.50" y1="295.60" x2="316.50" y2="298.60" stroke="#000" stroke-width="1.25"/>
<line x1="319.50" y1="507.30" x2="319.50" y2="501.30" stroke="#000" stroke-width="1.25"/>
<line x1="319.50" y1="295.60" x2="319.50" y2="301.60" stroke="#000" stroke-width="1.25"/>
<rect x="36.6" y="295.6" width="294.50" height="211.70" fill="none" stroke="#000" stroke-width="1.3"/>
<rect x="331.10" y="295.60" width="21.50" height="211.70" fill="url(#cbg)"/>
<line x1="331.10" y1="301.50" x2="334.10" y2="301.50" stroke="#000" stroke-width="0.8"/>
<line x1="352.60" y1="301.50" x2="349.60" y2="301.50" stroke="#000" stroke-width="0.8"/>
<line x1="331.10" y1="314.50" x2="334.10" y2="314.50" stroke="#000" stroke-width="0.8"/>
<line x1="352.60" y1="314.50" x2="349.60" y2="314.50" stroke="#000" stroke-width="0.8"/>
<line x1="331.10" y1="327.50" x2="334.10" y2="327.50" stroke="#000" stroke-width="0.8"/>
<line x1="352.60" y1="327.50" x2="349.60" y2="327.50" stroke="#000" stroke-width="0.8"/>
<line x1="331.10" y1="339.50" x2="334.10" y2="339.50" stroke="#000" stroke-width="0.8"/>
<line x1="352.60" y1="339.50" x2="349.60" y2="339.50" stroke="#000" stroke-width="0.8"/>
<line x1="331.10" y1="352.50" x2="334.10" y2="352.50" stroke="#000" stroke-width="0.8"/>
<line x1="352.60" y1="352.50" x2="349.60" y2="352.50" stroke="#000" stroke-width="0.8"/>
<line x1="331.10" y1="365.50" x2="334.10" y2="365.50" stroke="#000" stroke-width="0.8"/>
<line x1="352.60" y1="365.50" x2="349.60" y2="365.50" stroke="#000" stroke-width="0.8"/>
<line x1="331.10" y1="378.50" x2="334.10" y2="378.50" stroke="#000" stroke-width="0.8"/>
<line x1="352.60" y1="378.50" x2="349.60" y2="378.50" stroke="#000" stroke-width="0.8"/>
<line x1="331.10" y1="391.50" x2="334.10" y2="391.50" stroke="#000" stroke-width="0.8"/>
<line x1="352.60" y1="391.50" x2="349.60" y2="391.50" stroke="#000" stroke-width="0.8"/>
<line x1="331.10" y1="403.50" x2="334.10" y2="403.50" stroke="#000" stroke-width="0.8"/>
<line x1="352.60" y1="403.50" x2="349.60" y2="403.50" stroke="#000" stroke-width="0.8"/>
<line x1="331.10" y1="416.50" x2="334.10" y2="416.50" stroke="#000" stroke-width="0.8"/>
<line x1="352.60" y1="416.50" x2="349.60" y2="416.50" stroke="#000" stroke-width="0.8"/>
<line x1="331.10" y1="429.50" x2="334.10" y2="429.50" stroke="#000" stroke-width="0.8"/>
<line x1="352.60" y1="429.50" x2="349.60" y2="429.50" stroke="#000" stroke-width="0.8"/>
<line x1="331.10" y1="442.50" x2="334.10" y2="442.50" stroke="#000" stroke-width="0.8"/>
<line x1="352.60" y1="442.50" x2="349.60" y2="442.50" stroke="#000" stroke-width="0.8"/>
<line x1="331.10" y1="455.50" x2="334.10" y2="455.50" stroke="#000" stroke-width="0.8"/>
<line x1="352.60" y1="455.50" x2="349.60" y2="455.50" stroke="#000" stroke-width="0.8"/>
<line x1="331.10" y1="467.50" x2="334.10" y2="467.50" stroke="#000" stroke-width="0.8"/>
<line x1="352.60" y1="467.50" x2="349.60" y2="467.50" stroke="#000" stroke-width="0.8"/>
<line x1="331.10" y1="480.50" x2="334.10" y2="480.50" stroke="#000" stroke-width="0.8"/>
<line x1="352.60" y1="480.50" x2="349.60" y2="480.50" stroke="#000" stroke-width="0.8"/>
<line x1="331.10" y1="493.50" x2="334.10" y2="493.50" stroke="#000" stroke-width="0.8"/>
<line x1="352.60" y1="493.50" x2="349.60" y2="493.50" stroke="#000" stroke-width="0.8"/>
<line x1="331.10" y1="506.50" x2="334.10" y2="506.50" stroke="#000" stroke-width="0.8"/>
<line x1="352.60" y1="506.50" x2="349.60" y2="506.50" stroke="#000" stroke-width="0.8"/>
<line x1="331.10" y1="301.50" x2="335.60" y2="301.50" stroke="#000" stroke-width="0.8"/>
<line x1="352.60" y1="301.50" x2="348.10" y2="301.50" stroke="#000" stroke-width="0.8"/>
<line x1="331.10" y1="365.50" x2="335.60" y2="365.50" stroke="#000" stroke-width="0.8"/>
<line x1="352.60" y1="365.50" x2="348.10" y2="365.50" stroke="#000" stroke-width="0.8"/>
<line x1="331.10" y1="429.50" x2="335.60" y2="429.50" stroke="#000" stroke-width="0.8"/>
<line x1="352.60" y1="429.50" x2="348.10" y2="429.50" stroke="#000" stroke-width="0.8"/>
<line x1="331.10" y1="493.50" x2="335.60" y2="493.50" stroke="#000" stroke-width="0.8"/>
<line x1="352.60" y1="493.50" x2="348.10" y2="493.50" stroke="#000" stroke-width="0.8"/>
<rect x="331.10" y="295.60" width="21.50" height="211.70" fill="none" stroke="#000" stroke-width="1.8"/>
<text transform="translate(29.00,504.10) rotate(-90)" font-family="Liberation Sans" font-weight="bold" font-size="13.5" text-anchor="middle" stroke="#000" stroke-width="0.35">0</text>
<text transform="translate(29.00,437.04) rotate(-90)" font-family="Liberation Sans" font-weight="bold" font-size="13.5" text-anchor="middle" stroke="#000" stroke-width="0.35">2</text>
<text transform="translate(29.00,369.98) rotate(-90)" font-family="Liberation Sans" font-weight="bold" font-size="13.5" text-anchor="middle" stroke="#000" stroke-width="0.35">4</text>
<text transform="translate(29.00,302.92) rotate(-90)" font-family="Liberation Sans" font-weight="bold" font-size="13.5" text-anchor="middle" stroke="#000" stroke-width="0.35">6</text>
<text transform="translate(9.50,401.30) rotate(-90)" font-family="Liberation Sans" font-weight="bold" font-size="13.5" text-anchor="middle" stroke="#000" stroke-width="0.35"><tspan font-style="italic">θ</tspan></text>
<text transform="translate(184.48,522.70)" font-family="Liberation Sans" font-weight="bold" font-size="13.5" text-anchor="middle" stroke="#000" stroke-width="0.35">0.01</text>
<text transform="translate(251.88,522.70)" font-family="Liberation Sans" font-weight="bold" font-size="13.5" text-anchor="middle" stroke="#000" stroke-width="0.35">0.1</text>
<text transform="translate(319.28,522.70)" font-family="Liberation Sans" font-weight="bold" font-size="13.5" text-anchor="middle" stroke="#000" stroke-width="0.35">1</text>
<text transform="translate(49.68,522.70)" font-family="Liberation Sans" font-weight="bold" font-size="13.5" text-anchor="middle" stroke="#000" stroke-width="0.35">10<tspan dy="-5" font-size="10">−4</tspan></text>
<text transform="translate(117.08,522.70)" font-family="Liberation Sans" font-weight="bold" font-size="13.5" text-anchor="middle" stroke="#000" stroke-width="0.35">10<tspan dy="-5" font-size="10">−3</tspan></text>
<text transform="translate(184.80,547.50)" font-family="Liberation Serif" font-weight="bold" font-size="15" text-anchor="middle" stroke="#000" stroke-width="0.35">q</text>
<text transform="translate(364.20,493.40) rotate(-90) scale(0.92,1)" font-family="Liberation Sans" font-weight="bold" font-size="11.4" text-anchor="middle" stroke="#000" stroke-width="0.35">2.2×10<tspan dx="0.5" dy="-6.5" font-size="8.2">4</tspan></text>
<text transform="translate(364.20,429.40) rotate(-90) scale(0.92,1)" font-family="Liberation Sans" font-weight="bold" font-size="11.4" text-anchor="middle" stroke="#000" stroke-width="0.35">2.3×10<tspan dx="0.5" dy="-6.5" font-size="8.2">4</tspan></text>
<text transform="translate(364.20,365.40) rotate(-90) scale(0.92,1)" font-family="Liberation Sans" font-weight="bold" font-size="11.4" text-anchor="middle" stroke="#000" stroke-width="0.35">2.4×10<tspan dx="0.5" dy="-6.5" font-size="8.2">4</tspan></text>
<text transform="translate(364.20,301.40) rotate(-90) scale(0.92,1)" font-family="Liberation Sans" font-weight="bold" font-size="11.4" text-anchor="middle" stroke="#000" stroke-width="0.35">2.5×10<tspan dx="0.5" dy="-6.5" font-size="8.2">4</tspan></text>
<text transform="translate(373.60,304.00) rotate(-90)" font-family="Liberation Sans" font-weight="bold" font-size="11.4" text-anchor="middle" stroke="#000" stroke-width="0.35">χ<tspan dx="4.5" dy="-7" font-size="8.2">2</tspan></text>
<circle cx="328.4" cy="340.1" r="4.7" fill="#000"/>
</svg></body></html>
